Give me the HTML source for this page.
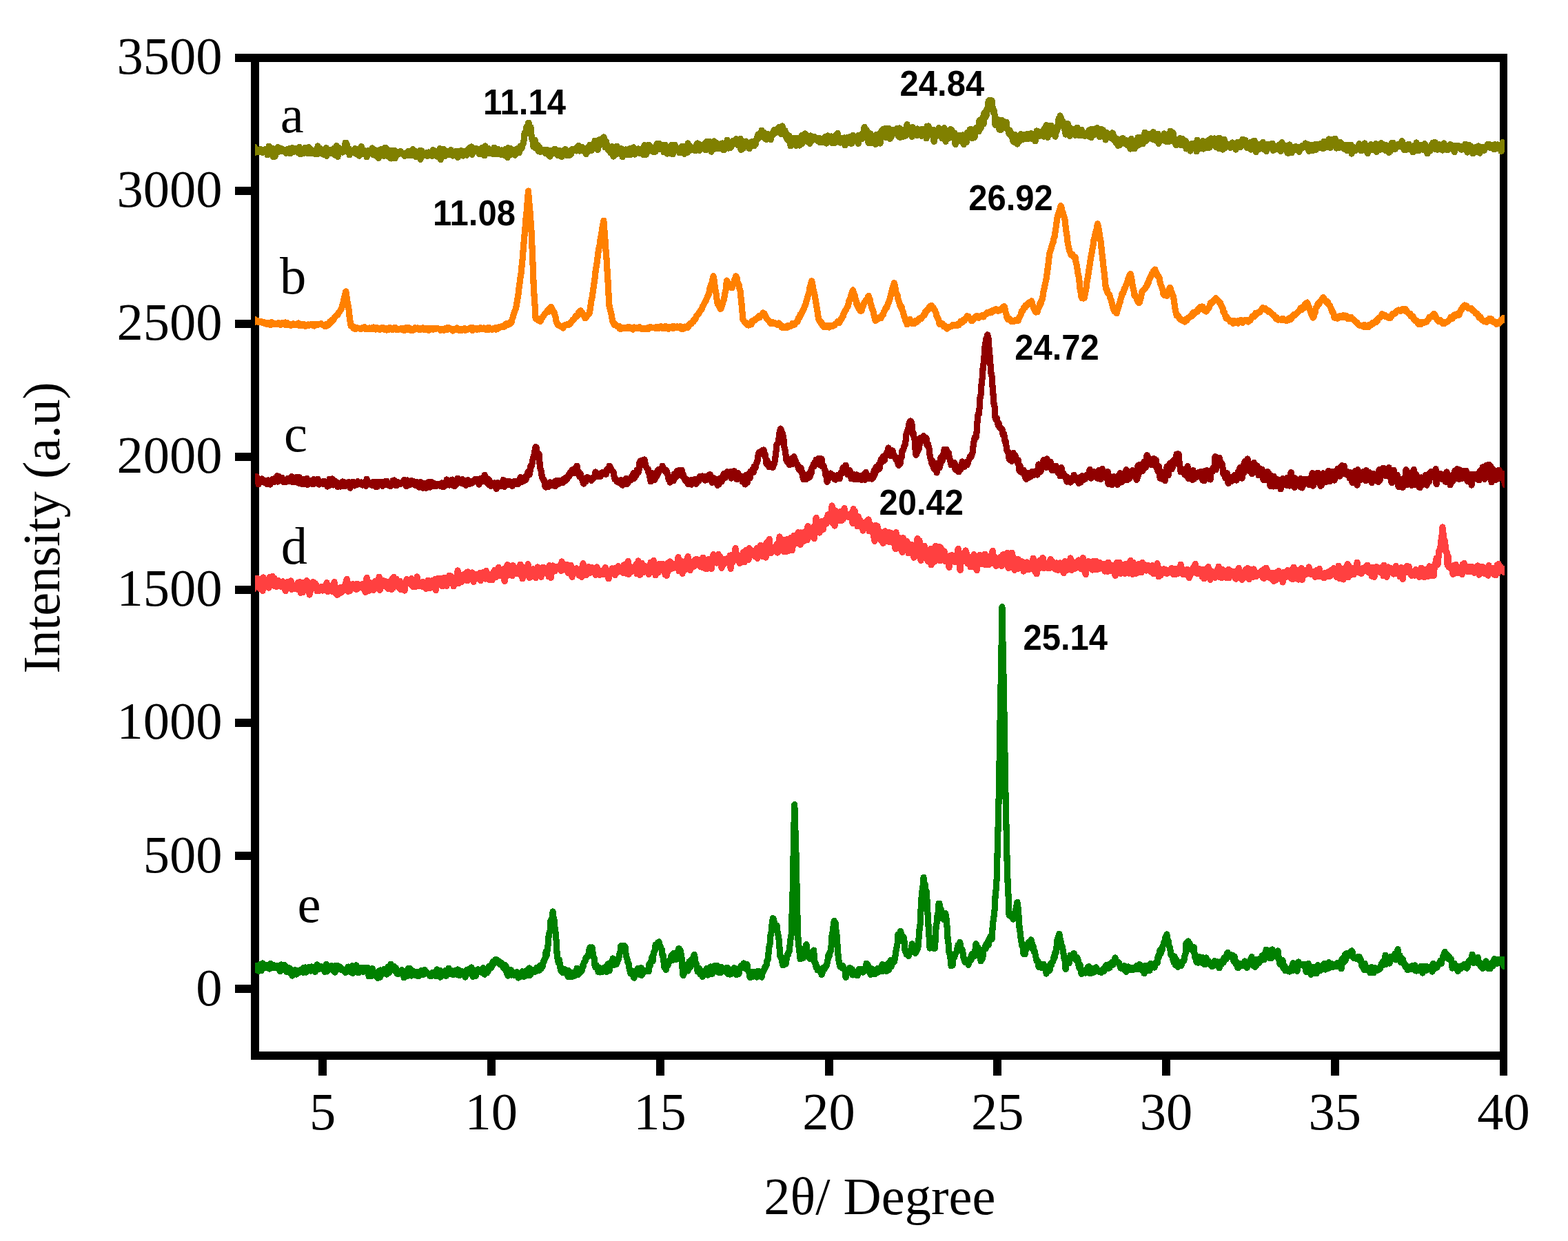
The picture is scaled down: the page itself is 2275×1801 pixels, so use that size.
<!DOCTYPE html>
<html lang="en">
<head>
<meta charset="utf-8">
<title>XRD patterns</title>
<style>
html,body{margin:0;padding:0;background:#fff;}
body{width:2275px;height:1801px;overflow:hidden;}
svg{display:block;}
.ser{font-family:"Liberation Serif",serif;fill:#000;}
.san{font-family:"Liberation Sans",sans-serif;font-weight:bold;fill:#000;}
.cv{fill:none;stroke-linejoin:round;stroke-linecap:butt;shape-rendering:crispEdges;}
</style>
</head>
<body>
<svg width="2275" height="1801" viewBox="0 0 2275 1801">
<rect x="0" y="0" width="2275" height="1801" fill="#fff"/>
<g fill="#000" shape-rendering="crispEdges">
<rect x="364" y="78" width="12" height="1460"/>
<rect x="2176" y="78" width="11" height="1460"/>
<rect x="364" y="78" width="1823" height="12"/>
<rect x="364" y="1526" width="1823" height="12"/>
<rect x="341" y="78" width="24" height="12"/>
<rect x="341" y="271" width="24" height="12"/>
<rect x="341" y="464" width="24" height="12"/>
<rect x="341" y="657" width="24" height="12"/>
<rect x="341" y="850" width="24" height="12"/>
<rect x="341" y="1043" width="24" height="12"/>
<rect x="341" y="1236" width="24" height="12"/>
<rect x="341" y="1429" width="24" height="12"/>
<rect x="462" y="1537" width="12" height="24"/>
<rect x="707" y="1537" width="12" height="24"/>
<rect x="952" y="1537" width="12" height="24"/>
<rect x="1197" y="1537" width="12" height="24"/>
<rect x="1441" y="1537" width="12" height="24"/>
<rect x="1686" y="1537" width="12" height="24"/>
<rect x="1931" y="1537" width="12" height="24"/>
<rect x="2176" y="1537" width="11" height="24"/>
</g>
<defs><clipPath id="plotclip"><rect x="370" y="0" width="1813" height="1801"/></clipPath></defs>
<g clip-path="url(#plotclip)">
<polyline class="cv" stroke="#808000" stroke-width="9.2" points="366.1,221.1 367.1,221.1 368.1,219.4 369.1,213.5 370.1,221.4 371.1,219.8 372.1,216.4 373.1,220.5 374.1,219.9 375.1,219.7 376.1,218.9 377.1,220.9 378.1,216.4 379.1,218.5 380.1,217.5 381.1,221.5 382.1,219.6 383.1,218.5 384.1,216.9 385.1,218.9 386.1,219.9 387.1,219.0 388.1,224.8 389.1,223.7 390.1,212.1 391.1,213.2 392.1,219.4 393.1,218.4 394.1,220.7 395.1,220.7 396.1,227.5 397.1,215.8 398.1,218.4 399.1,227.1 400.1,222.1 401.1,222.1 402.1,217.8 403.1,213.7 404.1,220.2 405.1,220.0 406.1,215.1 407.1,217.1 408.1,219.2 409.1,216.0 410.1,219.1 411.1,219.7 412.1,219.5 413.1,217.5 414.1,221.4 415.1,222.5 416.1,220.4 417.1,216.3 418.1,221.8 419.1,217.3 420.1,222.3 421.1,215.2 422.1,222.4 423.1,219.0 424.1,214.5 425.1,217.9 426.1,219.3 427.1,220.1 428.1,215.6 429.1,215.1 430.1,219.9 431.1,217.5 432.1,220.1 433.1,222.0 434.1,213.3 435.1,220.2 436.1,223.8 437.1,218.3 438.1,216.4 439.1,222.1 440.1,220.3 441.1,222.7 442.1,218.2 443.1,214.1 444.1,219.1 445.1,217.9 446.1,222.4 447.1,220.3 448.1,213.7 449.1,215.3 450.1,222.9 451.1,222.2 452.1,217.4 453.1,219.8 454.1,221.4 455.1,221.5 456.1,223.0 457.1,220.8 458.1,219.6 459.1,219.0 460.1,223.8 461.1,212.0 462.1,219.5 463.1,220.2 464.1,214.9 465.1,221.3 466.1,217.7 467.1,223.2 468.1,219.6 469.1,222.4 470.1,224.4 471.1,221.3 472.1,216.7 473.1,214.4 474.1,226.2 475.1,219.4 476.1,217.3 477.1,220.3 478.1,219.0 479.1,222.8 480.1,219.8 481.1,219.6 482.1,217.0 483.1,221.2 484.1,215.7 485.1,221.9 486.1,225.0 487.1,213.9 488.1,211.4 489.1,221.6 490.1,227.3 491.1,215.6 492.1,214.7 493.1,221.3 494.1,216.1 495.1,217.3 496.1,217.8 497.1,221.0 498.1,217.6 499.1,219.8 500.1,213.6 501.1,207.2 502.1,207.4 503.1,208.7 504.1,216.3 505.1,215.5 506.1,215.6 507.1,224.9 508.1,219.5 509.1,219.5 510.1,221.6 511.1,218.3 512.1,219.0 513.1,221.5 514.1,221.0 515.1,215.8 516.1,223.1 517.1,218.0 518.1,216.3 519.1,216.9 520.1,218.8 521.1,226.2 522.1,216.0 523.1,221.0 524.1,212.6 525.1,220.5 526.1,223.8 527.1,219.7 528.1,218.3 529.1,221.5 530.1,223.2 531.1,223.1 532.1,227.9 533.1,221.6 534.1,218.7 535.1,220.4 536.1,220.7 537.1,221.4 538.1,220.9 539.1,221.7 540.1,215.0 541.1,224.2 542.1,219.1 543.1,217.0 544.1,223.6 545.1,226.1 546.1,223.2 547.1,222.0 548.1,218.1 549.1,229.5 550.1,224.8 551.1,217.5 552.1,218.8 553.1,222.0 554.1,216.1 555.1,222.4 556.1,220.2 557.1,226.4 558.1,225.5 559.1,214.1 560.1,222.3 561.1,216.3 562.1,226.3 563.1,223.0 564.1,224.4 565.1,218.6 566.1,229.2 567.1,230.0 568.1,218.8 569.1,224.1 570.1,220.4 571.1,222.8 572.1,218.4 573.1,229.9 574.1,219.6 575.1,222.1 576.1,225.1 577.1,221.0 578.1,222.5 579.1,221.4 580.1,223.1 581.1,219.4 582.1,222.1 583.1,223.0 584.1,222.6 585.1,224.0 586.1,222.8 587.1,226.6 588.1,222.7 589.1,223.4 590.1,221.5 591.1,222.1 592.1,219.4 593.1,225.9 594.1,219.9 595.1,221.4 596.1,225.4 597.1,225.6 598.1,222.7 599.1,216.8 600.1,225.8 601.1,225.2 602.1,219.2 603.1,227.2 604.1,221.8 605.1,220.3 606.1,224.8 607.1,223.8 608.1,225.2 609.1,218.7 610.1,231.2 611.1,222.3 612.1,218.9 613.1,226.7 614.1,223.1 615.1,225.6 616.1,223.1 617.1,224.1 618.1,225.2 619.1,221.6 620.1,226.7 621.1,222.5 622.1,221.0 623.1,224.5 624.1,225.8 625.1,223.3 626.1,220.9 627.1,226.3 628.1,217.6 629.1,220.2 630.1,224.1 631.1,218.9 632.1,224.0 633.1,223.7 634.1,227.1 635.1,220.5 636.1,221.5 637.1,225.0 638.1,215.7 639.1,231.7 640.1,221.0 641.1,220.8 642.1,226.6 643.1,223.2 644.1,216.8 645.1,225.5 646.1,226.3 647.1,221.4 648.1,222.0 649.1,224.7 650.1,219.6 651.1,224.4 652.1,223.5 653.1,220.2 654.1,217.5 655.1,221.7 656.1,219.3 657.1,226.1 658.1,222.9 659.1,225.1 660.1,222.7 661.1,223.1 662.1,219.2 663.1,224.4 664.1,228.5 665.1,220.7 666.1,219.6 667.1,221.0 668.1,219.6 669.1,218.7 670.1,221.6 671.1,219.8 672.1,226.0 673.1,220.6 674.1,221.6 675.1,223.7 676.1,219.0 677.1,225.2 678.1,217.4 679.1,216.6 680.1,218.1 681.1,218.8 682.1,213.9 683.1,218.9 684.1,212.9 685.1,224.2 686.1,218.9 687.1,216.8 688.1,215.9 689.1,217.9 690.1,218.5 691.1,215.5 692.1,216.0 693.1,218.8 694.1,217.6 695.1,223.0 696.1,223.8 697.1,219.7 698.1,221.4 699.1,214.8 700.1,222.1 701.1,219.7 702.1,221.7 703.1,225.8 704.1,211.9 705.1,221.0 706.1,216.0 707.1,222.3 708.1,215.3 709.1,218.3 710.1,220.9 711.1,222.5 712.1,220.5 713.1,217.4 714.1,218.3 715.1,223.6 716.1,220.3 717.1,214.2 718.1,223.5 719.1,222.0 720.1,223.7 721.1,219.3 722.1,223.6 723.1,216.7 724.1,222.7 725.1,218.8 726.1,223.2 727.1,224.4 728.1,218.0 729.1,220.6 730.1,220.9 731.1,225.2 732.1,223.5 733.1,216.4 734.1,222.6 735.1,223.7 736.1,228.7 737.1,214.6 738.1,218.7 739.1,225.4 740.1,215.4 741.1,215.9 742.1,222.1 743.1,223.8 744.1,217.5 745.1,221.8 746.1,220.1 747.1,225.2 748.1,219.5 749.1,223.0 750.1,215.9 751.1,218.4 752.1,218.6 753.1,221.8 754.1,218.5 755.1,212.2 756.1,216.2 757.1,215.2 758.1,210.6 759.1,208.5 760.1,203.7 761.1,193.2 762.1,195.1 763.1,191.0 764.1,183.5 765.1,186.1 766.5,178.4 767.1,178.4 768.1,182.1 769.1,194.6 770.1,184.7 771.1,197.0 772.1,203.0 773.1,205.6 774.1,213.2 775.1,206.8 776.1,203.2 777.1,215.0 778.1,208.6 779.1,212.6 780.1,210.3 781.1,219.4 782.1,219.5 783.1,214.2 784.1,220.5 785.1,217.8 786.1,217.1 787.1,218.1 788.1,217.4 789.1,220.7 790.1,219.8 791.1,217.6 792.1,222.9 793.1,217.1 794.1,220.7 795.1,221.4 796.1,225.6 797.1,218.5 798.1,227.1 799.1,221.5 800.1,220.2 801.1,218.3 802.1,222.9 803.1,220.9 804.1,216.5 805.1,216.4 806.1,218.4 807.1,217.9 808.1,224.4 809.1,225.3 810.1,223.4 811.1,221.4 812.1,218.4 813.1,220.2 814.1,223.2 815.1,227.7 816.1,223.1 817.1,218.6 818.1,219.7 819.1,217.7 820.1,216.5 821.1,218.6 822.1,219.9 823.1,225.8 824.1,219.1 825.1,223.8 826.1,225.2 827.1,218.8 828.1,224.4 829.1,220.9 830.1,216.6 831.1,219.0 832.1,218.0 833.1,216.9 834.1,216.9 835.1,218.1 836.1,219.0 837.1,214.0 838.1,217.1 839.1,211.4 840.1,217.9 841.1,219.1 842.1,217.2 843.1,217.5 844.1,218.5 845.1,213.7 846.1,215.2 847.1,217.8 848.1,219.5 849.1,217.1 850.1,223.7 851.1,215.0 852.1,218.9 853.1,219.8 854.1,214.4 855.1,211.7 856.1,210.2 857.1,215.1 858.1,218.5 859.1,215.2 860.1,214.7 861.1,212.2 862.1,214.9 863.1,204.2 864.1,212.3 865.1,210.8 866.1,204.9 867.1,217.4 868.1,203.4 869.1,203.8 870.1,202.7 871.1,210.3 872.1,201.9 873.1,206.7 874.1,205.4 875.1,203.2 876.1,198.9 877.1,203.4 878.1,213.8 879.1,204.7 880.1,208.3 881.1,212.0 882.1,216.9 883.1,216.1 884.1,219.1 885.1,213.7 886.1,221.8 887.1,220.5 888.1,212.6 889.1,224.4 890.1,227.0 891.1,216.1 892.1,219.3 893.1,224.5 894.1,213.9 895.1,212.1 896.1,214.8 897.1,217.7 898.1,217.8 899.1,222.4 900.1,221.2 901.1,215.7 902.1,222.6 903.1,227.7 904.1,225.3 905.1,224.6 906.1,220.9 907.1,224.4 908.1,217.0 909.1,223.3 910.1,220.1 911.1,224.5 912.1,221.9 913.1,216.0 914.1,220.4 915.1,224.4 916.1,215.5 917.1,217.5 918.1,216.6 919.1,213.8 920.1,222.9 921.1,224.0 922.1,222.0 923.1,219.8 924.1,218.6 925.1,219.6 926.1,215.9 927.1,221.8 928.1,222.3 929.1,221.7 930.1,216.2 931.1,218.4 932.1,217.4 933.1,224.6 934.1,218.6 935.1,210.8 936.1,219.3 937.1,224.7 938.1,220.2 939.1,220.9 940.1,217.6 941.1,210.1 942.1,210.6 943.1,212.7 944.1,216.8 945.1,218.3 946.1,219.7 947.1,215.8 948.1,220.6 949.1,215.9 950.1,214.2 951.1,220.0 952.1,213.3 953.1,208.4 954.1,212.6 955.1,216.9 956.1,208.2 957.1,215.1 958.1,215.1 959.1,210.9 960.1,210.7 961.1,214.5 962.1,214.1 963.1,220.8 964.1,217.5 965.1,210.1 966.1,212.8 967.1,218.6 968.1,223.1 969.1,217.4 970.1,217.1 971.1,222.9 972.1,215.8 973.1,214.7 974.1,210.5 975.1,213.8 976.1,223.9 977.1,210.4 978.1,215.7 979.1,210.4 980.1,216.1 981.1,218.9 982.1,214.6 983.1,218.3 984.1,218.2 985.1,217.1 986.1,221.9 987.1,218.3 988.1,214.2 989.1,212.8 990.1,212.1 991.1,217.1 992.1,214.0 993.1,223.5 994.1,222.1 995.1,214.4 996.1,213.9 997.1,221.4 998.1,208.0 999.1,213.4 1000.1,218.6 1001.1,211.6 1002.1,213.2 1003.1,213.6 1004.1,217.4 1005.1,215.4 1006.1,216.3 1007.1,217.0 1008.1,214.9 1009.1,218.9 1010.1,212.0 1011.1,209.3 1012.1,208.0 1013.1,208.5 1014.1,212.5 1015.1,218.4 1016.1,215.2 1017.1,212.2 1018.1,210.4 1019.1,212.3 1020.1,212.7 1021.1,212.0 1022.1,208.7 1023.1,212.2 1024.1,217.8 1025.1,205.7 1026.1,212.9 1027.1,205.8 1028.1,214.4 1029.1,210.8 1030.1,205.7 1031.1,213.8 1032.1,220.2 1033.1,213.7 1034.1,217.6 1035.1,212.9 1036.1,205.0 1037.1,214.9 1038.1,211.4 1039.1,207.4 1040.1,215.8 1041.1,213.8 1042.1,210.7 1043.1,215.9 1044.1,209.3 1045.1,214.9 1046.1,208.8 1047.1,214.2 1048.1,208.0 1049.1,217.6 1050.1,212.9 1051.1,217.2 1052.1,208.6 1053.1,209.8 1054.1,214.7 1055.1,203.2 1056.1,207.3 1057.1,215.1 1058.1,212.9 1059.1,214.7 1060.1,209.8 1061.1,213.0 1062.1,208.0 1063.1,205.5 1064.1,204.2 1065.1,208.4 1066.1,208.3 1067.1,207.9 1068.1,201.8 1069.1,202.5 1070.1,207.9 1071.1,210.9 1072.1,207.6 1073.1,206.4 1074.1,201.4 1075.1,217.3 1076.1,205.5 1077.1,216.0 1078.1,215.5 1079.1,210.6 1080.1,207.3 1081.1,210.0 1082.1,205.1 1083.1,210.4 1084.1,209.4 1085.1,211.3 1086.1,212.9 1087.1,215.8 1088.1,207.7 1089.1,213.1 1090.1,206.1 1091.1,205.7 1092.1,206.7 1093.1,205.3 1094.1,211.7 1095.1,209.9 1096.1,209.6 1097.1,203.1 1098.1,202.7 1099.1,197.9 1100.1,195.0 1101.1,200.3 1102.1,198.9 1103.1,193.0 1104.1,198.7 1105.1,189.2 1106.1,194.5 1107.1,193.3 1108.1,194.2 1109.1,192.6 1110.1,200.8 1111.1,199.9 1112.1,202.7 1113.1,199.2 1114.1,194.3 1115.1,198.3 1116.1,195.3 1117.1,200.6 1118.1,202.7 1119.1,198.5 1120.1,194.1 1121.1,194.2 1122.1,195.5 1123.1,188.4 1124.1,193.6 1125.1,192.9 1126.1,189.2 1127.1,188.7 1128.1,190.0 1129.1,185.4 1130.1,184.5 1131.1,189.7 1132.1,188.3 1133.1,194.5 1134.1,185.2 1135.1,182.9 1136.1,193.9 1137.1,194.7 1138.1,189.2 1139.1,189.5 1140.1,197.8 1141.1,194.4 1142.1,202.7 1143.1,196.3 1144.1,204.0 1145.1,197.3 1146.1,204.8 1147.1,211.9 1148.1,205.5 1149.1,209.8 1150.1,204.2 1151.1,203.0 1152.1,200.5 1153.1,209.8 1154.1,205.4 1155.1,211.5 1156.1,200.7 1157.1,204.0 1158.1,204.9 1159.1,209.7 1160.1,211.0 1161.1,201.4 1162.1,199.3 1163.1,196.8 1164.1,208.2 1165.1,202.5 1166.1,200.1 1167.1,202.2 1168.1,194.0 1169.1,195.3 1170.1,205.1 1171.1,202.8 1172.1,201.9 1173.1,197.6 1174.1,203.7 1175.1,208.3 1176.1,197.0 1177.1,201.8 1178.1,200.2 1179.1,203.3 1180.1,202.0 1181.1,201.5 1182.1,198.8 1183.1,202.1 1184.1,199.9 1185.1,201.8 1186.1,202.2 1187.1,205.0 1188.1,200.4 1189.1,201.4 1190.1,206.8 1191.1,202.0 1192.1,201.9 1193.1,206.3 1194.1,204.1 1195.1,203.5 1196.1,204.0 1197.1,198.5 1198.1,204.9 1199.1,208.1 1200.1,205.2 1201.1,197.0 1202.1,203.9 1203.1,199.3 1204.1,201.8 1205.1,203.1 1206.1,197.9 1207.1,207.7 1208.1,202.2 1209.1,205.5 1210.1,204.8 1211.1,207.6 1212.1,206.9 1213.1,196.2 1214.1,202.2 1215.1,193.4 1216.1,200.1 1217.1,204.7 1218.1,205.5 1219.1,207.0 1220.1,200.1 1221.1,202.9 1222.1,201.9 1223.1,206.7 1224.1,208.0 1225.1,199.9 1226.1,210.8 1227.1,201.4 1228.1,199.9 1229.1,204.1 1230.1,204.8 1231.1,203.9 1232.1,198.9 1233.1,208.0 1234.1,202.0 1235.1,208.4 1236.1,207.9 1237.1,196.3 1238.1,197.6 1239.1,197.6 1240.1,203.1 1241.1,202.3 1242.1,203.3 1243.1,198.5 1244.1,204.0 1245.1,208.5 1246.1,196.2 1247.1,200.1 1248.1,200.2 1249.1,196.6 1250.1,194.3 1251.1,201.4 1252.1,197.3 1253.1,193.6 1254.1,184.4 1255.1,197.6 1256.1,190.9 1257.1,188.4 1258.1,191.3 1259.1,192.6 1260.1,207.2 1261.1,200.5 1262.1,202.2 1263.1,194.0 1264.1,207.7 1265.1,199.1 1266.1,198.8 1267.1,207.1 1268.1,200.0 1269.1,208.2 1270.1,209.6 1271.1,195.5 1272.1,203.5 1273.1,196.5 1274.1,203.9 1275.1,207.2 1276.1,194.2 1277.1,208.1 1278.1,195.9 1279.1,189.8 1280.1,193.8 1281.1,198.2 1282.1,187.1 1283.1,193.8 1284.1,186.7 1285.1,199.4 1286.1,194.0 1287.1,190.9 1288.1,198.0 1289.1,186.1 1290.1,190.4 1291.1,201.4 1292.1,191.4 1293.1,198.6 1294.1,192.8 1295.1,188.6 1296.1,191.1 1297.1,193.1 1298.1,190.9 1299.1,189.2 1300.1,189.7 1301.1,186.5 1302.1,194.7 1303.1,196.4 1304.1,198.5 1305.1,186.0 1306.1,199.4 1307.1,195.6 1308.1,188.4 1309.1,195.5 1310.1,198.5 1311.1,196.5 1312.1,196.9 1313.1,197.5 1314.1,196.7 1315.1,191.4 1316.1,180.7 1317.1,186.7 1318.1,191.7 1319.1,187.0 1320.1,192.3 1321.4,188.2 1322.1,188.6 1323.1,198.3 1324.1,184.5 1325.1,194.5 1326.1,188.0 1327.1,187.0 1328.1,194.3 1329.1,188.8 1330.1,196.7 1331.1,187.0 1332.1,193.5 1333.1,189.6 1334.1,193.2 1335.1,193.0 1336.1,188.9 1337.1,197.2 1338.1,187.1 1339.1,187.9 1340.1,196.6 1341.1,196.4 1342.1,194.3 1343.1,192.1 1344.1,200.9 1345.1,183.2 1346.1,184.9 1347.1,183.0 1347.9,187.6 1349.1,190.1 1350.1,195.2 1351.1,195.4 1352.1,190.4 1353.1,188.3 1354.1,188.4 1355.1,205.4 1356.1,200.1 1357.1,199.1 1358.1,195.0 1359.1,195.7 1360.1,195.0 1361.1,195.1 1362.1,185.8 1363.1,196.4 1364.1,194.8 1365.1,198.1 1366.1,197.7 1367.1,200.9 1368.1,196.6 1369.1,200.7 1370.1,185.8 1371.1,191.2 1372.1,205.3 1373.1,190.6 1374.1,195.3 1375.1,200.2 1376.1,192.3 1377.1,200.3 1378.1,189.7 1379.1,187.5 1380.1,190.6 1381.1,189.2 1382.1,197.6 1383.1,196.3 1384.1,199.7 1385.1,193.1 1386.1,209.6 1387.1,198.2 1388.1,198.7 1389.1,201.4 1390.1,198.1 1391.1,196.3 1392.1,200.1 1393.1,204.5 1394.1,203.3 1395.1,204.6 1396.1,197.0 1397.1,195.9 1398.1,209.7 1399.1,198.4 1400.1,201.9 1401.1,203.1 1402.1,206.4 1403.1,192.5 1404.1,196.8 1405.1,196.9 1406.1,197.5 1407.1,188.0 1408.1,198.4 1409.1,187.8 1410.1,200.2 1411.1,200.6 1412.1,199.7 1413.1,189.5 1414.1,199.2 1415.1,188.9 1416.1,185.9 1417.1,186.0 1418.1,185.5 1419.1,189.3 1420.1,190.9 1421.1,174.6 1422.1,180.7 1423.1,186.3 1424.1,181.1 1425.1,181.0 1426.1,169.3 1427.1,179.9 1428.1,163.3 1429.1,167.9 1430.1,169.7 1431.1,168.2 1432.1,157.6 1433.1,157.1 1434.1,147.2 1435.1,145.5 1436.0,145.6 1437.1,148.2 1438.1,149.9 1439.1,145.9 1440.1,156.1 1441.1,163.0 1442.1,160.5 1443.1,166.6 1444.1,181.7 1445.1,177.0 1446.1,176.0 1447.1,173.2 1448.1,177.1 1449.1,180.4 1450.1,188.2 1451.1,177.4 1452.1,188.5 1453.1,174.1 1454.1,176.0 1455.1,181.5 1456.1,177.8 1457.1,176.5 1458.1,181.6 1459.1,186.1 1460.1,177.1 1461.1,185.7 1462.1,187.7 1463.1,187.5 1464.1,194.3 1465.1,189.2 1466.1,191.4 1467.1,194.6 1468.1,199.2 1469.1,195.9 1470.1,205.5 1471.1,195.1 1472.1,206.2 1473.1,195.7 1474.1,198.9 1475.1,201.3 1476.1,209.1 1477.1,203.4 1478.1,197.1 1479.1,205.0 1480.1,197.7 1481.1,194.8 1482.1,200.5 1483.1,198.6 1484.1,202.5 1485.1,195.3 1486.1,199.5 1487.1,200.5 1488.1,198.6 1489.1,197.3 1490.1,194.3 1491.1,201.8 1492.1,198.3 1493.1,200.1 1494.1,196.3 1495.1,198.1 1496.1,193.3 1497.1,198.6 1498.1,201.8 1499.1,198.8 1500.1,202.4 1501.1,200.0 1502.1,204.9 1503.1,197.2 1504.1,190.0 1505.1,198.6 1506.1,195.2 1507.1,190.9 1508.1,197.5 1509.1,195.1 1510.1,195.2 1511.1,191.0 1512.1,192.7 1513.1,192.2 1514.1,198.2 1515.1,186.7 1516.1,188.9 1517.1,190.8 1518.1,181.8 1519.1,182.6 1520.1,199.2 1521.1,182.3 1522.1,192.7 1523.1,186.7 1524.1,187.3 1525.1,182.2 1526.1,187.1 1527.1,194.5 1528.1,185.4 1529.1,194.1 1530.1,192.9 1531.1,198.2 1532.1,185.6 1533.1,190.9 1534.1,187.3 1535.1,180.4 1536.1,172.2 1537.1,182.8 1538.1,167.9 1539.1,170.7 1540.1,177.1 1541.1,181.2 1542.1,176.0 1543.1,182.5 1544.1,183.0 1545.1,189.9 1546.1,195.0 1547.1,179.3 1548.1,191.5 1549.1,179.6 1550.1,189.1 1551.1,184.7 1552.1,197.4 1553.1,190.1 1554.1,186.6 1555.1,187.7 1556.1,187.5 1557.1,190.7 1558.1,189.5 1559.1,192.9 1560.1,196.5 1561.1,193.6 1562.1,186.3 1563.1,185.1 1564.1,189.0 1565.1,196.6 1566.1,191.5 1567.1,190.6 1568.1,194.2 1569.1,188.4 1570.1,189.9 1571.1,196.9 1572.1,194.1 1573.1,193.9 1574.1,197.3 1575.1,193.9 1576.1,193.0 1577.1,193.4 1578.1,197.2 1579.1,194.5 1580.1,189.0 1581.1,192.1 1582.1,195.3 1583.1,199.7 1584.1,187.2 1585.1,192.6 1586.1,189.7 1587.1,193.6 1588.1,191.6 1589.1,195.1 1590.1,190.8 1591.1,186.1 1592.1,185.6 1593.1,189.5 1594.1,190.5 1595.1,198.7 1596.1,197.6 1597.1,187.3 1598.1,194.3 1599.1,188.7 1600.1,188.4 1601.1,198.2 1602.1,197.9 1603.1,192.0 1604.1,203.0 1605.1,193.0 1606.1,192.6 1607.1,200.2 1608.1,198.9 1609.1,197.7 1610.1,198.5 1611.1,200.0 1612.1,199.0 1613.1,199.2 1614.1,192.8 1615.1,195.4 1616.1,203.5 1617.1,198.7 1618.1,204.0 1619.1,207.1 1620.1,201.1 1621.1,203.9 1622.1,211.2 1623.1,206.0 1624.1,210.8 1625.1,209.8 1626.1,207.0 1627.1,203.8 1628.1,201.2 1629.1,200.4 1630.1,206.9 1631.1,207.1 1632.1,204.8 1633.1,209.1 1634.1,203.6 1635.1,210.6 1636.1,206.7 1637.1,206.6 1638.1,207.0 1639.1,206.9 1640.1,216.1 1641.1,201.4 1642.1,208.7 1643.1,213.1 1644.1,211.3 1645.1,207.6 1646.1,215.8 1647.1,205.1 1648.1,204.4 1649.1,211.9 1650.1,203.1 1651.1,199.3 1652.1,210.5 1653.1,209.2 1654.1,208.2 1655.1,202.6 1656.1,204.4 1657.1,199.0 1658.1,208.7 1659.1,204.2 1660.1,203.3 1661.1,192.1 1662.1,202.2 1663.1,204.3 1664.1,202.5 1665.1,200.2 1666.1,196.5 1667.1,194.5 1668.1,197.5 1669.1,196.0 1670.1,195.2 1671.1,193.7 1672.1,202.0 1673.1,191.5 1674.1,196.6 1675.1,195.0 1676.1,201.8 1677.1,204.0 1678.1,203.9 1679.1,202.4 1680.1,194.3 1681.1,208.2 1682.1,202.4 1683.1,200.3 1684.1,201.1 1685.1,200.0 1686.1,203.2 1687.1,203.1 1688.1,200.8 1689.1,194.0 1690.1,202.6 1691.1,204.9 1692.1,205.4 1693.1,203.1 1694.1,204.8 1695.1,205.7 1696.1,198.6 1697.1,204.8 1698.1,190.2 1699.1,191.6 1700.1,191.7 1700.9,194.1 1702.1,192.8 1703.1,203.7 1704.1,205.8 1705.1,203.6 1706.1,210.7 1707.1,205.4 1708.1,202.9 1709.1,206.1 1710.1,205.0 1711.1,208.7 1712.1,200.5 1713.1,210.5 1714.1,205.2 1715.1,210.7 1716.1,201.8 1717.1,206.5 1718.1,208.8 1719.1,212.3 1720.1,204.5 1721.1,216.0 1722.1,211.8 1723.1,208.3 1724.1,215.1 1725.1,210.9 1726.1,215.0 1727.1,219.1 1728.1,213.7 1729.1,208.8 1730.1,209.3 1731.1,213.2 1732.1,212.2 1733.1,208.0 1734.1,208.7 1735.1,213.9 1736.1,219.9 1737.1,203.1 1738.1,214.4 1739.1,210.9 1740.1,214.8 1741.1,215.2 1742.1,212.2 1743.1,208.1 1744.1,206.7 1745.1,204.6 1746.1,216.1 1747.1,210.4 1748.1,208.8 1749.1,209.5 1750.1,205.2 1751.1,211.1 1752.1,214.7 1753.1,213.7 1754.1,203.1 1755.1,214.0 1756.1,205.6 1757.1,200.9 1758.1,203.2 1759.1,203.9 1760.1,207.3 1761.1,203.1 1762.1,201.0 1763.1,205.4 1764.1,213.5 1765.1,203.4 1766.1,208.2 1767.1,207.0 1768.1,215.3 1769.1,200.1 1770.1,211.7 1771.1,203.0 1772.1,205.9 1773.1,208.1 1774.1,217.1 1775.1,206.1 1776.1,202.2 1777.1,214.5 1778.1,206.7 1779.1,209.3 1780.1,210.4 1781.1,211.2 1782.1,210.5 1783.1,212.2 1784.1,212.6 1785.1,214.3 1786.1,209.5 1787.1,208.2 1788.1,207.0 1789.1,213.2 1790.1,210.8 1791.1,213.0 1792.1,212.9 1793.1,217.2 1794.1,211.6 1795.1,213.6 1796.1,206.2 1797.1,206.6 1798.1,209.5 1799.1,206.0 1800.1,213.2 1801.1,205.5 1802.1,210.7 1803.1,202.2 1804.1,206.2 1805.1,209.1 1806.1,209.4 1807.1,203.7 1808.1,211.0 1809.1,214.4 1810.1,213.3 1811.1,208.6 1812.1,209.0 1813.1,206.9 1814.1,213.8 1815.1,217.0 1816.1,209.8 1817.1,205.5 1818.1,212.8 1819.1,214.8 1820.1,204.1 1821.1,213.0 1822.1,220.7 1823.1,215.8 1824.1,214.9 1825.1,214.5 1826.1,217.1 1827.1,209.8 1828.1,210.2 1829.1,214.9 1830.1,210.8 1831.1,214.4 1832.1,206.3 1833.1,216.3 1834.1,216.7 1835.1,213.7 1836.1,214.2 1837.1,219.6 1838.1,209.6 1839.1,210.2 1840.1,209.6 1841.1,212.1 1842.1,210.0 1843.1,213.9 1844.1,211.4 1845.1,208.4 1846.1,208.1 1847.1,218.4 1848.1,213.7 1849.1,213.1 1850.1,214.1 1851.1,213.7 1852.1,216.9 1853.1,216.2 1854.1,211.9 1855.1,211.1 1856.1,210.1 1857.1,209.5 1858.1,219.4 1859.1,210.8 1860.1,206.7 1861.1,211.1 1862.1,211.3 1863.1,215.4 1864.1,210.9 1865.1,216.2 1866.1,215.6 1867.1,218.9 1868.1,222.2 1869.1,222.3 1870.1,219.2 1871.1,209.9 1872.1,212.7 1873.1,215.1 1874.1,221.8 1875.1,216.7 1876.1,218.6 1877.1,213.5 1878.1,216.4 1879.1,216.8 1880.1,212.5 1881.1,217.0 1882.1,218.1 1883.1,213.6 1884.1,217.9 1885.1,220.3 1886.1,214.4 1887.1,214.1 1888.1,212.9 1889.1,211.7 1890.1,214.5 1891.1,212.3 1892.1,212.6 1893.1,210.9 1894.1,208.0 1895.1,210.1 1896.1,214.7 1897.1,209.1 1898.1,211.0 1899.1,219.3 1900.1,217.3 1901.1,210.6 1902.1,215.3 1903.1,210.6 1904.1,218.9 1905.1,210.7 1906.1,213.1 1907.1,217.8 1908.1,209.6 1909.1,217.4 1910.1,209.5 1911.1,213.3 1912.1,211.3 1913.1,212.0 1914.1,212.8 1915.1,211.9 1916.1,208.3 1917.1,214.8 1918.1,213.8 1919.1,215.5 1920.1,215.4 1921.1,205.1 1922.1,214.2 1923.1,213.9 1924.1,206.8 1925.1,212.1 1926.1,213.2 1927.1,205.5 1928.1,202.0 1929.1,205.3 1930.1,214.3 1931.1,207.0 1932.1,202.2 1933.1,206.2 1934.1,204.0 1935.1,206.6 1936.1,208.9 1937.1,201.1 1938.1,210.9 1939.1,215.2 1940.1,209.7 1941.1,209.3 1942.1,214.9 1943.1,206.6 1944.1,207.0 1945.1,206.7 1946.1,211.4 1947.1,213.7 1948.1,212.2 1949.1,214.8 1950.1,216.1 1951.1,215.1 1952.1,210.6 1953.1,212.9 1954.1,218.6 1955.1,210.5 1956.1,213.5 1957.1,213.0 1958.1,214.0 1959.1,211.0 1960.1,210.1 1961.1,223.1 1962.1,218.7 1963.1,212.8 1964.1,215.3 1965.1,218.1 1966.1,214.6 1967.1,218.2 1968.1,213.9 1969.1,215.0 1970.1,216.1 1971.1,214.9 1972.1,208.8 1973.1,216.9 1974.1,217.9 1975.1,218.8 1976.1,213.4 1977.1,217.9 1978.1,217.2 1979.1,209.8 1980.1,208.0 1981.1,217.4 1982.1,212.0 1983.1,218.8 1984.1,222.6 1985.1,212.6 1986.1,212.0 1987.1,214.1 1988.1,216.4 1989.1,209.6 1990.1,217.9 1991.1,216.7 1992.1,215.3 1993.1,210.8 1994.1,216.1 1995.1,215.9 1996.1,208.7 1997.1,220.5 1998.1,212.0 1999.1,214.5 2000.1,211.4 2001.1,214.7 2002.1,217.6 2003.1,210.7 2004.1,207.7 2005.1,212.1 2006.1,209.1 2007.1,211.2 2008.1,213.5 2009.1,213.8 2010.1,218.7 2011.1,210.5 2012.1,215.3 2013.1,212.1 2014.1,218.6 2015.1,221.5 2016.1,214.6 2017.1,219.4 2018.1,211.4 2019.1,207.5 2020.1,208.5 2021.1,207.3 2022.1,209.4 2023.1,211.8 2024.1,216.6 2025.1,214.9 2026.1,213.9 2027.1,210.6 2028.1,209.5 2029.1,212.0 2030.1,212.3 2031.1,212.6 2032.1,212.8 2033.1,211.0 2034.1,204.5 2035.1,207.4 2036.1,208.6 2037.1,217.7 2038.1,210.3 2039.1,214.4 2040.1,217.3 2041.1,213.5 2042.1,211.1 2043.1,211.6 2044.1,209.2 2045.1,214.1 2046.1,217.2 2047.1,215.4 2048.1,216.2 2049.1,216.2 2050.1,220.9 2051.1,211.8 2052.1,214.8 2053.1,216.9 2054.1,218.9 2055.1,207.0 2056.1,213.0 2057.1,214.3 2058.1,211.6 2059.1,218.4 2060.1,216.3 2061.1,214.3 2062.1,210.2 2063.1,211.4 2064.1,212.8 2065.1,217.7 2066.1,211.6 2067.1,208.5 2068.1,210.5 2069.1,213.3 2070.1,221.1 2071.1,222.8 2072.1,213.2 2073.1,218.0 2074.1,219.4 2075.1,218.9 2076.1,213.8 2077.1,209.4 2078.1,212.1 2079.1,207.1 2080.1,214.3 2081.1,216.0 2082.1,206.5 2083.1,212.8 2084.1,213.8 2085.1,217.0 2086.1,217.2 2087.1,215.0 2088.1,209.7 2089.1,210.9 2090.1,216.5 2091.1,210.3 2092.1,212.4 2093.1,218.1 2094.1,213.2 2095.1,208.0 2096.1,211.9 2097.1,215.2 2098.1,212.5 2099.1,217.3 2100.1,217.8 2101.1,211.2 2102.1,211.8 2103.1,213.3 2104.1,209.5 2105.1,215.1 2106.1,213.3 2107.1,216.7 2108.1,212.0 2109.1,211.1 2110.1,220.6 2111.1,211.3 2112.1,212.3 2113.1,211.9 2114.1,213.4 2115.1,211.3 2116.1,214.4 2117.1,212.2 2118.1,213.2 2119.1,216.0 2120.1,217.2 2121.1,216.4 2122.1,212.3 2123.1,216.3 2124.1,214.5 2125.1,214.6 2126.1,209.1 2127.1,217.4 2128.1,214.7 2129.1,221.1 2130.1,217.5 2131.1,211.4 2132.1,210.6 2133.1,219.4 2134.1,212.4 2135.1,217.9 2136.1,214.5 2137.1,222.8 2138.1,215.9 2139.1,220.8 2140.1,220.0 2141.1,213.7 2142.1,214.1 2143.1,220.2 2144.1,215.0 2145.1,211.9 2146.1,218.9 2147.1,222.2 2148.1,214.4 2149.1,219.2 2150.1,213.8 2151.1,218.9 2152.1,213.3 2153.1,218.6 2154.1,215.8 2155.1,213.1 2156.1,214.5 2157.1,211.7 2158.1,209.6 2159.1,209.7 2160.1,213.0 2161.1,209.5 2162.1,214.5 2163.1,214.7 2164.1,214.4 2165.1,211.0 2166.1,212.7 2167.1,212.3 2168.1,216.8 2169.1,209.6 2170.1,211.1 2171.1,211.7 2172.1,212.0 2173.1,210.0 2174.1,210.5 2175.1,216.1 2176.1,210.5 2177.1,215.9 2178.1,219.7 2179.1,217.2 2180.1,206.7 2181.1,215.6 2182.1,214.6 2183.1,214.8 2184.1,207.4 2185.1,215.5 2186.1,209.2 2187.0,209.2"/>
<polyline class="cv" stroke="#ff8000" stroke-width="9.2" points="366.1,465.0 367.1,465.0 368.1,465.1 369.1,463.3 370.1,467.3 371.1,466.7 372.1,465.5 373.1,466.9 374.1,466.6 375.1,466.0 376.1,467.8 377.1,466.7 378.1,467.0 379.1,466.7 380.1,468.2 381.1,467.9 382.1,468.8 383.1,467.9 384.1,468.9 385.1,468.1 386.1,470.1 387.1,469.7 388.1,470.0 389.1,470.1 390.1,468.6 391.1,470.4 392.1,471.7 393.1,468.0 394.1,467.9 395.1,468.1 396.1,470.5 397.1,469.8 398.1,470.7 399.1,470.4 400.1,469.9 401.1,469.9 402.1,469.5 403.1,470.5 404.1,468.5 405.1,469.2 406.1,469.9 407.1,471.4 408.1,468.9 409.1,468.6 410.1,469.1 411.1,470.7 412.1,469.5 413.1,471.2 414.1,468.0 415.1,471.1 416.1,471.1 417.1,468.7 418.1,470.3 419.1,471.5 420.1,470.4 421.1,471.4 422.1,472.6 423.1,470.8 424.1,470.3 425.1,469.9 426.1,471.4 427.1,470.6 428.1,470.7 429.1,470.8 430.1,471.6 431.1,470.0 432.1,469.6 433.1,469.0 434.1,472.4 435.1,471.4 436.1,472.9 437.1,471.4 438.1,470.8 439.1,472.1 440.1,471.6 441.1,470.5 442.1,470.9 443.1,473.6 444.1,472.2 445.1,472.2 446.1,471.5 447.1,471.1 448.1,472.6 449.1,471.6 450.1,470.9 451.1,471.5 452.1,470.8 453.1,471.8 454.1,472.7 455.1,470.7 456.1,473.0 457.1,470.9 458.1,471.7 459.1,470.6 460.1,471.2 461.1,471.5 462.1,471.0 463.1,470.7 464.1,470.7 465.1,470.5 466.1,469.7 467.1,471.0 468.1,471.7 469.1,472.1 470.1,471.9 471.1,473.4 472.1,471.5 473.1,470.7 474.1,473.0 475.1,470.0 476.1,472.0 477.1,469.8 478.1,469.9 479.1,466.4 480.1,468.1 481.1,465.9 482.1,463.9 483.1,465.4 484.1,463.3 485.1,461.4 486.1,459.5 487.1,459.0 488.1,457.8 489.1,457.5 490.1,456.5 491.1,453.8 492.1,452.8 493.1,451.7 494.1,449.7 495.1,448.8 496.1,445.3 497.1,442.2 498.1,438.9 499.1,432.9 500.1,430.3 501.1,425.4 501.8,423.0 503.1,431.2 504.1,438.2 505.1,443.3 506.1,450.1 507.1,459.1 508.1,466.5 509.1,473.0 510.1,471.7 511.1,474.5 512.1,473.5 513.1,476.7 514.1,475.3 515.1,477.3 516.1,475.2 517.1,477.0 518.1,475.7 519.1,476.2 520.1,476.7 521.1,476.3 522.1,476.9 523.1,477.4 524.1,477.4 525.1,476.6 526.1,475.4 527.1,475.9 528.1,476.6 529.1,474.6 530.1,477.5 531.1,476.6 532.1,476.6 533.1,477.8 534.1,477.5 535.1,477.1 536.1,475.9 537.1,477.2 538.1,477.2 539.1,476.0 540.1,477.9 541.1,477.4 542.1,475.0 543.1,477.1 544.1,475.7 545.1,478.1 546.1,477.8 547.1,475.9 548.1,476.1 549.1,477.1 550.1,476.8 551.1,478.6 552.1,477.8 553.1,476.8 554.1,477.7 555.1,475.1 556.1,477.4 557.1,478.0 558.1,476.9 559.1,476.4 560.1,477.7 561.1,479.1 562.1,477.4 563.1,476.1 564.1,478.6 565.1,475.3 566.1,477.7 567.1,476.7 568.1,478.2 569.1,476.4 570.1,478.6 571.1,477.6 572.1,475.6 573.1,475.3 574.1,477.0 575.1,478.6 576.1,477.5 577.1,477.4 578.1,477.1 579.1,478.1 580.1,477.8 581.1,477.7 582.1,476.4 583.1,478.6 584.1,478.8 585.1,476.1 586.1,479.7 587.1,478.2 588.1,477.0 589.1,475.6 590.1,478.1 591.1,478.0 592.1,476.9 593.1,475.7 594.1,478.6 595.1,476.9 596.1,477.1 597.1,479.7 598.1,479.7 599.1,478.5 600.1,477.1 601.1,478.2 602.1,475.4 603.1,477.7 604.1,476.8 605.1,476.3 606.1,476.0 607.1,478.1 608.1,477.7 609.1,477.8 610.1,478.5 611.1,476.8 612.1,476.4 613.1,475.9 614.1,477.3 615.1,478.4 616.1,477.5 617.1,478.3 618.1,476.5 619.1,477.2 620.1,476.9 621.1,476.4 622.1,479.6 623.1,478.6 624.1,476.9 625.1,477.0 626.1,477.7 627.1,476.3 628.1,478.2 629.1,476.4 630.1,477.4 631.1,476.7 632.1,477.3 633.1,476.4 634.1,476.2 635.1,476.8 636.1,477.1 637.1,477.5 638.1,477.9 639.1,479.3 640.1,478.6 641.1,477.6 642.1,478.6 643.1,477.1 644.1,479.3 645.1,478.4 646.1,476.5 647.1,478.6 648.1,478.7 649.1,475.7 650.1,477.1 651.1,477.4 652.1,476.0 653.1,476.8 654.1,477.0 655.1,478.4 656.1,478.2 657.1,480.1 658.1,477.5 659.1,479.1 660.1,478.0 661.1,478.2 662.1,476.8 663.1,476.1 664.1,477.2 665.1,478.7 666.1,479.6 667.1,478.6 668.1,478.4 669.1,477.1 670.1,479.4 671.1,479.2 672.1,477.3 673.1,477.8 674.1,476.8 675.1,479.2 676.1,478.1 677.1,477.6 678.1,478.1 679.1,478.1 680.1,477.2 681.1,476.4 682.1,476.3 683.1,475.8 684.1,478.0 685.1,479.7 686.1,475.8 687.1,477.6 688.1,477.8 689.1,476.4 690.1,477.6 691.1,476.3 692.1,478.5 693.1,476.7 694.1,477.4 695.1,477.9 696.1,476.8 697.1,475.4 698.1,476.7 699.1,477.9 700.1,477.0 701.1,477.3 702.1,476.0 703.1,477.2 704.1,477.8 705.1,477.0 706.1,478.9 707.1,476.8 708.1,475.9 709.1,475.3 710.1,478.0 711.1,476.8 712.1,477.8 713.1,477.3 714.1,478.4 715.1,478.0 716.1,476.4 717.1,477.0 718.1,477.8 719.1,475.4 720.1,478.1 721.1,477.8 722.1,477.4 723.1,475.8 724.1,476.0 725.1,474.2 726.1,475.0 727.1,474.0 728.1,474.3 729.1,473.4 730.1,473.8 731.1,474.3 732.1,471.5 733.1,473.4 734.1,470.1 735.1,469.6 736.1,471.3 737.1,471.0 738.1,471.1 739.1,468.7 740.1,469.9 741.1,469.3 742.1,467.4 743.1,463.1 744.1,460.7 745.1,456.2 746.1,454.0 747.1,450.7 748.1,448.9 749.1,444.2 750.1,438.0 751.1,432.2 752.1,426.2 753.1,417.6 754.1,410.3 755.1,402.4 756.1,396.7 757.1,385.7 758.1,375.9 759.1,363.5 760.1,351.2 761.1,340.6 762.1,328.9 763.1,316.7 764.1,307.2 765.1,294.8 766.5,277.0 767.1,286.0 768.1,297.2 769.1,308.7 770.1,322.7 771.1,336.4 772.1,360.7 773.1,384.6 774.1,411.5 775.1,429.7 776.1,443.2 777.1,461.9 778.1,462.9 779.1,462.8 780.1,464.4 781.1,465.0 782.1,465.5 783.1,465.9 784.1,466.3 785.1,462.2 786.1,462.5 787.1,461.1 788.1,458.9 789.1,457.8 790.1,455.5 791.1,454.8 792.1,454.4 793.1,453.4 794.1,450.9 795.1,452.8 796.1,448.7 797.1,448.2 798.1,446.5 799.3,445.2 800.1,448.0 801.1,448.1 802.1,451.8 803.1,453.5 804.1,453.2 805.1,457.6 806.1,459.9 807.1,466.8 808.1,468.2 809.1,471.5 810.1,470.9 811.1,471.9 812.1,473.1 813.1,473.0 814.1,473.2 815.1,474.1 816.1,475.0 817.1,476.1 818.1,472.5 819.1,473.1 820.1,472.2 821.1,471.2 822.1,470.9 823.1,470.8 824.1,471.9 825.1,470.5 826.1,469.6 827.1,470.3 828.1,468.7 829.1,467.0 830.1,466.4 831.1,463.9 832.1,464.2 833.1,462.8 834.1,460.6 835.1,458.6 836.1,460.1 837.1,457.4 838.1,458.3 839.1,454.2 840.1,454.5 841.1,452.0 842.4,450.8 843.1,452.6 844.1,452.5 845.1,454.7 846.1,456.5 847.1,458.0 848.1,460.0 849.1,461.9 850.1,461.4 851.1,459.9 852.1,458.2 853.1,456.5 854.1,455.9 855.1,454.3 856.1,449.5 857.1,442.4 858.1,435.6 859.1,431.4 860.1,424.0 861.1,417.2 862.1,410.4 863.1,403.8 864.1,393.8 865.1,387.6 866.1,381.5 867.1,373.6 868.1,365.8 869.1,359.2 870.1,355.2 871.1,347.4 872.1,342.7 873.1,336.8 874.1,329.7 875.1,324.7 875.8,320.1 877.1,336.7 878.1,349.4 879.1,364.6 880.1,377.0 881.1,393.5 882.1,409.6 883.1,429.2 884.1,444.8 885.1,448.8 886.1,452.8 887.1,456.4 888.1,462.8 889.1,467.2 890.1,468.5 891.1,471.7 892.1,471.9 893.1,470.8 894.1,471.9 895.1,472.6 896.1,473.8 897.1,474.2 898.1,473.3 899.1,477.0 900.1,476.1 901.1,477.1 902.1,477.1 903.1,475.7 904.1,476.2 905.1,476.7 906.1,476.7 907.1,475.8 908.1,475.4 909.1,476.1 910.1,475.3 911.1,475.5 912.1,474.1 913.1,476.2 914.1,475.1 915.1,475.6 916.1,476.2 917.1,476.6 918.1,478.2 919.1,476.5 920.1,474.9 921.1,476.5 922.1,475.8 923.1,476.8 924.1,475.8 925.1,475.8 926.1,476.0 927.1,475.9 928.1,474.7 929.1,475.9 930.1,476.6 931.1,477.7 932.1,476.2 933.1,476.1 934.1,477.0 935.1,476.9 936.1,477.9 937.1,476.9 938.1,476.2 939.1,477.5 940.1,477.7 941.1,475.6 942.1,476.2 943.1,474.3 944.1,475.6 945.1,475.0 946.1,475.6 947.1,475.3 948.1,475.6 949.1,475.6 950.1,476.2 951.1,475.9 952.1,475.0 953.1,474.2 954.1,476.7 955.1,476.9 956.1,474.9 957.1,475.9 958.1,473.8 959.1,473.7 960.1,474.9 961.1,476.7 962.1,474.2 963.1,474.4 964.1,476.8 965.1,473.3 966.1,475.9 967.1,475.7 968.1,475.0 969.1,475.4 970.1,477.4 971.1,474.1 972.1,474.9 973.1,475.0 974.1,474.5 975.1,473.9 976.1,476.8 977.1,475.4 978.1,473.5 979.1,474.5 980.1,475.6 981.1,475.6 982.1,473.8 983.1,475.1 984.1,475.5 985.1,475.6 986.1,475.6 987.1,473.4 988.1,477.1 989.1,475.4 990.1,477.0 991.1,477.4 992.1,475.0 993.1,474.0 994.1,476.1 995.1,475.0 996.1,474.8 997.1,473.4 998.1,475.3 999.1,472.3 1000.1,470.5 1001.1,470.7 1002.1,469.1 1003.1,469.6 1004.1,468.2 1005.1,466.3 1006.1,466.5 1007.1,463.8 1008.1,463.6 1009.1,462.7 1010.1,459.5 1011.1,457.7 1012.1,457.1 1013.1,456.3 1014.1,453.9 1015.1,452.5 1016.1,450.9 1017.1,449.7 1018.1,448.5 1019.1,445.4 1020.1,443.6 1021.1,442.1 1022.1,439.4 1023.1,438.2 1024.1,436.6 1025.1,434.0 1026.1,431.5 1027.1,428.8 1028.1,427.7 1029.1,423.2 1030.1,417.6 1031.1,414.3 1032.1,413.4 1033.1,409.5 1034.1,404.5 1035.1,400.7 1036.1,406.1 1037.1,414.5 1038.1,422.1 1039.1,426.4 1040.1,434.3 1041.1,440.6 1042.1,442.7 1043.1,442.7 1044.1,445.4 1045.1,448.4 1046.1,448.2 1047.1,444.2 1048.1,441.7 1049.1,437.6 1050.1,435.6 1051.1,430.7 1052.1,424.8 1053.1,420.3 1054.5,407.1 1055.1,408.5 1056.1,410.5 1057.1,412.4 1058.1,413.6 1059.1,415.8 1060.1,417.0 1061.1,417.4 1062.1,417.6 1063.1,414.5 1064.1,411.5 1065.1,408.7 1066.1,404.9 1067.1,403.7 1067.6,400.7 1069.1,403.5 1070.1,409.1 1071.1,411.7 1072.1,413.6 1073.1,419.6 1074.1,422.4 1075.1,432.7 1076.1,442.4 1077.1,454.1 1078.1,464.3 1079.1,465.4 1080.1,467.1 1081.1,467.4 1082.1,468.9 1083.1,469.2 1084.1,471.2 1085.1,471.6 1086.1,472.1 1087.1,471.8 1088.1,470.5 1089.1,470.7 1090.1,470.9 1091.1,465.9 1092.1,467.2 1093.1,465.9 1094.1,465.3 1095.1,463.6 1096.1,464.3 1097.1,463.2 1098.1,462.1 1099.1,461.8 1100.1,460.7 1101.1,458.4 1102.1,460.9 1103.1,458.8 1104.1,457.4 1105.1,457.9 1106.1,456.2 1107.1,454.0 1108.1,456.3 1108.7,454.9 1110.1,457.0 1111.1,459.0 1112.1,462.0 1113.1,463.5 1114.1,464.2 1115.1,465.0 1116.1,466.5 1117.1,468.3 1118.1,469.2 1119.1,468.3 1120.1,467.3 1121.1,469.2 1122.1,468.1 1123.1,468.3 1124.1,468.7 1125.1,469.8 1126.1,469.7 1127.1,470.7 1128.1,471.5 1129.1,471.2 1130.1,468.9 1131.1,469.8 1132.1,472.1 1133.1,472.4 1134.1,475.0 1135.1,473.3 1136.1,473.6 1137.1,475.1 1138.1,475.7 1139.1,474.9 1140.1,475.4 1141.1,473.4 1142.1,473.3 1143.1,475.1 1144.1,472.1 1145.1,474.0 1146.1,473.4 1147.1,473.2 1148.1,472.9 1149.1,472.2 1150.1,469.2 1151.1,469.9 1152.1,470.0 1153.1,471.1 1154.1,468.7 1155.1,468.2 1156.1,466.8 1157.1,466.7 1158.1,462.2 1159.1,460.5 1160.1,460.8 1161.1,456.3 1162.1,457.0 1163.1,454.4 1164.1,451.6 1165.1,451.0 1166.1,448.2 1167.1,446.1 1168.1,443.1 1169.1,441.1 1170.1,436.4 1171.1,433.3 1172.1,429.4 1173.1,426.4 1174.1,423.5 1175.1,416.4 1176.1,415.0 1177.1,409.7 1177.7,407.7 1179.1,414.6 1180.1,420.0 1181.1,424.3 1182.1,428.5 1183.1,434.8 1184.1,440.5 1185.1,446.3 1186.1,452.7 1187.1,459.4 1188.1,464.3 1189.1,465.8 1190.1,465.9 1191.1,468.6 1192.1,468.3 1193.1,472.4 1194.1,471.6 1195.1,473.9 1196.1,474.9 1197.1,472.5 1198.1,474.3 1199.1,473.5 1200.1,472.7 1201.1,472.5 1202.1,474.1 1203.1,475.0 1204.1,474.1 1205.1,472.1 1206.1,472.1 1207.1,472.4 1208.1,473.5 1209.1,471.9 1210.1,471.5 1211.1,471.8 1212.1,469.9 1213.1,469.5 1214.1,468.9 1215.1,466.8 1216.1,468.6 1217.1,468.0 1218.1,468.1 1219.1,464.7 1220.1,463.1 1221.1,462.8 1222.1,460.2 1223.1,459.3 1224.1,455.0 1225.1,454.1 1226.1,451.2 1227.1,450.2 1228.1,447.4 1229.1,446.4 1230.1,444.6 1231.1,441.2 1232.1,435.6 1233.1,435.4 1234.1,431.8 1235.1,427.3 1236.1,424.4 1237.5,421.0 1238.1,423.6 1239.1,426.0 1240.1,428.2 1241.1,433.5 1242.1,436.8 1243.1,442.2 1244.1,441.4 1245.1,446.6 1246.1,447.9 1247.1,448.2 1248.1,451.3 1249.1,451.5 1250.1,450.5 1251.1,446.6 1252.1,445.1 1253.1,441.8 1254.1,439.0 1255.1,438.2 1256.1,436.1 1257.1,435.6 1258.1,434.5 1259.1,431.3 1260.3,429.4 1261.1,432.5 1262.1,434.4 1263.1,440.1 1264.1,443.5 1265.1,447.2 1266.1,449.8 1267.1,452.3 1268.1,457.3 1269.1,461.2 1270.1,465.4 1271.1,464.6 1272.1,464.4 1273.1,462.7 1274.1,462.9 1275.1,461.0 1276.1,461.3 1277.1,461.0 1278.1,461.7 1279.1,459.2 1280.1,456.6 1281.1,457.3 1282.1,453.1 1283.1,451.8 1284.1,449.6 1285.1,447.0 1286.1,447.2 1287.1,444.5 1288.1,441.3 1289.1,440.0 1290.1,436.5 1291.1,433.8 1292.1,429.2 1293.1,425.1 1294.1,421.6 1295.1,418.1 1296.1,415.1 1297.3,410.5 1298.1,413.8 1299.1,418.5 1300.1,424.5 1301.1,427.4 1302.1,428.5 1303.1,434.4 1304.1,437.5 1305.1,440.7 1306.1,444.3 1307.1,445.9 1308.1,445.3 1309.1,450.2 1310.1,452.4 1311.1,455.8 1312.1,460.0 1313.1,460.8 1314.1,466.2 1315.1,466.7 1316.1,470.8 1317.1,469.2 1318.1,469.2 1319.1,464.4 1320.1,463.3 1321.1,465.5 1322.1,465.7 1323.1,469.4 1324.1,468.7 1325.1,468.2 1326.1,469.7 1327.1,468.0 1328.1,468.3 1329.1,465.2 1330.1,467.7 1331.1,464.8 1332.1,465.6 1333.1,463.1 1334.1,462.0 1335.1,462.6 1336.1,462.0 1337.1,462.1 1338.1,459.6 1339.1,458.6 1340.1,457.3 1341.1,457.6 1342.1,453.2 1343.1,454.0 1344.1,451.3 1345.1,450.5 1346.1,448.6 1347.1,449.2 1348.1,445.7 1349.1,444.6 1350.1,444.6 1351.5,443.3 1352.1,444.9 1353.1,446.7 1354.1,446.6 1355.1,449.7 1356.1,449.9 1357.1,452.1 1358.1,454.4 1359.1,459.3 1360.1,460.4 1361.1,462.5 1362.1,465.5 1363.1,470.6 1364.1,468.4 1365.1,470.1 1366.1,470.7 1367.1,469.4 1368.1,471.6 1369.1,473.6 1370.1,473.3 1371.1,472.7 1372.1,474.8 1373.1,475.1 1374.1,477.1 1375.1,474.3 1376.1,474.4 1377.1,474.6 1378.1,474.1 1379.1,474.1 1380.1,473.7 1381.1,472.8 1382.1,471.7 1383.1,472.5 1384.1,471.4 1385.1,471.5 1386.1,471.7 1387.1,472.5 1388.1,472.6 1389.1,470.5 1390.1,471.6 1391.1,471.7 1392.1,470.0 1393.1,467.6 1394.1,466.2 1395.1,468.3 1396.1,467.6 1397.1,466.1 1398.1,463.9 1399.1,465.5 1400.1,464.4 1401.1,462.3 1402.1,461.3 1403.1,458.7 1404.1,460.5 1404.9,459.1 1406.1,461.1 1407.1,462.3 1408.1,462.8 1409.1,465.5 1410.1,464.7 1411.1,465.2 1412.1,464.2 1413.1,462.4 1414.1,460.5 1415.1,460.9 1416.1,458.9 1417.1,458.4 1418.1,458.6 1419.1,459.0 1420.1,461.2 1421.1,459.2 1422.1,459.0 1423.1,458.3 1424.1,458.3 1425.1,457.7 1426.1,460.0 1427.1,459.9 1428.1,457.9 1429.1,456.4 1430.1,456.6 1431.1,455.4 1432.1,453.6 1433.1,454.5 1434.1,453.9 1435.1,453.4 1436.1,453.8 1437.1,452.0 1438.1,453.7 1439.1,450.9 1440.1,452.1 1441.1,451.8 1442.1,450.5 1443.1,450.8 1444.1,448.9 1445.1,448.8 1446.1,450.2 1447.1,449.8 1448.1,451.2 1449.1,450.7 1450.1,450.8 1451.1,449.7 1452.1,448.8 1453.1,447.9 1454.1,446.7 1455.1,445.8 1456.1,447.5 1457.1,444.7 1458.1,448.0 1459.1,453.0 1460.1,456.2 1461.1,461.0 1462.1,463.3 1463.1,461.9 1464.1,463.3 1465.1,462.6 1466.1,465.5 1467.1,466.3 1468.1,464.9 1469.1,466.3 1470.1,465.8 1471.1,465.2 1472.1,466.1 1473.1,464.5 1474.1,465.0 1475.1,465.3 1476.1,465.3 1477.1,465.4 1478.1,461.9 1479.1,460.5 1480.1,458.6 1481.1,456.8 1482.1,452.1 1483.1,451.4 1484.1,451.0 1485.1,447.1 1486.1,447.1 1487.1,446.7 1488.1,443.0 1489.1,443.8 1490.1,443.3 1491.1,442.1 1492.1,439.6 1493.1,440.5 1494.1,438.7 1495.1,439.1 1496.1,437.8 1496.6,436.9 1498.1,442.1 1499.1,444.8 1500.1,448.3 1501.1,450.0 1502.1,451.7 1503.1,453.1 1504.1,452.7 1505.1,452.6 1506.1,449.1 1507.1,446.5 1508.1,444.9 1509.1,439.9 1510.1,440.6 1511.1,435.7 1512.1,434.8 1513.1,429.0 1514.1,422.6 1515.1,419.0 1516.1,413.7 1517.1,409.1 1518.1,404.6 1519.1,397.8 1520.1,389.7 1521.1,381.9 1522.1,373.0 1523.1,366.3 1524.1,363.6 1525.1,360.4 1526.1,357.1 1527.1,353.3 1528.1,351.3 1529.1,345.3 1530.1,343.4 1531.1,336.1 1532.1,330.0 1533.1,322.4 1534.1,315.2 1535.1,311.4 1536.1,309.7 1537.1,305.1 1538.1,303.5 1539.1,298.7 1539.7,299.2 1541.1,306.3 1542.1,308.3 1543.1,312.2 1544.1,315.1 1545.1,319.8 1546.1,328.6 1547.1,336.3 1548.1,343.0 1549.1,352.0 1550.1,356.9 1551.1,361.4 1552.1,365.0 1553.1,367.4 1554.1,369.9 1555.1,370.5 1556.1,369.3 1557.1,372.3 1558.1,372.8 1559.1,374.4 1560.1,372.9 1561.1,380.8 1562.1,384.8 1563.1,391.0 1564.1,397.3 1565.1,401.4 1566.1,409.2 1567.1,419.2 1568.1,424.7 1569.1,431.3 1570.1,432.9 1571.1,432.0 1572.1,433.0 1573.1,432.6 1574.1,427.7 1575.1,422.4 1576.1,417.2 1577.1,408.6 1578.1,404.0 1579.1,397.6 1580.1,390.6 1581.1,384.9 1582.1,377.5 1583.1,371.9 1584.1,366.8 1585.1,360.4 1586.1,355.8 1587.1,347.8 1588.1,344.4 1589.1,339.7 1590.1,335.8 1591.1,332.7 1592.1,326.0 1592.6,324.8 1594.1,332.5 1595.1,338.6 1596.1,345.8 1597.1,350.4 1598.1,360.6 1599.1,369.4 1600.1,378.4 1601.1,387.6 1602.1,395.4 1603.1,405.3 1604.1,415.3 1605.1,420.3 1606.1,420.6 1607.1,425.1 1608.1,426.6 1609.1,426.8 1610.1,429.0 1611.1,433.5 1612.1,434.8 1613.1,439.3 1614.1,443.5 1615.1,446.9 1616.1,450.5 1617.1,452.2 1618.1,451.3 1619.1,452.0 1620.1,454.8 1621.1,450.6 1622.1,447.9 1623.1,444.7 1624.1,440.2 1625.1,438.3 1626.1,433.4 1627.1,430.7 1628.1,425.4 1629.1,426.2 1630.1,423.6 1631.1,419.2 1632.1,418.8 1633.1,415.2 1634.1,413.4 1635.1,411.8 1636.1,407.6 1637.1,403.9 1638.1,402.4 1639.1,398.7 1640.1,397.5 1641.1,401.7 1642.1,406.9 1643.1,413.9 1644.1,418.7 1645.1,422.1 1646.1,429.1 1647.1,428.1 1648.1,430.9 1649.1,433.3 1650.1,436.4 1651.1,437.8 1652.1,439.3 1653.1,439.3 1654.1,435.3 1655.1,432.7 1656.1,427.2 1657.1,422.9 1658.1,421.3 1659.1,421.3 1660.1,419.5 1661.1,418.8 1662.1,417.4 1663.1,416.0 1664.1,414.8 1665.1,411.0 1666.1,410.5 1667.1,406.2 1668.1,404.8 1669.1,401.3 1670.1,401.1 1671.1,397.3 1672.1,398.6 1673.1,394.1 1674.1,393.9 1675.1,391.8 1675.7,391.0 1677.1,395.3 1678.1,395.8 1679.1,400.0 1680.1,399.7 1681.1,402.2 1682.1,403.6 1683.1,409.4 1684.1,413.0 1685.1,415.5 1686.1,418.3 1687.1,420.7 1688.1,427.1 1689.1,428.6 1690.1,426.0 1691.1,427.6 1692.1,425.7 1693.1,429.5 1694.1,428.2 1695.1,424.9 1696.1,420.7 1697.3,417.4 1698.1,417.9 1699.1,422.5 1700.1,423.9 1701.1,427.0 1702.1,429.4 1703.1,434.8 1704.1,442.0 1705.1,448.8 1706.1,453.2 1707.1,457.8 1708.1,457.5 1709.1,458.2 1710.1,459.3 1711.1,462.1 1712.1,462.3 1713.1,463.9 1714.1,464.2 1715.1,464.2 1716.1,464.2 1717.1,466.0 1718.1,464.4 1719.1,467.0 1720.1,464.6 1721.1,463.2 1722.1,464.8 1723.1,461.7 1724.1,461.8 1725.1,460.4 1726.1,460.1 1727.1,458.7 1728.1,458.8 1729.1,459.0 1730.1,455.4 1731.1,453.7 1732.1,456.3 1733.1,454.3 1734.1,454.2 1735.1,452.1 1736.1,453.1 1737.1,452.5 1738.1,448.7 1739.1,449.7 1740.1,447.5 1741.1,445.7 1742.1,446.1 1743.1,446.2 1743.9,444.9 1745.1,445.2 1746.1,449.2 1747.1,449.3 1748.1,451.1 1749.1,450.9 1750.1,452.0 1751.1,450.9 1752.1,449.2 1753.1,447.4 1754.1,447.0 1755.1,443.8 1756.1,440.3 1757.1,439.1 1758.1,438.9 1759.1,439.3 1760.1,436.4 1761.1,435.8 1762.1,435.3 1763.1,433.7 1764.1,432.7 1764.6,433.1 1766.1,435.8 1767.1,436.6 1768.1,437.1 1769.1,439.2 1770.1,438.8 1771.1,442.4 1772.1,443.4 1773.1,446.0 1774.1,447.0 1775.1,453.7 1776.1,452.6 1777.1,456.7 1778.1,459.6 1779.1,461.9 1780.1,460.4 1781.1,462.9 1782.1,463.2 1783.1,463.8 1784.1,465.6 1785.1,466.9 1786.1,466.6 1787.1,466.6 1788.1,465.6 1789.1,469.3 1790.1,467.3 1791.1,465.6 1792.1,467.6 1793.1,468.7 1794.1,467.0 1795.1,465.8 1796.1,469.2 1797.1,467.4 1798.1,467.0 1799.1,467.6 1800.1,464.3 1801.1,466.2 1802.1,466.0 1803.1,468.3 1804.1,465.3 1805.1,465.2 1806.1,464.3 1807.1,464.7 1808.1,465.2 1809.1,465.6 1810.1,465.0 1811.1,467.1 1812.1,465.4 1813.1,464.7 1814.1,464.6 1815.1,463.0 1816.1,460.9 1817.1,459.0 1818.1,460.1 1819.1,458.0 1820.1,459.3 1821.1,456.3 1822.1,454.1 1823.1,455.4 1824.1,455.5 1825.1,453.5 1826.1,453.1 1827.1,452.3 1828.1,453.1 1829.1,450.9 1830.1,449.8 1831.1,448.4 1832.1,446.6 1833.4,447.3 1834.1,448.8 1835.1,447.3 1836.1,449.5 1837.1,449.9 1838.1,449.8 1839.1,450.5 1840.1,452.3 1841.1,450.9 1842.1,452.3 1843.1,453.4 1844.1,454.1 1845.1,454.7 1846.1,456.1 1847.1,457.4 1848.1,457.0 1849.1,459.0 1850.1,459.3 1851.1,462.4 1852.1,460.5 1853.1,462.6 1854.1,464.2 1855.1,463.3 1856.1,463.3 1857.1,463.2 1858.1,464.2 1859.1,462.8 1860.1,464.0 1861.1,464.1 1862.1,462.8 1863.1,464.7 1864.1,464.0 1865.1,464.9 1866.1,465.6 1867.1,465.1 1868.1,463.7 1869.1,464.7 1870.1,462.0 1871.1,462.0 1872.1,463.6 1873.1,461.1 1874.1,461.8 1875.1,459.2 1876.1,458.6 1877.1,456.6 1878.1,457.8 1879.1,455.8 1880.1,455.8 1881.1,454.7 1882.1,453.9 1883.1,452.9 1884.1,451.6 1885.1,450.8 1886.1,449.2 1887.1,446.9 1888.1,448.7 1889.1,449.4 1890.1,447.3 1891.1,447.4 1892.1,444.5 1893.1,441.9 1894.1,440.8 1895.1,441.5 1896.1,439.9 1896.6,439.0 1898.1,443.9 1899.1,445.1 1900.1,449.3 1901.1,451.4 1902.1,453.8 1903.1,456.9 1904.1,457.5 1905.1,461.1 1906.1,460.1 1907.1,454.6 1908.1,454.2 1909.1,447.5 1910.1,445.5 1911.1,444.9 1912.1,440.5 1913.1,442.3 1914.1,441.0 1915.1,438.3 1916.1,437.2 1917.1,435.7 1918.1,433.8 1919.1,433.7 1919.7,431.6 1921.1,433.3 1922.1,435.0 1923.1,436.7 1924.1,438.3 1925.1,437.0 1926.1,437.7 1927.1,440.9 1928.1,442.3 1929.1,442.5 1930.1,445.2 1931.1,447.3 1932.1,449.5 1933.1,453.3 1934.1,453.1 1935.1,456.6 1936.1,461.1 1937.1,461.2 1938.1,459.3 1939.1,460.5 1940.1,461.4 1941.1,462.2 1942.1,460.7 1943.1,461.1 1944.1,458.7 1945.1,459.5 1946.1,460.8 1947.1,458.6 1948.1,459.4 1949.1,457.4 1950.1,460.7 1951.1,459.0 1952.1,459.9 1953.1,458.2 1954.1,458.7 1955.1,462.3 1956.1,460.5 1957.1,460.6 1958.1,462.1 1959.1,462.5 1960.1,460.3 1961.1,461.7 1962.1,463.1 1963.1,463.4 1964.1,464.6 1965.1,464.8 1966.1,466.0 1967.1,467.5 1968.1,467.6 1969.1,468.4 1970.1,469.7 1971.1,471.3 1972.1,472.1 1973.1,472.0 1974.1,472.4 1975.1,472.7 1976.1,473.2 1977.1,473.3 1978.1,471.8 1979.1,474.2 1980.1,471.7 1981.1,474.0 1982.1,472.8 1983.1,474.2 1984.1,474.8 1985.1,471.9 1986.1,474.2 1987.1,473.1 1988.1,471.7 1989.1,471.8 1990.1,470.2 1991.1,470.1 1992.1,468.2 1993.1,469.3 1994.1,468.4 1995.1,467.9 1996.1,465.7 1997.1,467.2 1998.1,466.4 1999.1,463.3 2000.1,462.0 2001.1,461.0 2002.1,461.1 2003.1,460.4 2004.1,457.6 2005.1,455.6 2006.1,458.3 2007.1,458.1 2008.1,458.6 2009.1,459.2 2010.1,457.8 2011.1,459.2 2012.1,459.1 2013.1,460.0 2014.1,461.1 2015.1,460.1 2016.1,459.5 2017.1,461.5 2018.1,460.1 2019.1,458.3 2020.1,455.8 2021.1,455.9 2022.1,456.0 2023.1,455.5 2024.1,453.6 2025.1,453.7 2026.1,451.7 2027.1,451.1 2028.1,451.1 2029.1,449.9 2030.1,450.3 2031.1,451.0 2032.1,451.3 2033.1,449.5 2034.1,449.9 2035.1,448.8 2036.1,448.8 2037.1,450.4 2038.1,449.6 2039.1,448.4 2040.1,451.8 2041.1,451.4 2042.1,452.9 2043.1,454.6 2044.1,455.6 2045.1,456.2 2046.1,455.2 2047.1,458.8 2048.1,458.6 2049.1,458.8 2050.1,459.1 2051.1,463.6 2052.1,463.4 2053.1,464.3 2054.1,465.8 2055.1,466.2 2056.1,465.7 2057.1,468.9 2058.1,470.2 2059.1,469.7 2060.1,470.5 2061.1,470.6 2062.1,467.7 2063.1,467.8 2064.1,468.8 2065.1,467.9 2066.1,467.7 2067.1,468.1 2068.1,467.7 2069.1,466.3 2070.1,466.6 2071.1,464.7 2072.1,464.1 2073.1,462.2 2074.1,460.2 2075.1,460.6 2076.1,459.4 2077.1,459.9 2078.1,459.5 2079.1,456.8 2080.5,455.3 2081.1,455.7 2082.1,457.3 2083.1,459.8 2084.1,461.6 2085.1,463.9 2086.1,464.3 2087.1,466.4 2088.1,465.1 2089.1,464.2 2090.1,466.5 2091.1,466.3 2092.1,467.8 2093.1,469.3 2094.1,468.1 2095.1,469.2 2096.1,469.4 2097.1,467.2 2098.1,467.7 2099.1,467.3 2100.1,466.9 2101.1,466.4 2102.1,465.2 2103.1,464.3 2104.1,461.8 2105.1,460.3 2106.1,460.8 2107.1,462.6 2108.1,460.7 2109.1,457.7 2110.1,458.9 2111.1,459.0 2112.1,456.2 2113.1,458.0 2114.1,455.7 2115.1,457.2 2116.1,455.6 2117.1,457.1 2118.1,452.3 2119.1,452.1 2120.1,448.4 2121.1,449.2 2122.1,446.3 2123.1,445.2 2124.1,443.8 2125.1,443.0 2126.1,443.9 2127.1,443.8 2128.1,444.4 2129.1,446.1 2130.1,447.4 2131.1,447.7 2132.1,447.8 2133.1,447.1 2134.1,448.6 2135.1,447.7 2136.1,449.6 2137.1,451.2 2138.1,451.2 2139.1,451.9 2140.1,453.0 2141.1,455.0 2142.1,455.1 2143.1,455.0 2144.1,457.0 2145.1,457.3 2146.1,460.9 2147.1,460.4 2148.1,459.9 2149.1,462.7 2150.1,464.1 2151.1,464.8 2152.1,465.1 2153.1,466.6 2154.1,466.5 2155.1,466.9 2156.1,465.9 2157.1,467.4 2158.1,464.6 2159.1,466.0 2160.1,464.2 2161.1,462.2 2162.1,462.4 2163.1,462.4 2164.1,463.2 2165.1,466.7 2166.1,465.6 2167.1,467.5 2168.1,466.7 2169.1,468.2 2170.1,467.8 2171.1,470.3 2172.1,468.6 2173.1,467.8 2174.1,467.5 2175.1,469.3 2176.1,467.0 2177.1,466.8 2178.1,464.2 2179.1,464.2 2180.1,464.5 2181.1,461.8 2182.1,464.9 2183.1,463.8 2184.1,463.5 2185.1,463.3 2186.1,463.3 2187.0,463.3"/>
<polyline class="cv" stroke="#900000" stroke-width="9.2" points="366.1,690.9 367.1,690.9 368.1,697.7 369.1,695.1 370.1,695.4 371.1,696.1 372.1,691.5 373.1,696.3 374.1,694.7 375.1,702.8 376.1,697.8 377.1,696.4 378.1,696.7 379.1,695.8 380.1,694.9 381.1,696.8 382.1,699.2 383.1,697.4 384.1,700.6 385.1,697.7 386.1,698.4 387.1,702.5 388.1,699.9 389.1,697.0 390.1,697.7 391.1,699.5 392.1,703.0 393.1,697.1 394.1,697.0 395.1,700.1 396.1,695.1 397.1,696.5 398.1,699.4 399.1,698.5 400.1,697.0 401.1,698.4 402.1,690.8 403.1,699.0 404.1,693.7 405.1,691.7 406.1,696.7 407.1,697.6 408.1,694.7 409.1,693.1 410.1,696.1 411.1,696.0 412.1,699.9 413.1,698.3 414.1,697.0 415.1,699.5 416.1,696.1 417.1,694.3 418.1,698.4 419.1,698.5 420.1,696.5 421.1,695.1 422.1,697.8 423.1,691.6 424.1,699.3 425.1,698.8 426.1,693.3 427.1,697.9 428.1,695.3 429.1,699.9 430.1,692.7 431.1,695.7 432.1,700.0 433.1,701.2 434.1,692.6 435.1,697.0 436.1,699.2 437.1,696.8 438.1,702.6 439.1,695.4 440.1,699.5 441.1,695.9 442.1,702.4 443.1,698.7 444.1,697.8 445.1,694.3 446.1,703.3 447.1,700.9 448.1,701.0 449.1,702.0 450.1,700.0 451.1,697.5 452.1,697.1 453.1,697.1 454.1,702.9 455.1,695.5 456.1,697.8 457.1,698.6 458.1,700.1 459.1,701.1 460.1,696.3 461.1,695.1 462.1,699.7 463.1,703.0 464.1,701.8 465.1,700.5 466.1,699.1 467.1,700.8 468.1,699.4 469.1,702.3 470.1,698.1 471.1,700.6 472.1,700.0 473.1,701.8 474.1,701.0 475.1,706.2 476.1,704.5 477.1,704.5 478.1,695.2 479.1,699.8 480.1,699.1 481.1,702.2 482.1,695.0 483.1,704.0 484.1,703.8 485.1,697.6 486.1,698.5 487.1,699.0 488.1,701.3 489.1,703.0 490.1,706.7 491.1,700.9 492.1,703.5 493.1,701.9 494.1,706.2 495.1,703.6 496.1,705.3 497.1,698.9 498.1,701.3 499.1,699.7 500.1,705.9 501.1,703.7 502.1,701.2 503.1,700.9 504.1,703.4 505.1,700.3 506.1,699.8 507.1,703.6 508.1,708.2 509.1,701.8 510.1,701.0 511.1,699.4 512.1,699.1 513.1,704.1 514.1,705.0 515.1,702.8 516.1,703.7 517.1,703.2 518.1,703.3 519.1,698.8 520.1,701.5 521.1,702.9 522.1,700.3 523.1,701.0 524.1,699.9 525.1,701.0 526.1,704.0 527.1,700.5 528.1,701.0 529.1,703.4 530.1,702.8 531.1,705.4 532.1,695.2 533.1,702.8 534.1,699.1 535.1,700.6 536.1,702.5 537.1,703.2 538.1,703.1 539.1,700.8 540.1,704.7 541.1,699.7 542.1,700.1 543.1,702.7 544.1,699.1 545.1,706.4 546.1,703.4 547.1,706.5 548.1,700.7 549.1,699.8 550.1,701.3 551.1,702.8 552.1,699.3 553.1,702.0 554.1,700.9 555.1,705.3 556.1,699.3 557.1,703.9 558.1,699.4 559.1,698.6 560.1,699.3 561.1,698.1 562.1,701.7 563.1,704.1 564.1,701.8 565.1,703.1 566.1,705.8 567.1,702.2 568.1,702.1 569.1,700.9 570.1,697.3 571.1,703.7 572.1,697.0 573.1,703.5 574.1,701.8 575.1,704.9 576.1,701.7 577.1,699.7 578.1,702.9 579.1,700.5 580.1,701.6 581.1,702.2 582.1,701.8 583.1,701.7 584.1,699.9 585.1,701.7 586.1,696.4 587.1,701.8 588.1,699.0 589.1,705.2 590.1,705.6 591.1,697.0 592.1,702.6 593.1,701.9 594.1,699.4 595.1,703.7 596.1,701.0 597.1,697.5 598.1,701.5 599.1,701.8 600.1,702.5 601.1,698.9 602.1,703.9 603.1,704.2 604.1,699.2 605.1,700.5 606.1,702.1 607.1,700.8 608.1,707.0 609.1,702.9 610.1,699.6 611.1,700.2 612.1,702.2 613.1,708.2 614.1,701.8 615.1,702.7 616.1,703.7 617.1,702.2 618.1,708.3 619.1,700.9 620.1,704.4 621.1,702.8 622.1,704.0 623.1,699.2 624.1,707.1 625.1,702.0 626.1,702.5 627.1,699.9 628.1,700.4 629.1,703.9 630.1,705.1 631.1,704.4 632.1,705.7 633.1,704.3 634.1,702.5 635.1,704.7 636.1,704.0 637.1,702.2 638.1,704.4 639.1,705.7 640.1,702.7 641.1,701.0 642.1,703.7 643.1,706.8 644.1,700.9 645.1,701.1 646.1,700.8 647.1,704.3 648.1,695.9 649.1,701.7 650.1,703.7 651.1,698.2 652.1,704.2 653.1,701.7 654.1,698.7 655.1,700.8 656.1,696.1 657.1,698.7 658.1,705.2 659.1,697.8 660.1,705.2 661.1,700.0 662.1,702.9 663.1,700.3 664.1,694.2 665.1,698.7 666.1,700.7 667.1,697.1 668.1,696.6 669.1,701.2 670.1,698.5 671.1,695.6 672.1,698.4 673.1,702.5 674.1,698.9 675.1,702.8 676.1,704.4 677.1,700.3 678.1,697.1 679.1,696.7 680.1,700.1 681.1,702.6 682.1,700.9 683.1,701.7 684.1,699.0 685.1,701.0 686.1,698.9 687.1,699.3 688.1,696.7 689.1,695.5 690.1,698.0 691.1,695.8 692.1,695.8 693.1,699.8 694.1,697.2 695.1,703.0 696.1,699.1 697.1,694.4 698.1,697.9 699.1,696.6 700.1,693.7 701.1,698.5 702.1,693.3 703.1,689.3 704.1,697.4 705.1,693.8 706.1,700.4 707.1,695.5 708.1,694.9 709.1,703.2 710.1,696.9 711.1,701.3 712.1,705.4 713.1,702.1 714.1,701.9 715.1,702.7 716.1,705.0 717.1,700.8 718.1,705.0 719.1,705.1 720.1,709.4 721.1,702.4 722.1,700.7 723.1,705.1 724.1,701.9 725.1,703.6 726.1,703.1 727.1,705.8 728.1,700.7 729.1,702.1 730.1,696.3 731.1,699.7 732.1,706.3 733.1,700.1 734.1,699.9 735.1,698.4 736.1,703.2 737.1,702.0 738.1,698.1 739.1,703.1 740.1,701.9 741.1,703.1 742.1,699.2 743.1,705.6 744.1,701.8 745.1,700.1 746.1,698.8 747.1,699.3 748.1,702.0 749.1,698.7 750.1,702.1 751.1,700.5 752.1,702.4 753.1,700.7 754.1,698.0 755.1,692.7 756.1,698.5 757.1,699.6 758.1,697.6 759.1,698.5 760.1,695.4 761.1,694.5 762.1,691.5 763.1,696.3 764.1,691.5 765.1,688.2 766.1,684.4 767.1,686.1 768.1,689.0 769.1,683.7 770.1,675.8 771.1,677.1 772.1,672.4 773.1,666.6 774.1,662.3 775.1,659.4 776.1,653.9 777.1,648.5 778.1,648.9 779.1,657.7 780.1,656.8 781.1,664.2 782.1,659.0 783.1,673.3 784.1,680.7 785.1,683.7 786.1,690.1 787.1,693.9 788.1,696.5 789.1,696.4 790.1,700.5 791.1,706.4 792.1,707.1 793.1,703.8 794.1,703.8 795.1,704.1 796.1,706.4 797.1,700.6 798.1,699.9 799.1,703.9 800.1,700.5 801.1,701.9 802.1,703.8 803.1,704.9 804.1,700.6 805.1,705.7 806.1,698.0 807.1,704.0 808.1,697.6 809.1,697.9 810.1,702.7 811.1,699.3 812.1,697.7 813.1,698.2 814.1,700.2 815.1,698.3 816.1,697.9 817.1,700.4 818.1,695.0 819.1,695.0 820.1,693.7 821.1,697.2 822.1,695.6 823.1,695.3 824.1,690.5 825.1,689.1 826.1,690.7 827.1,686.2 828.1,688.4 829.1,687.0 830.1,682.0 831.1,682.8 832.1,681.8 833.1,686.1 834.1,686.5 835.1,679.2 836.1,680.3 837.1,676.1 838.1,684.7 839.1,686.0 840.1,685.0 841.1,692.1 842.1,687.4 843.1,692.9 844.1,695.6 845.1,693.4 846.1,700.9 847.1,702.0 848.1,694.6 849.1,694.0 850.1,699.0 851.1,696.6 852.1,692.7 853.1,694.7 854.1,694.6 855.1,693.9 856.1,696.0 857.1,694.1 858.1,697.4 859.1,695.7 860.1,693.2 861.1,693.6 862.1,693.5 863.1,691.1 864.1,684.9 865.1,690.0 866.1,687.1 867.1,691.4 868.1,687.1 869.1,688.3 870.1,687.8 871.1,691.6 872.1,687.4 873.1,686.1 874.1,687.7 875.1,685.1 876.1,686.0 877.1,684.8 878.1,684.8 879.1,688.6 880.1,681.3 881.1,681.8 882.1,680.4 883.1,682.0 884.1,676.1 885.5,678.3 886.1,679.3 887.1,683.0 888.1,683.4 889.1,684.2 890.1,685.2 891.1,691.1 892.1,695.7 893.1,694.6 894.1,696.2 895.1,698.9 896.1,697.0 897.1,699.8 898.1,699.7 899.1,701.1 900.1,700.0 901.1,696.5 902.1,702.8 903.1,704.2 904.1,698.5 905.1,700.2 906.1,699.6 907.1,700.9 908.1,694.3 909.1,702.8 910.1,696.8 911.1,701.1 912.1,697.1 913.1,695.0 914.1,694.9 915.1,697.1 916.1,691.4 917.1,692.0 918.1,691.0 919.1,686.7 920.1,694.5 921.1,691.7 922.1,688.7 923.1,690.1 924.1,682.1 925.1,682.6 926.1,685.7 927.1,681.6 928.1,670.5 929.1,668.8 930.1,670.5 931.1,674.9 932.1,669.0 933.1,668.2 934.1,667.2 935.1,667.0 936.1,672.6 937.1,676.8 938.1,678.5 939.1,680.8 940.1,680.5 941.1,686.4 942.1,686.4 943.1,694.0 944.1,698.8 945.1,690.6 946.1,686.8 947.1,692.0 948.1,694.6 949.1,696.7 950.1,695.8 951.1,688.6 952.1,686.8 953.1,690.9 954.1,682.4 955.1,686.8 956.1,681.2 957.1,683.0 958.1,682.1 959.1,681.5 960.1,680.9 961.1,676.2 962.1,680.4 963.1,680.1 964.1,681.4 965.1,684.6 966.1,681.9 967.1,683.4 968.1,686.1 969.1,690.0 970.1,695.9 971.1,694.1 972.1,700.0 973.1,697.4 974.1,695.9 975.1,692.7 976.1,697.3 977.1,697.7 978.1,688.2 979.1,694.4 980.1,693.3 981.1,687.1 982.2,683.3 983.1,690.3 984.1,688.3 985.1,682.8 986.1,686.1 987.1,686.5 988.1,687.3 989.1,682.1 990.1,691.5 991.1,688.5 992.1,692.3 993.1,693.0 994.1,697.4 995.1,695.5 996.1,695.5 997.1,699.6 998.1,702.3 999.1,697.3 1000.1,702.4 1001.1,699.2 1002.1,697.0 1003.1,703.2 1004.1,696.4 1005.1,701.9 1006.1,697.5 1007.1,700.4 1008.1,695.5 1009.1,696.8 1010.1,702.5 1011.1,699.2 1012.1,698.1 1013.1,696.0 1014.1,697.9 1015.1,691.8 1016.1,691.9 1017.1,694.0 1018.1,691.3 1019.1,691.0 1020.1,692.2 1021.2,691.6 1022.1,691.3 1023.1,697.2 1024.1,695.6 1025.1,696.5 1026.1,693.1 1027.1,692.1 1028.1,689.6 1029.1,693.2 1030.1,688.3 1031.1,693.1 1032.1,697.5 1033.1,700.3 1034.1,698.7 1035.1,693.6 1036.1,698.0 1037.1,694.5 1038.1,699.6 1039.1,697.1 1040.1,700.4 1041.1,704.3 1042.1,699.8 1043.1,703.0 1044.1,696.4 1045.1,694.2 1046.1,698.6 1047.1,699.1 1048.1,691.6 1049.1,692.9 1050.1,687.7 1051.1,690.8 1052.1,693.4 1053.1,689.9 1054.1,687.8 1055.1,684.6 1056.1,689.4 1057.1,690.0 1058.1,689.5 1059.1,688.9 1060.1,684.6 1061.1,694.1 1062.1,689.0 1063.1,689.1 1064.1,692.1 1065.1,683.7 1066.1,690.4 1067.1,690.5 1068.1,692.4 1069.1,695.7 1070.1,693.4 1071.1,686.8 1072.1,692.1 1073.1,694.6 1074.1,695.2 1075.1,691.7 1076.1,691.4 1077.1,699.0 1078.1,699.2 1079.1,698.9 1080.1,693.5 1081.1,703.0 1082.1,689.8 1083.1,694.2 1084.1,700.5 1085.1,692.5 1086.1,692.5 1087.1,687.0 1088.1,693.6 1089.1,684.2 1090.1,687.5 1091.1,685.8 1092.1,680.9 1093.1,685.5 1094.1,677.1 1095.1,678.0 1096.1,678.7 1097.1,673.4 1098.1,671.5 1099.1,668.2 1100.1,659.8 1101.1,656.9 1102.1,656.1 1103.1,655.7 1104.1,658.5 1105.1,654.5 1106.1,655.6 1107.1,653.2 1108.1,653.0 1109.1,661.7 1110.1,659.2 1111.1,665.8 1112.1,673.6 1113.1,668.6 1114.1,674.8 1115.1,673.1 1116.1,677.9 1117.1,673.7 1118.1,676.0 1119.1,674.3 1120.1,675.2 1121.1,678.6 1122.1,673.4 1123.1,673.4 1124.1,669.9 1125.1,662.6 1126.1,654.1 1127.1,644.5 1128.1,643.6 1129.1,643.3 1130.1,634.9 1131.1,626.9 1132.4,622.1 1133.1,623.2 1134.1,626.3 1135.1,628.1 1136.1,632.5 1137.1,638.4 1138.1,649.8 1139.1,652.9 1140.1,660.3 1141.1,668.5 1142.1,670.2 1143.1,666.0 1144.1,672.2 1145.1,674.5 1146.1,673.9 1147.1,674.1 1148.1,667.3 1149.1,665.1 1150.1,673.5 1151.1,672.0 1152.1,662.8 1153.2,666.6 1154.1,668.7 1155.1,672.7 1156.1,674.0 1157.1,674.2 1158.1,678.8 1159.1,680.9 1160.1,682.3 1161.1,678.6 1162.1,679.5 1163.1,686.0 1164.1,685.3 1165.1,693.2 1166.1,695.9 1167.1,694.0 1168.1,691.5 1169.1,692.4 1170.1,695.4 1171.1,688.9 1172.1,693.6 1173.1,692.4 1174.1,690.5 1175.1,692.3 1176.1,683.4 1177.1,686.7 1178.1,678.8 1179.1,677.3 1180.1,674.3 1181.1,677.1 1182.1,670.7 1183.1,672.3 1184.1,667.1 1185.1,672.7 1186.1,673.7 1187.1,667.2 1188.0,665.2 1189.1,668.5 1190.1,675.0 1191.1,669.8 1192.1,665.9 1193.1,677.0 1194.1,674.6 1195.1,675.7 1196.1,680.9 1197.1,681.8 1198.1,690.5 1199.1,691.6 1200.1,699.6 1201.1,696.6 1202.1,688.8 1203.1,688.9 1204.1,691.5 1205.1,686.8 1206.1,692.3 1207.1,692.1 1208.1,689.4 1209.1,689.7 1210.1,692.7 1211.1,695.7 1212.1,696.2 1213.1,691.6 1214.1,694.4 1215.1,689.5 1216.1,693.3 1217.1,689.1 1218.1,694.7 1219.1,687.4 1220.1,686.2 1221.1,687.3 1222.1,687.0 1223.1,678.5 1224.1,679.4 1225.1,679.5 1226.4,676.3 1227.1,675.2 1228.1,680.4 1229.1,681.4 1230.1,688.9 1231.1,688.4 1232.1,684.5 1233.1,682.8 1234.1,690.8 1235.1,694.8 1236.1,692.0 1237.1,694.8 1238.1,690.9 1239.1,688.5 1240.1,695.9 1241.1,694.1 1242.1,695.8 1243.1,688.9 1244.1,693.9 1245.1,691.1 1246.1,695.6 1247.1,690.9 1248.1,690.6 1249.1,690.5 1250.1,696.4 1251.1,692.2 1252.1,689.5 1253.1,688.4 1254.1,688.2 1255.1,696.2 1256.1,685.3 1257.1,688.3 1258.1,693.0 1259.1,694.6 1260.1,690.1 1261.1,693.0 1262.1,692.8 1263.1,693.3 1264.1,690.1 1265.1,695.2 1266.1,690.1 1267.1,693.1 1268.1,683.1 1269.1,688.5 1270.1,680.0 1271.1,677.8 1272.1,683.1 1273.1,677.4 1274.1,680.3 1275.1,673.3 1276.1,680.2 1277.1,672.9 1278.1,667.2 1279.1,669.5 1280.1,669.8 1281.1,662.4 1282.1,664.6 1283.1,668.4 1284.1,663.8 1285.1,660.2 1286.1,657.7 1287.1,660.8 1288.1,653.1 1289.1,650.0 1290.1,654.6 1291.1,652.5 1292.1,661.2 1293.1,655.2 1293.6,654.1 1295.1,654.0 1296.1,662.1 1297.1,660.2 1298.1,663.1 1299.1,665.5 1300.1,666.9 1301.1,667.8 1302.1,668.6 1303.1,673.4 1304.1,675.5 1305.1,663.9 1306.1,673.2 1307.1,663.2 1308.1,663.6 1309.1,653.6 1310.1,653.9 1311.1,650.2 1312.1,646.5 1313.1,645.6 1314.1,639.7 1315.1,628.8 1316.1,626.5 1317.1,624.0 1318.1,620.7 1319.1,614.7 1320.1,612.4 1320.9,611.0 1322.1,612.6 1323.1,616.2 1324.1,630.1 1325.1,627.8 1326.1,634.8 1327.1,638.6 1328.1,652.2 1329.1,660.4 1330.1,657.5 1331.1,656.0 1332.1,647.7 1333.1,652.2 1334.1,645.4 1335.1,635.4 1336.1,640.8 1337.1,637.2 1338.1,636.7 1339.1,635.8 1340.1,632.6 1341.1,634.0 1342.1,638.9 1343.1,637.7 1344.1,635.6 1345.1,646.7 1346.1,643.7 1347.1,647.2 1348.1,651.4 1349.1,660.8 1350.1,665.9 1351.1,667.4 1352.1,673.5 1353.1,669.4 1354.1,677.3 1355.1,679.8 1356.1,680.7 1357.1,681.7 1358.1,672.4 1359.1,686.0 1360.1,675.1 1361.1,678.5 1362.1,679.5 1363.1,678.9 1364.1,674.5 1365.1,663.4 1366.1,665.0 1367.1,668.8 1368.1,660.5 1369.1,657.9 1370.1,652.2 1371.1,662.5 1372.1,658.6 1373.1,652.2 1373.7,654.1 1375.1,657.4 1376.1,656.6 1377.1,662.1 1378.1,666.5 1379.1,670.2 1380.1,674.9 1381.1,671.8 1382.1,671.2 1383.1,675.3 1384.1,672.9 1385.1,671.8 1386.1,681.2 1387.1,677.1 1388.1,679.9 1389.1,682.9 1390.1,677.9 1391.1,684.9 1392.1,683.2 1393.1,680.3 1394.1,681.0 1395.1,676.0 1396.1,670.0 1397.1,675.7 1398.1,672.5 1399.1,677.7 1400.1,674.6 1401.1,670.8 1402.1,671.8 1403.1,674.9 1404.1,672.6 1405.1,668.4 1406.1,667.2 1407.1,663.2 1408.1,662.2 1409.1,663.2 1410.1,659.2 1411.1,656.9 1412.1,647.0 1413.1,640.1 1414.1,635.0 1415.1,634.4 1416.1,635.3 1417.1,626.8 1418.1,611.2 1419.1,601.2 1420.1,601.4 1421.1,592.3 1422.1,575.8 1423.1,572.3 1424.1,557.2 1425.1,549.2 1426.1,534.7 1427.1,527.3 1428.1,516.0 1429.1,502.2 1430.1,496.3 1431.1,490.4 1432.1,491.4 1432.7,485.9 1434.1,491.4 1435.1,506.9 1436.1,516.6 1437.1,530.7 1438.1,542.6 1439.1,546.5 1440.1,561.7 1441.1,573.5 1442.1,586.7 1443.1,590.5 1444.1,606.7 1445.1,609.2 1446.1,606.3 1447.1,611.6 1448.1,616.9 1449.1,614.4 1450.1,619.8 1451.1,621.6 1452.1,621.5 1453.1,623.4 1454.1,622.7 1455.1,630.8 1456.1,628.7 1457.1,631.9 1458.1,640.9 1459.1,639.8 1460.1,647.9 1461.1,654.1 1462.1,654.7 1463.1,658.7 1464.1,665.6 1465.1,667.3 1466.1,659.2 1467.1,660.0 1468.1,669.4 1469.1,666.1 1470.1,657.3 1471.1,659.9 1472.1,664.8 1473.1,661.2 1474.1,666.4 1475.1,666.7 1476.1,670.7 1477.1,667.3 1478.1,676.1 1479.1,683.4 1480.1,676.0 1481.1,685.0 1482.1,685.3 1483.1,685.6 1484.1,684.6 1485.1,682.1 1486.1,684.7 1487.1,692.0 1488.1,694.3 1489.1,695.4 1490.1,694.3 1491.1,694.0 1492.1,689.1 1493.1,686.2 1494.1,691.1 1495.1,692.1 1496.1,690.5 1497.1,684.6 1498.1,688.0 1499.1,684.5 1500.1,689.6 1501.1,684.3 1502.1,686.5 1503.1,687.2 1504.1,685.6 1505.1,689.1 1506.1,679.0 1507.1,674.0 1508.1,684.4 1509.1,684.7 1510.1,683.4 1511.1,677.7 1512.1,677.2 1513.1,674.3 1514.1,667.5 1515.1,668.8 1516.1,669.4 1517.1,668.1 1518.1,678.3 1519.1,665.9 1520.1,670.9 1521.1,677.6 1522.1,671.7 1523.1,670.5 1524.1,670.3 1525.1,673.4 1526.1,682.6 1527.1,678.8 1528.1,679.7 1529.1,676.2 1530.1,682.0 1531.1,679.6 1532.1,676.1 1533.1,678.4 1534.1,681.5 1535.1,685.9 1536.1,681.5 1537.1,684.2 1538.1,690.8 1539.1,680.0 1540.1,678.7 1541.1,688.2 1542.1,687.6 1543.1,687.1 1544.1,690.2 1545.1,689.5 1546.1,694.6 1547.1,692.8 1548.1,699.1 1549.1,692.7 1550.1,694.6 1551.1,698.2 1552.1,695.5 1553.1,700.1 1554.1,696.7 1555.1,694.4 1556.1,697.3 1557.1,693.9 1558.1,689.3 1559.1,690.8 1560.1,691.9 1561.1,693.0 1562.1,695.2 1563.1,698.4 1564.1,696.5 1565.1,701.5 1566.1,699.1 1567.1,692.4 1568.1,700.1 1569.1,697.8 1570.1,690.4 1571.1,693.4 1572.1,696.5 1573.1,692.5 1574.1,695.6 1575.1,692.6 1576.1,693.6 1577.1,688.8 1578.1,691.6 1579.1,688.0 1580.1,692.3 1581.1,681.4 1582.1,690.2 1583.1,694.0 1584.1,690.9 1585.1,688.3 1586.1,691.0 1587.1,684.8 1588.1,685.0 1589.1,687.3 1590.1,688.4 1591.1,693.7 1592.1,685.3 1593.1,694.2 1594.1,682.4 1595.1,686.2 1596.1,689.8 1597.1,695.5 1598.1,687.4 1599.1,680.3 1600.1,692.5 1601.1,690.5 1602.1,685.7 1603.1,686.0 1604.1,687.8 1605.1,691.8 1606.1,694.7 1607.1,684.7 1608.1,702.4 1609.1,692.1 1610.1,690.8 1611.1,696.1 1612.1,693.6 1613.1,703.7 1614.1,698.9 1615.1,692.0 1616.1,692.2 1617.1,691.9 1618.1,692.9 1619.1,698.1 1620.1,691.9 1621.1,703.3 1622.1,695.2 1623.1,695.1 1624.1,700.8 1625.1,686.5 1626.1,691.9 1627.1,699.8 1628.1,697.1 1629.1,696.2 1630.1,697.2 1631.1,691.2 1632.1,692.4 1633.1,685.4 1634.1,681.7 1635.1,696.7 1636.1,684.5 1637.1,684.6 1638.1,695.2 1639.1,693.4 1640.1,685.1 1641.1,685.0 1642.1,687.1 1643.1,682.5 1644.1,690.2 1645.1,687.9 1646.1,687.7 1647.1,690.9 1648.1,690.6 1649.1,696.3 1650.1,693.6 1651.1,675.6 1652.1,688.3 1653.1,676.7 1654.1,674.1 1655.1,684.4 1656.1,675.9 1657.1,676.9 1658.1,683.2 1659.1,672.6 1660.1,669.9 1661.1,675.0 1662.1,678.4 1663.1,673.3 1664.1,660.6 1665.1,664.0 1666.1,665.3 1666.8,664.9 1668.1,671.1 1669.1,671.7 1670.1,674.4 1671.1,667.0 1672.1,672.1 1673.1,673.0 1674.1,665.7 1675.1,671.8 1676.1,675.9 1677.1,667.6 1678.1,678.9 1679.1,680.2 1680.1,684.2 1681.1,676.6 1682.1,684.0 1683.1,694.1 1684.1,692.9 1685.1,684.8 1686.1,689.7 1687.1,695.7 1688.1,686.4 1689.1,688.2 1690.1,697.6 1691.1,684.3 1692.1,683.1 1693.1,677.1 1694.1,678.3 1695.1,689.8 1696.1,679.7 1697.1,672.8 1698.1,673.5 1699.1,678.1 1700.1,680.8 1701.1,670.0 1702.1,676.3 1703.1,667.3 1704.1,670.1 1705.1,668.9 1706.1,667.3 1707.1,659.2 1708.3,659.0 1709.1,665.3 1710.1,659.0 1711.1,671.6 1712.1,677.7 1713.1,684.9 1714.1,682.7 1715.1,683.1 1716.1,685.6 1717.1,681.1 1718.1,684.8 1719.1,689.0 1720.1,688.8 1721.1,681.8 1722.1,686.6 1723.1,676.8 1724.1,694.3 1725.1,687.2 1726.1,692.3 1727.1,684.5 1728.1,690.3 1729.1,693.3 1730.1,696.3 1731.1,682.7 1732.1,695.4 1733.1,689.5 1734.1,685.9 1735.1,693.1 1736.1,688.5 1737.1,688.5 1738.1,686.0 1739.1,691.3 1740.1,690.2 1741.1,688.9 1742.1,684.3 1743.1,686.8 1744.1,692.0 1745.1,697.1 1746.1,689.4 1747.1,697.7 1748.1,689.4 1749.1,683.1 1750.1,692.8 1751.1,682.5 1752.1,689.4 1753.1,692.3 1754.1,683.3 1755.1,683.6 1756.1,696.0 1757.1,683.5 1758.1,682.6 1759.1,684.6 1760.1,678.5 1761.1,677.6 1762.1,679.1 1763.1,662.6 1764.1,681.8 1765.1,665.8 1766.1,664.1 1767.1,671.8 1767.6,667.9 1769.1,664.2 1770.1,675.2 1771.1,669.9 1772.1,675.0 1773.1,672.8 1774.1,679.2 1775.1,688.7 1776.1,687.9 1777.1,689.8 1778.1,694.1 1779.1,689.3 1780.1,686.5 1781.1,689.5 1782.1,701.4 1783.1,692.8 1784.1,695.3 1785.1,693.6 1786.1,696.4 1787.1,698.3 1788.1,696.5 1789.1,695.2 1790.1,690.7 1791.1,689.4 1792.1,695.8 1793.1,696.9 1794.1,697.0 1795.1,691.1 1796.1,685.1 1797.1,692.6 1798.1,691.6 1799.1,678.4 1800.1,690.9 1801.1,688.7 1802.1,694.1 1803.1,677.0 1804.1,675.0 1805.1,685.9 1806.1,669.8 1807.1,674.8 1808.1,671.6 1809.1,676.8 1810.1,666.0 1811.1,676.1 1812.1,683.5 1813.1,680.8 1814.1,681.2 1815.1,676.9 1816.1,687.7 1817.1,682.8 1818.1,686.2 1819.1,671.5 1820.1,682.9 1821.1,674.6 1822.1,683.7 1823.1,683.2 1824.1,675.9 1825.1,683.8 1826.1,689.9 1827.1,686.5 1828.1,688.1 1829.1,680.7 1830.1,682.7 1831.1,681.2 1832.1,689.4 1833.1,696.5 1834.1,693.2 1835.1,691.7 1836.1,686.2 1837.1,696.2 1838.1,693.3 1839.1,684.4 1840.1,685.6 1841.1,693.8 1842.1,690.8 1843.1,705.7 1844.1,696.5 1845.1,690.5 1846.1,693.8 1847.1,706.0 1848.1,691.5 1849.1,701.6 1850.1,699.8 1851.1,705.9 1852.1,700.7 1853.1,695.5 1854.1,701.0 1855.1,698.5 1856.1,703.9 1857.1,698.0 1858.1,709.8 1859.1,697.8 1860.1,700.9 1861.1,694.6 1862.1,699.1 1863.1,698.6 1864.1,699.4 1865.1,703.6 1866.1,695.3 1867.1,693.5 1868.1,704.8 1869.1,696.8 1870.1,694.6 1871.1,705.1 1872.1,702.9 1873.1,685.6 1874.1,696.3 1875.1,703.0 1876.1,703.3 1877.1,695.5 1878.1,707.5 1879.1,693.9 1880.1,697.1 1881.1,699.2 1882.1,698.4 1883.1,703.1 1884.1,704.4 1885.1,698.2 1886.1,706.6 1887.1,694.4 1888.1,697.0 1889.1,708.0 1890.1,698.5 1891.1,703.9 1892.1,695.1 1893.1,696.0 1894.1,696.7 1895.1,698.2 1896.1,695.1 1897.1,697.0 1898.1,700.6 1899.1,703.6 1900.1,697.1 1901.1,700.1 1902.1,701.4 1903.1,689.8 1904.1,686.8 1905.1,705.1 1906.1,703.2 1907.1,695.8 1908.1,697.3 1909.1,689.7 1910.1,687.0 1911.1,696.7 1912.1,686.1 1913.1,699.8 1914.1,690.5 1915.1,695.9 1916.1,705.2 1917.1,704.6 1918.1,691.8 1919.1,699.3 1920.1,686.8 1921.1,689.1 1922.1,694.3 1923.1,699.9 1924.1,688.2 1925.1,694.3 1926.1,691.5 1927.1,683.3 1928.1,689.5 1929.1,698.6 1930.1,689.1 1931.1,692.2 1932.1,693.8 1933.1,684.4 1934.1,695.5 1935.1,696.8 1936.1,697.0 1937.1,695.0 1938.1,684.4 1939.1,683.4 1940.1,681.7 1941.1,680.1 1942.1,679.9 1943.1,689.3 1944.1,691.1 1945.1,678.1 1946.1,686.6 1947.1,675.5 1948.1,681.9 1949.1,678.9 1950.1,676.2 1951.1,686.9 1952.1,688.0 1953.1,686.1 1954.1,686.3 1955.1,684.6 1956.1,690.5 1957.1,688.7 1958.1,694.0 1959.1,685.8 1960.1,694.3 1961.1,696.1 1962.1,700.5 1963.1,699.5 1964.1,694.7 1965.1,689.8 1966.1,683.3 1967.1,694.1 1968.1,702.4 1969.1,704.0 1970.1,681.8 1971.1,690.4 1972.1,692.9 1973.1,689.1 1974.1,696.3 1975.1,695.6 1976.1,692.0 1977.1,694.3 1978.1,684.8 1979.1,687.9 1980.1,687.8 1981.1,697.7 1982.1,682.6 1983.1,690.3 1984.1,695.5 1985.1,690.2 1986.1,694.7 1987.1,685.7 1988.1,691.5 1989.1,693.7 1990.1,700.7 1991.1,692.1 1992.1,696.0 1993.1,687.7 1994.1,688.0 1995.1,696.4 1996.1,690.6 1997.1,695.3 1998.1,691.0 1999.1,699.1 2000.1,699.3 2001.1,681.6 2002.1,697.1 2003.1,688.7 2004.1,688.8 2005.1,685.3 2006.1,690.0 2007.1,679.2 2008.1,681.3 2009.1,681.0 2010.1,686.9 2011.1,690.7 2012.1,690.5 2013.1,689.3 2014.1,684.6 2015.1,678.7 2016.1,692.1 2017.1,691.5 2018.1,693.6 2019.1,700.7 2020.1,692.2 2021.1,693.0 2022.1,682.1 2023.1,698.8 2024.1,695.2 2025.1,691.1 2026.1,697.6 2027.1,689.3 2028.1,692.1 2029.1,706.6 2030.1,699.5 2031.1,700.5 2032.1,699.4 2033.1,698.7 2034.1,696.0 2035.1,707.5 2036.1,694.4 2037.1,699.0 2038.1,693.4 2039.1,692.6 2040.1,681.7 2041.1,683.4 2042.1,703.4 2043.1,703.0 2044.1,691.8 2045.1,694.1 2046.1,697.8 2047.1,688.4 2048.1,704.4 2049.1,688.0 2050.1,689.9 2051.1,681.3 2052.1,703.1 2053.1,694.7 2054.1,703.9 2055.1,688.8 2056.1,696.6 2057.1,695.2 2058.1,696.0 2059.1,707.0 2060.1,707.7 2061.1,703.2 2062.1,692.9 2063.1,700.5 2064.1,703.3 2065.1,698.6 2066.1,698.6 2067.1,698.0 2068.1,689.8 2069.1,696.4 2070.1,704.2 2071.1,689.0 2072.1,695.1 2073.1,699.4 2074.1,686.6 2075.1,693.6 2076.1,684.4 2077.1,690.6 2078.1,685.9 2079.1,688.8 2080.1,691.0 2081.1,692.1 2082.1,692.5 2083.1,680.7 2084.1,702.6 2085.1,691.7 2086.1,686.9 2087.1,689.5 2088.1,694.8 2089.1,687.1 2090.1,690.4 2091.1,690.0 2092.1,695.7 2093.1,688.2 2094.1,695.0 2095.1,694.3 2096.1,691.3 2097.1,699.2 2098.1,692.0 2099.1,684.9 2100.1,693.4 2101.1,692.2 2102.1,691.2 2103.1,692.6 2104.1,703.9 2105.1,692.4 2106.1,693.6 2107.1,689.3 2108.1,698.2 2109.1,690.2 2110.1,685.7 2111.1,683.2 2112.1,693.2 2113.1,694.3 2114.1,680.7 2115.1,685.6 2116.1,693.4 2117.1,695.5 2118.1,681.9 2119.1,687.4 2120.1,694.8 2121.1,687.1 2122.1,687.8 2123.1,687.5 2124.1,683.3 2125.1,691.3 2126.1,693.0 2127.1,683.4 2128.1,692.3 2129.1,698.3 2130.1,693.3 2131.1,697.8 2132.1,689.4 2133.1,700.7 2134.1,688.4 2135.1,704.1 2136.1,690.8 2137.1,689.5 2138.1,688.7 2139.1,691.1 2140.1,690.1 2141.1,688.4 2142.1,690.0 2143.1,695.2 2144.1,695.9 2145.1,688.3 2146.1,696.9 2147.1,683.4 2148.1,682.7 2149.1,681.5 2150.1,691.1 2151.1,678.0 2152.1,678.4 2153.1,693.4 2154.1,695.3 2155.1,692.7 2156.1,675.7 2157.1,683.9 2158.1,688.1 2159.1,682.7 2160.1,674.2 2161.1,682.6 2162.1,675.7 2163.1,679.3 2164.1,699.9 2165.1,692.3 2166.1,680.8 2167.1,681.5 2168.1,693.8 2169.1,688.6 2170.1,696.4 2171.1,690.1 2172.1,692.5 2173.1,694.9 2174.1,687.4 2175.1,682.1 2176.1,686.2 2177.1,688.9 2178.1,691.6 2179.1,692.3 2180.1,692.1 2181.1,695.4 2182.1,687.2 2183.1,700.4 2184.1,704.0 2185.1,694.5 2186.1,693.4 2187.0,693.4"/>
<polyline class="cv" stroke="#ff4040" stroke-width="9.2" points="366.1,846.6 367.1,846.6 368.1,855.0 369.1,850.4 370.1,839.8 371.1,847.3 372.1,844.4 373.1,847.9 374.1,839.8 375.1,848.2 376.1,848.1 377.1,854.3 378.1,848.4 379.1,849.2 380.1,840.0 381.1,857.2 382.1,837.9 383.1,851.8 384.1,845.1 385.1,842.5 386.1,843.5 387.1,843.4 388.1,848.2 389.1,845.8 390.1,853.1 391.1,837.8 392.1,846.2 393.1,842.0 394.1,849.7 395.1,836.3 396.1,844.4 397.1,847.0 398.1,839.3 399.1,850.9 400.1,847.3 401.1,851.2 402.1,851.1 403.1,842.3 404.1,843.2 405.1,846.1 406.1,850.6 407.1,851.2 408.1,844.1 409.1,844.7 410.1,843.9 411.1,845.0 412.1,846.7 413.1,847.3 414.1,857.6 415.1,845.8 416.1,847.0 417.1,850.6 418.1,844.1 419.1,847.0 420.1,848.8 421.1,852.5 422.1,842.9 423.1,855.5 424.1,847.6 425.1,850.2 426.1,853.4 427.1,852.7 428.1,854.6 429.1,850.6 430.1,849.9 431.1,851.5 432.1,845.6 433.1,855.9 434.1,846.8 435.1,844.7 436.1,860.2 437.1,850.1 438.1,845.4 439.1,859.6 440.1,849.6 441.1,856.2 442.1,847.5 443.1,850.3 444.1,843.7 445.1,842.7 446.1,847.1 447.1,851.3 448.1,855.4 449.1,863.0 450.1,846.9 451.1,856.4 452.1,849.0 453.1,851.1 454.1,844.9 455.1,845.0 456.1,848.3 457.1,846.4 458.1,851.9 459.1,848.7 460.1,857.8 461.1,852.7 462.1,852.8 463.1,857.4 464.1,854.5 465.1,852.0 466.1,851.7 467.1,851.6 468.1,857.2 469.1,855.9 470.1,854.0 471.1,856.0 472.1,849.8 473.1,854.7 474.1,845.8 475.1,858.7 476.1,852.9 477.1,853.3 478.1,855.3 479.1,852.5 480.1,851.4 481.1,858.1 482.1,853.1 483.1,848.4 484.1,854.7 485.1,844.7 486.1,860.5 487.1,851.9 488.1,853.0 489.1,863.4 490.1,862.9 491.1,853.4 492.1,855.8 493.1,858.0 494.1,860.7 495.1,852.2 496.1,853.4 497.1,858.4 498.1,853.9 499.1,856.1 500.1,855.3 501.1,847.1 502.1,848.3 503.1,840.5 504.1,851.0 505.1,858.4 506.1,846.8 507.1,857.7 508.1,856.6 509.1,851.6 510.1,851.7 511.1,852.1 512.1,847.6 513.1,850.2 514.1,851.2 515.1,854.3 516.1,855.0 517.1,847.8 518.1,855.1 519.1,847.5 520.1,850.2 521.1,852.7 522.1,850.8 523.1,850.2 524.1,852.0 525.1,848.1 526.1,847.6 527.1,849.6 528.1,855.0 529.1,849.9 530.1,859.3 531.1,851.3 532.1,838.4 533.1,848.1 534.1,857.9 535.1,850.0 536.1,847.9 537.1,845.7 538.1,856.0 539.1,854.4 540.1,852.8 541.1,851.6 542.1,856.3 543.1,853.3 544.1,843.6 545.1,852.9 546.1,850.0 547.1,848.7 548.1,852.7 549.1,849.2 550.1,837.2 551.1,856.3 552.1,853.7 553.1,848.2 554.1,847.0 555.1,849.7 556.1,842.5 557.1,850.0 558.1,847.4 559.1,846.7 560.1,844.0 561.1,845.1 562.1,853.4 563.1,854.4 564.1,850.4 565.1,847.8 566.1,843.8 567.1,851.3 568.1,855.4 569.1,840.1 570.1,853.2 571.1,837.4 572.1,845.9 573.1,849.3 574.1,841.0 575.1,840.2 576.1,848.2 577.1,851.4 578.1,844.9 579.1,853.5 580.1,843.3 581.1,855.3 582.1,847.5 583.1,847.9 584.1,849.7 585.1,848.2 586.1,855.4 587.1,857.0 588.1,849.1 589.1,845.7 590.1,840.8 591.1,842.7 592.1,846.3 593.1,845.7 594.1,845.9 595.1,846.1 596.1,848.3 597.1,839.5 598.1,841.0 599.1,851.2 600.1,849.8 601.1,843.3 602.1,851.9 603.1,842.5 604.1,844.5 605.1,837.0 606.1,849.7 607.1,845.6 608.1,850.7 609.1,848.9 610.1,846.0 611.1,846.3 612.1,851.2 613.1,844.7 614.1,844.7 615.1,845.7 616.1,849.2 617.1,849.7 618.1,854.4 619.1,844.9 620.1,851.3 621.1,842.2 622.1,848.1 623.1,845.8 624.1,853.5 625.1,848.1 626.1,843.0 627.1,847.9 628.1,846.8 629.1,843.6 630.1,843.7 631.1,840.5 632.1,856.7 633.1,845.6 634.1,849.6 635.1,839.4 636.1,839.7 637.1,844.1 638.1,844.1 639.1,848.4 640.1,839.4 641.1,846.5 642.1,850.9 643.1,839.0 644.1,847.4 645.1,838.2 646.1,844.2 647.1,844.0 648.1,850.3 649.1,838.4 650.1,842.2 651.1,846.1 652.1,835.2 653.1,840.5 654.1,836.1 655.1,836.6 656.1,842.9 657.1,842.7 658.1,850.9 659.1,845.7 660.1,845.2 661.1,838.2 662.1,837.5 663.1,839.5 664.1,827.9 665.1,846.6 666.1,835.4 667.1,833.4 668.1,836.2 669.1,842.5 670.1,844.2 671.1,836.4 672.1,840.2 673.1,837.7 674.1,833.1 675.1,838.6 676.1,837.9 677.1,830.3 678.1,842.9 679.1,830.0 680.1,838.5 681.1,832.3 682.1,833.3 683.1,833.8 684.1,840.5 685.1,831.0 686.1,836.0 687.1,844.3 688.1,833.4 689.1,836.5 690.1,839.8 691.1,833.7 692.1,838.7 693.1,833.2 694.1,839.6 695.1,836.4 696.1,831.5 697.1,842.6 698.1,835.2 699.1,834.2 700.1,830.9 701.1,832.9 702.1,834.6 703.1,835.7 704.1,840.0 705.1,828.3 706.1,832.8 707.1,840.1 708.1,835.0 709.1,836.0 710.1,841.5 711.1,835.3 712.1,835.8 713.1,833.2 714.1,841.8 715.1,838.1 716.1,829.5 717.1,835.4 718.1,827.1 719.1,837.7 720.1,835.6 721.1,831.4 722.1,830.2 723.1,823.4 724.1,835.7 725.1,831.4 726.1,830.5 727.1,835.4 728.1,828.7 729.1,829.1 730.1,828.5 731.1,825.3 732.1,843.4 733.1,830.8 734.1,830.1 735.1,836.1 736.1,819.6 737.1,831.5 738.1,831.7 739.1,826.9 740.1,833.8 741.1,821.7 742.1,831.5 743.1,835.7 744.1,820.6 745.1,824.3 746.1,830.4 747.1,831.0 748.1,827.9 749.1,832.7 750.1,832.0 751.1,824.2 752.1,830.2 753.1,824.5 754.1,820.5 755.1,819.1 756.1,835.4 757.1,829.8 758.1,839.8 759.1,823.2 760.1,828.6 761.1,831.9 762.1,829.5 763.1,832.6 764.1,830.9 765.1,827.2 766.1,818.8 767.1,825.5 768.1,838.5 769.1,833.8 770.1,836.8 771.1,827.3 772.1,829.2 773.1,825.8 774.1,832.0 775.1,830.4 776.1,832.3 777.1,838.6 778.1,825.9 779.1,833.4 780.1,822.9 781.1,835.0 782.1,827.4 783.1,829.1 784.1,830.0 785.1,837.3 786.1,829.0 787.1,826.7 788.1,823.2 789.1,830.2 790.1,824.6 791.1,826.2 792.1,828.5 793.1,831.8 794.1,824.9 795.1,831.5 796.1,836.8 797.1,820.8 798.1,834.6 799.1,838.4 800.1,824.9 801.1,830.7 802.1,820.9 803.1,829.1 804.1,825.8 805.1,828.8 806.1,822.7 807.1,823.1 808.1,824.8 809.1,823.4 810.1,823.7 811.1,825.6 812.1,821.1 813.1,825.7 814.1,828.6 815.1,814.9 816.1,827.0 817.1,822.3 818.1,820.4 819.1,819.2 820.1,821.7 821.1,822.2 822.1,827.6 823.1,819.8 824.1,831.2 825.1,822.1 826.1,829.5 827.1,831.6 828.1,820.4 829.1,831.7 830.1,837.3 831.1,824.5 832.1,829.7 833.1,826.3 834.1,827.5 835.1,826.2 836.1,824.8 837.1,830.9 838.1,831.8 839.1,827.6 840.1,835.1 841.1,833.1 842.1,831.3 843.1,824.4 844.1,837.4 845.1,834.6 846.1,817.7 847.1,822.8 848.1,826.0 849.1,833.0 850.1,834.6 851.1,827.2 852.1,829.9 853.1,832.2 854.1,822.6 855.1,831.8 856.1,827.5 857.1,829.9 858.1,828.9 859.1,823.4 860.1,824.4 861.1,829.5 862.1,829.8 863.1,827.9 864.1,834.3 865.1,827.3 866.1,823.0 867.1,827.3 868.1,828.0 869.1,828.2 870.1,834.5 871.1,831.3 872.1,833.9 873.1,831.7 874.1,827.8 875.1,833.7 876.1,827.2 877.1,829.7 878.1,823.5 879.1,828.9 880.1,826.7 881.1,830.1 882.1,837.2 883.1,839.9 884.1,833.2 885.1,827.9 886.1,832.1 887.1,829.1 888.1,825.0 889.1,827.6 890.1,826.6 891.1,824.8 892.1,834.6 893.1,825.0 894.1,825.2 895.1,831.1 896.1,824.1 897.1,821.8 898.1,823.3 899.1,829.8 900.1,829.2 901.1,828.8 902.1,825.0 903.1,822.7 904.1,831.6 905.1,820.0 906.1,826.0 907.1,820.5 908.1,825.0 909.1,826.2 910.1,832.9 911.1,814.4 912.1,833.5 913.1,822.4 914.1,828.2 915.1,830.6 916.1,822.8 917.1,826.1 918.1,828.9 919.1,825.8 920.1,822.7 921.1,827.2 922.1,826.8 923.1,818.8 924.1,832.9 925.1,827.2 926.1,814.0 927.1,821.8 928.1,834.4 929.1,833.7 930.1,827.1 931.1,817.4 932.1,824.5 933.1,830.9 934.1,827.5 935.1,823.8 936.1,821.8 937.1,829.5 938.1,824.3 939.1,826.9 940.1,827.6 941.1,833.3 942.1,826.0 943.1,826.3 944.1,816.1 945.1,830.4 946.1,829.2 947.1,824.7 948.1,813.4 949.1,821.8 950.1,824.9 951.1,834.9 952.1,827.4 953.1,828.3 954.1,828.4 955.1,830.9 956.1,818.5 957.1,819.9 958.1,818.2 959.1,822.6 960.1,822.1 961.1,824.3 962.1,818.6 963.1,824.1 964.1,819.2 965.1,833.9 966.1,820.6 967.1,835.5 968.1,831.2 969.1,817.0 970.1,827.7 971.1,825.8 972.1,815.0 973.1,825.6 974.1,822.0 975.1,824.1 976.1,818.0 977.1,821.9 978.1,824.1 979.1,821.1 980.1,818.8 981.1,821.0 982.1,816.8 983.1,823.3 984.1,808.8 985.1,828.9 986.1,821.6 987.1,823.5 988.1,825.3 989.1,814.7 990.1,832.2 991.1,815.1 992.1,823.0 993.1,822.2 994.1,827.0 995.1,820.3 996.1,813.2 997.1,821.8 998.1,807.7 999.1,818.9 1000.1,817.5 1001.1,827.6 1002.1,818.2 1003.1,817.2 1004.1,815.6 1005.1,815.0 1006.1,816.4 1007.1,822.1 1008.1,812.3 1009.1,817.8 1010.1,811.3 1011.1,817.8 1012.1,819.4 1013.1,812.1 1014.1,815.4 1015.1,818.8 1016.1,822.1 1017.1,823.0 1018.1,817.3 1019.1,812.6 1020.1,809.2 1021.1,821.6 1022.1,824.7 1023.1,819.2 1024.1,825.4 1025.1,814.7 1026.1,814.9 1027.1,825.1 1028.1,811.4 1029.1,819.8 1030.1,818.5 1031.1,817.2 1032.1,825.5 1033.1,811.4 1034.1,813.7 1035.1,804.7 1036.1,810.2 1037.1,812.9 1038.1,813.5 1039.1,814.4 1040.1,817.0 1041.1,811.6 1042.1,804.3 1043.1,815.8 1044.1,817.2 1045.1,808.4 1046.1,810.3 1047.1,824.2 1048.1,820.1 1049.1,820.3 1050.1,817.9 1051.1,814.9 1052.1,811.1 1053.1,816.7 1054.1,812.1 1055.1,810.4 1056.1,812.5 1057.1,811.7 1058.1,816.8 1059.1,806.1 1060.1,825.2 1061.1,805.3 1062.1,808.4 1063.1,815.9 1064.1,805.6 1065.1,807.5 1066.1,810.2 1067.1,795.6 1068.1,806.7 1069.1,803.9 1070.1,807.8 1071.1,811.9 1072.1,812.5 1073.1,817.3 1074.1,816.7 1075.1,814.2 1076.1,807.8 1077.1,813.9 1078.1,801.8 1079.1,806.8 1080.1,815.6 1081.1,811.6 1082.1,798.6 1083.1,803.1 1084.1,811.7 1085.1,809.9 1086.1,812.4 1087.1,795.4 1088.1,798.1 1089.1,803.8 1090.1,799.2 1091.1,804.5 1092.1,804.5 1093.1,806.2 1094.1,803.1 1095.1,806.9 1096.1,808.0 1097.1,803.9 1098.1,795.3 1099.1,810.2 1100.1,803.4 1101.1,804.4 1102.1,802.5 1103.1,791.4 1104.1,804.4 1105.1,796.6 1106.1,792.8 1107.1,807.9 1108.1,797.8 1109.1,801.2 1110.1,804.7 1111.1,809.0 1112.1,787.7 1113.1,794.0 1114.1,802.6 1115.1,794.1 1116.1,782.5 1117.1,798.7 1118.1,799.0 1119.1,802.4 1120.1,798.7 1121.1,794.3 1122.1,798.2 1123.1,796.4 1124.1,793.3 1125.1,797.8 1126.1,798.3 1127.1,789.4 1128.1,802.1 1129.1,800.7 1130.1,800.1 1131.1,778.9 1132.1,795.2 1133.1,793.3 1134.1,787.3 1135.1,797.1 1136.1,783.4 1137.1,800.6 1138.1,794.8 1139.1,788.7 1140.1,800.8 1141.1,794.2 1142.1,793.0 1143.1,782.1 1144.1,793.6 1145.1,799.0 1146.1,796.6 1147.1,780.7 1148.1,797.8 1149.1,798.9 1150.1,793.6 1151.1,785.0 1152.1,777.1 1153.1,780.4 1154.1,782.0 1155.1,787.0 1156.1,788.2 1157.1,779.2 1158.1,772.7 1159.1,780.1 1160.1,773.5 1161.1,790.4 1162.1,773.0 1163.1,783.6 1164.1,785.3 1165.1,773.0 1166.1,785.5 1167.1,777.5 1168.1,772.8 1169.1,771.3 1170.1,777.8 1171.1,783.6 1172.1,763.7 1173.1,779.7 1174.1,774.2 1175.1,769.8 1176.1,773.6 1177.1,773.8 1178.1,773.0 1179.1,777.2 1180.1,764.4 1181.1,781.7 1182.1,773.0 1183.1,761.6 1184.1,751.3 1185.1,762.2 1186.1,759.2 1187.1,766.3 1188.1,765.7 1189.1,773.1 1190.1,759.3 1191.1,764.9 1192.1,756.5 1193.1,756.4 1194.1,768.4 1195.1,757.1 1196.1,756.8 1197.1,754.8 1198.1,758.8 1199.1,760.1 1200.1,754.5 1201.1,747.0 1202.1,755.8 1203.1,747.3 1204.1,749.5 1205.1,752.4 1206.1,751.8 1207.1,734.0 1208.1,759.6 1209.1,752.8 1210.1,759.4 1211.1,763.0 1212.1,740.8 1213.1,743.5 1214.1,749.0 1215.1,753.7 1216.1,744.4 1217.1,745.9 1218.1,755.2 1219.1,742.6 1220.1,749.9 1221.1,755.5 1222.1,746.6 1223.1,753.4 1224.1,747.4 1225.1,737.7 1226.1,744.4 1227.1,746.6 1228.1,745.6 1229.1,747.9 1230.1,750.2 1231.1,749.5 1232.1,749.3 1233.1,745.8 1234.1,747.7 1235.1,747.2 1236.1,746.4 1237.1,759.7 1238.1,738.8 1239.1,753.3 1240.1,741.6 1241.1,748.9 1242.1,758.6 1243.1,752.0 1244.1,763.8 1245.1,749.5 1246.1,754.8 1247.1,753.6 1248.1,758.9 1249.1,757.8 1250.1,758.3 1251.1,762.4 1252.1,770.1 1253.1,764.9 1254.1,765.3 1255.1,763.7 1256.1,761.1 1257.1,756.5 1258.1,759.2 1259.1,766.5 1260.1,754.0 1261.1,770.9 1262.1,764.1 1263.1,760.9 1264.1,763.6 1265.1,771.9 1266.1,770.6 1267.1,770.5 1268.1,780.9 1269.1,785.3 1270.1,762.3 1271.1,777.1 1272.1,767.0 1273.1,763.6 1274.1,769.8 1275.1,780.6 1276.1,772.4 1277.1,771.8 1278.1,784.5 1279.1,779.1 1280.1,775.7 1281.1,788.5 1282.1,780.3 1283.1,772.7 1284.1,770.8 1285.1,775.6 1286.1,779.8 1287.1,785.2 1288.1,785.0 1289.1,780.6 1290.1,772.6 1291.1,786.8 1292.1,781.8 1293.1,774.5 1294.1,774.0 1295.1,783.9 1296.1,785.2 1297.1,788.7 1298.1,775.8 1299.1,796.7 1300.1,772.7 1301.1,784.8 1302.1,794.3 1303.1,792.8 1304.1,780.4 1305.1,791.4 1306.1,796.3 1307.1,793.8 1308.1,783.3 1309.1,801.4 1310.1,780.6 1311.1,792.3 1312.1,785.8 1313.1,790.7 1314.1,791.5 1315.1,797.1 1316.1,785.8 1317.1,795.6 1318.1,802.9 1319.1,795.1 1320.1,798.3 1321.1,797.7 1322.1,790.2 1323.1,792.9 1324.1,795.8 1325.1,798.8 1326.1,809.2 1327.1,806.8 1328.1,793.2 1329.1,793.6 1330.1,790.0 1331.1,781.7 1332.1,805.6 1333.1,800.7 1334.1,784.7 1335.1,797.7 1336.1,813.3 1337.1,801.3 1338.1,801.6 1339.1,800.2 1340.1,794.4 1341.1,792.3 1342.1,795.1 1343.1,802.1 1344.1,800.1 1345.1,806.8 1346.1,814.3 1347.1,807.3 1348.1,809.4 1349.1,802.2 1350.1,796.5 1351.1,819.8 1352.1,810.9 1353.1,814.0 1354.1,803.8 1355.1,795.3 1356.1,815.1 1357.1,792.5 1358.1,805.6 1359.1,803.3 1360.1,808.3 1361.1,812.2 1362.1,812.5 1363.1,793.8 1364.1,813.9 1365.1,795.4 1366.1,812.1 1367.1,805.1 1368.1,800.8 1369.1,804.9 1370.1,800.0 1371.1,808.5 1372.1,814.8 1373.1,814.0 1374.1,809.4 1375.1,816.3 1376.1,812.6 1377.1,823.3 1378.1,813.0 1379.1,806.2 1380.1,808.3 1381.1,805.5 1382.1,808.5 1383.1,809.6 1384.1,815.0 1385.1,815.7 1386.1,811.3 1387.1,813.8 1388.1,806.7 1389.1,808.0 1390.1,796.5 1391.1,806.9 1392.1,808.8 1393.1,827.4 1394.1,803.8 1395.1,812.7 1396.1,810.4 1397.1,802.9 1398.1,814.4 1399.1,813.0 1400.1,804.2 1401.1,799.0 1402.1,813.0 1403.1,804.8 1404.1,817.8 1405.1,812.1 1406.1,816.9 1407.1,811.8 1408.1,822.9 1409.1,817.7 1410.1,822.6 1411.1,814.1 1412.1,807.2 1413.1,804.8 1414.1,810.2 1415.1,814.9 1416.1,809.3 1417.1,827.6 1418.1,812.6 1419.1,815.6 1420.1,813.3 1421.1,805.4 1422.1,818.9 1423.1,816.5 1424.1,817.7 1425.1,807.0 1426.1,812.6 1427.1,812.2 1428.1,819.1 1429.1,804.2 1430.1,816.1 1431.1,819.5 1432.1,809.6 1433.1,807.3 1434.1,819.6 1435.1,813.3 1436.1,818.3 1437.1,816.1 1438.1,817.8 1439.1,810.6 1440.1,799.4 1441.1,814.9 1442.1,807.7 1443.1,815.3 1444.1,808.9 1445.1,821.3 1446.1,810.8 1447.1,817.1 1448.1,818.8 1449.1,812.2 1450.1,814.6 1451.1,812.9 1452.1,807.9 1453.1,821.5 1454.1,808.3 1455.1,804.8 1456.1,810.8 1457.1,814.5 1458.1,814.3 1459.1,812.2 1460.1,811.7 1461.1,802.5 1462.1,818.0 1463.1,824.3 1464.1,810.9 1465.1,805.2 1466.1,819.4 1467.1,814.6 1468.1,802.2 1469.1,811.8 1470.1,808.2 1471.1,809.9 1472.1,827.3 1473.1,822.1 1474.1,816.1 1475.1,817.2 1476.1,825.8 1477.1,811.6 1478.1,821.8 1479.1,814.5 1480.1,822.7 1481.1,819.6 1482.1,814.6 1483.1,824.5 1484.1,821.9 1485.1,829.0 1486.1,817.3 1487.1,820.3 1488.1,816.2 1489.1,826.3 1490.1,815.9 1491.1,819.9 1492.1,826.9 1493.1,822.8 1494.1,821.6 1495.1,821.6 1496.1,822.0 1497.1,823.6 1498.1,818.7 1499.1,810.1 1500.1,827.3 1501.1,815.0 1502.1,830.0 1503.1,822.0 1504.1,832.8 1505.1,826.7 1506.1,822.9 1507.1,825.5 1508.1,813.6 1509.1,821.7 1510.1,819.0 1511.1,821.0 1512.1,810.3 1513.1,809.6 1514.1,824.7 1515.1,821.3 1516.1,818.8 1517.1,820.6 1518.1,817.7 1519.1,818.5 1520.1,824.6 1521.1,819.8 1522.1,824.6 1523.1,817.3 1524.1,811.6 1525.1,817.5 1526.1,820.2 1527.1,815.1 1528.1,818.9 1529.1,818.3 1530.1,825.7 1531.1,825.3 1532.1,826.6 1533.1,816.9 1534.1,822.7 1535.1,827.6 1536.1,821.8 1537.1,820.5 1538.1,816.9 1539.1,825.2 1540.1,821.8 1541.1,826.1 1542.1,820.1 1543.1,831.6 1544.1,820.7 1545.1,814.5 1546.1,821.9 1547.1,823.4 1548.1,827.5 1549.1,818.4 1550.1,818.1 1551.1,819.5 1552.1,818.8 1553.1,809.9 1554.1,824.6 1555.1,827.4 1556.1,816.9 1557.1,815.8 1558.1,820.1 1559.1,816.7 1560.1,825.0 1561.1,817.7 1562.1,824.1 1563.1,814.5 1564.1,813.7 1565.1,813.0 1566.1,813.7 1567.1,823.3 1568.1,825.5 1569.1,821.9 1570.1,822.2 1571.1,809.7 1572.1,826.9 1573.1,814.8 1574.1,828.0 1575.1,833.7 1576.1,821.6 1577.1,824.5 1578.1,824.5 1579.1,814.5 1580.1,815.5 1581.1,817.8 1582.1,822.2 1583.1,825.7 1584.1,822.0 1585.1,827.1 1586.1,818.8 1587.1,814.2 1588.1,821.7 1589.1,821.2 1590.1,814.2 1591.1,826.9 1592.1,816.7 1593.1,817.9 1594.1,822.8 1595.1,816.2 1596.1,825.0 1597.1,823.8 1598.1,824.2 1599.1,821.9 1600.1,819.6 1601.1,818.2 1602.1,823.7 1603.1,829.2 1604.1,826.3 1605.1,824.2 1606.1,827.5 1607.1,829.3 1608.1,816.1 1609.1,822.4 1610.1,828.9 1611.1,819.4 1612.1,820.4 1613.1,826.0 1614.1,821.8 1615.1,829.2 1616.1,821.4 1617.1,826.2 1618.1,835.4 1619.1,829.1 1620.1,816.3 1621.1,818.0 1622.1,818.2 1623.1,823.2 1624.1,816.3 1625.1,826.4 1626.1,832.4 1627.1,831.6 1628.1,819.7 1629.1,822.3 1630.1,822.2 1631.1,819.5 1632.1,832.5 1633.1,820.3 1634.1,818.2 1635.1,825.8 1636.1,825.7 1637.1,831.9 1638.1,832.0 1639.1,823.2 1640.1,813.4 1641.1,827.7 1642.1,828.4 1643.1,833.5 1644.1,816.3 1645.1,818.4 1646.1,832.4 1647.1,832.8 1648.1,831.2 1649.1,824.5 1650.1,831.3 1651.1,821.9 1652.1,818.5 1653.1,824.6 1654.1,825.6 1655.1,829.2 1656.1,830.8 1657.1,816.3 1658.1,826.8 1659.1,828.0 1660.1,819.1 1661.1,824.3 1662.1,826.0 1663.1,828.1 1664.1,821.5 1665.1,822.9 1666.1,820.5 1667.1,827.9 1668.1,824.6 1669.1,823.4 1670.1,829.8 1671.1,825.7 1672.1,820.6 1673.1,832.6 1674.1,831.9 1675.1,829.3 1676.1,821.8 1677.1,832.8 1678.1,824.3 1679.1,817.8 1680.1,826.8 1681.1,836.8 1682.1,825.4 1683.1,830.8 1684.1,834.8 1685.1,828.9 1686.1,826.5 1687.1,828.2 1688.1,831.2 1689.1,825.8 1690.1,830.2 1691.1,831.4 1692.1,826.8 1693.1,832.4 1694.1,831.7 1695.1,827.3 1696.1,828.1 1697.1,829.7 1698.1,828.5 1699.1,828.3 1700.1,824.3 1701.1,830.1 1702.1,833.4 1703.1,833.0 1704.1,825.7 1705.1,832.8 1706.1,833.2 1707.1,825.5 1708.1,832.9 1709.1,829.5 1710.1,828.5 1711.1,831.5 1712.1,829.3 1713.1,819.2 1714.1,831.5 1715.1,824.8 1716.1,830.0 1717.1,833.9 1718.1,829.3 1719.1,828.2 1720.1,831.2 1721.1,833.0 1722.1,826.3 1723.1,827.4 1724.1,833.1 1725.1,838.6 1726.1,830.6 1727.1,835.0 1728.1,826.9 1729.1,830.7 1730.1,831.0 1731.1,824.2 1732.1,830.6 1733.1,829.7 1734.1,818.4 1735.1,830.2 1736.1,832.1 1737.1,831.9 1738.1,832.3 1739.1,825.1 1740.1,827.0 1741.1,829.7 1742.1,826.4 1743.1,828.4 1744.1,836.8 1745.1,826.3 1746.1,829.0 1747.1,839.9 1748.1,830.1 1749.1,825.8 1750.1,832.1 1751.1,831.8 1752.1,831.6 1753.1,822.7 1754.1,832.4 1755.1,832.9 1756.1,841.3 1757.1,834.5 1758.1,829.0 1759.1,832.8 1760.1,834.6 1761.1,830.6 1762.1,831.1 1763.1,838.2 1764.1,833.8 1765.1,834.0 1766.1,826.7 1767.1,833.7 1768.1,822.2 1769.1,837.7 1770.1,829.4 1771.1,834.9 1772.1,838.7 1773.1,826.4 1774.1,837.6 1775.1,833.0 1776.1,837.6 1777.1,830.1 1778.1,828.5 1779.1,838.4 1780.1,834.1 1781.1,832.3 1782.1,826.4 1783.1,838.6 1784.1,830.5 1785.1,831.0 1786.1,828.7 1787.1,832.2 1788.1,835.1 1789.1,831.9 1790.1,831.8 1791.1,829.5 1792.1,839.6 1793.1,840.2 1794.1,830.8 1795.1,827.9 1796.1,833.5 1797.1,824.3 1798.1,833.5 1799.1,833.6 1800.1,833.1 1801.1,840.2 1802.1,841.4 1803.1,834.6 1804.1,830.6 1805.1,837.5 1806.1,838.1 1807.1,826.6 1808.1,828.9 1809.1,831.3 1810.1,824.4 1811.1,827.1 1812.1,840.7 1813.1,826.4 1814.1,836.8 1815.1,828.7 1816.1,837.6 1817.1,834.3 1818.1,837.2 1819.1,826.0 1820.1,834.2 1821.1,830.0 1822.1,836.6 1823.1,836.4 1824.1,833.8 1825.1,832.3 1826.1,832.9 1827.1,834.2 1828.1,830.5 1829.1,830.9 1830.1,829.9 1831.1,827.9 1832.1,838.2 1833.1,826.6 1834.1,839.5 1835.1,836.6 1836.1,824.8 1837.1,824.2 1838.1,833.3 1839.1,828.0 1840.1,834.0 1841.1,838.0 1842.1,835.1 1843.1,832.3 1844.1,832.5 1845.1,840.6 1846.1,831.7 1847.1,842.0 1848.1,843.5 1849.1,831.8 1850.1,835.1 1851.1,842.1 1852.1,830.3 1853.1,835.8 1854.1,838.9 1855.1,828.7 1856.1,835.7 1857.1,834.5 1858.1,831.2 1859.1,841.4 1860.1,833.1 1861.1,845.0 1862.1,837.2 1863.1,830.2 1864.1,835.0 1865.1,829.9 1866.1,837.6 1867.1,836.8 1868.1,827.7 1869.1,831.5 1870.1,835.8 1871.1,833.7 1872.1,828.6 1873.1,838.7 1874.1,840.0 1875.1,826.0 1876.1,840.5 1877.1,823.2 1878.1,832.5 1879.1,829.8 1880.1,830.3 1881.1,833.9 1882.1,827.3 1883.1,832.4 1884.1,841.1 1885.1,835.1 1886.1,840.1 1887.1,837.0 1888.1,824.8 1889.1,841.4 1890.1,836.9 1891.1,835.9 1892.1,830.8 1893.1,830.0 1894.1,827.4 1895.1,831.8 1896.1,833.0 1897.1,831.7 1898.1,831.7 1899.1,822.9 1900.1,828.6 1901.1,828.4 1902.1,833.7 1903.1,830.0 1904.1,830.0 1905.1,832.6 1906.1,829.8 1907.1,830.7 1908.1,837.4 1909.1,831.2 1910.1,827.5 1911.1,834.8 1912.1,835.8 1913.1,834.9 1914.1,825.4 1915.1,836.4 1916.1,832.0 1917.1,832.3 1918.1,832.1 1919.1,833.9 1920.1,834.0 1921.1,838.8 1922.1,832.8 1923.1,831.1 1924.1,834.6 1925.1,831.0 1926.1,836.8 1927.1,832.2 1928.1,835.0 1929.1,828.9 1930.1,836.1 1931.1,834.3 1932.1,827.2 1933.1,829.4 1934.1,831.6 1935.1,824.8 1936.1,825.9 1937.1,833.4 1938.1,833.5 1939.1,837.5 1940.1,824.8 1941.1,829.2 1942.1,821.1 1943.1,839.3 1944.1,824.4 1945.1,829.6 1946.1,840.0 1947.1,837.4 1948.1,826.1 1949.1,841.0 1950.1,832.1 1951.1,824.7 1952.1,830.8 1953.1,832.4 1954.1,832.1 1955.1,818.6 1956.1,837.6 1957.1,820.8 1958.1,827.3 1959.1,835.1 1960.1,829.8 1961.1,827.6 1962.1,824.6 1963.1,830.2 1964.1,833.9 1965.1,824.3 1966.1,828.9 1967.1,824.8 1968.1,824.4 1969.1,816.2 1970.1,827.5 1971.1,830.9 1972.1,825.7 1973.1,831.5 1974.1,827.3 1975.1,832.5 1976.1,827.3 1977.1,824.9 1978.1,824.3 1979.1,827.2 1980.1,828.2 1981.1,823.1 1982.1,826.2 1983.1,820.5 1984.1,820.5 1985.1,830.2 1986.1,828.9 1987.1,831.4 1988.1,827.9 1989.1,828.4 1990.1,836.1 1991.1,823.3 1992.1,828.8 1993.1,835.0 1994.1,837.2 1995.1,830.2 1996.1,827.0 1997.1,822.5 1998.1,826.8 1999.1,828.4 2000.1,827.8 2001.1,830.1 2002.1,830.5 2003.1,825.5 2004.1,823.5 2005.1,826.4 2006.1,830.0 2007.1,835.8 2008.1,820.2 2009.1,833.2 2010.1,826.8 2011.1,833.5 2012.1,837.3 2013.1,830.7 2014.1,822.9 2015.1,826.4 2016.1,830.2 2017.1,827.0 2018.1,828.3 2019.1,825.0 2020.1,827.7 2021.1,825.8 2022.1,833.0 2023.1,830.4 2024.1,832.5 2025.1,821.3 2026.1,827.0 2027.1,825.6 2028.1,827.2 2029.1,825.1 2030.1,825.9 2031.1,837.0 2032.1,828.2 2033.1,823.6 2034.1,828.2 2035.1,840.5 2036.1,833.2 2037.1,825.4 2038.1,828.7 2039.1,829.6 2040.1,830.2 2041.1,821.3 2042.1,825.6 2043.1,829.4 2044.1,822.1 2045.1,829.5 2046.1,830.8 2047.1,834.2 2048.1,835.6 2049.1,829.7 2050.1,831.6 2051.1,833.7 2052.1,835.2 2053.1,830.6 2054.1,826.6 2055.1,832.9 2056.1,834.0 2057.1,830.6 2058.1,832.5 2059.1,837.3 2060.1,827.2 2061.1,826.1 2062.1,824.2 2063.1,831.0 2064.1,833.7 2065.1,826.7 2066.1,837.6 2067.1,826.1 2068.1,830.1 2069.1,828.2 2070.1,835.2 2071.1,825.5 2072.1,836.3 2073.1,827.5 2074.1,821.8 2075.1,825.4 2076.1,827.3 2077.1,835.9 2078.1,825.5 2079.1,827.6 2080.1,835.5 2081.1,824.3 2082.1,818.6 2083.1,816.1 2084.1,810.1 2085.1,817.3 2086.1,819.3 2087.1,807.4 2088.1,798.4 2089.1,799.0 2090.1,792.0 2091.1,783.4 2092.1,776.1 2092.9,765.0 2094.1,774.7 2095.1,791.3 2096.1,783.9 2097.1,792.3 2098.1,801.4 2099.1,801.3 2100.1,819.9 2101.1,807.2 2102.1,822.9 2103.1,823.5 2104.1,823.6 2105.1,825.2 2106.1,821.6 2107.1,822.1 2108.1,833.5 2109.1,826.7 2110.1,820.2 2111.1,821.0 2112.1,819.4 2113.1,827.8 2114.1,831.8 2115.1,824.7 2116.1,826.6 2117.1,823.3 2118.1,829.8 2119.1,829.6 2120.1,829.6 2121.1,833.6 2122.1,819.0 2123.1,828.5 2124.1,817.3 2125.1,828.3 2126.1,828.9 2127.1,828.7 2128.1,829.2 2129.1,824.9 2130.1,822.7 2131.1,829.6 2132.1,823.1 2133.1,829.6 2134.1,822.3 2135.1,828.2 2136.1,828.1 2137.1,822.9 2138.1,825.5 2139.1,831.5 2140.1,827.5 2141.1,830.0 2142.1,825.0 2143.1,828.3 2144.1,820.9 2145.1,824.4 2146.1,834.2 2147.1,831.0 2148.1,828.6 2149.1,829.3 2150.1,822.4 2151.1,831.0 2152.1,823.3 2153.1,825.8 2154.1,832.5 2155.1,825.6 2156.1,826.6 2157.1,828.6 2158.1,829.4 2159.1,835.2 2160.1,820.7 2161.1,826.8 2162.1,831.5 2163.1,826.3 2164.1,826.7 2165.1,824.6 2166.1,827.0 2167.1,831.4 2168.1,834.2 2169.1,829.9 2170.1,834.7 2171.1,828.6 2172.1,820.2 2173.1,831.6 2174.1,818.4 2175.1,827.6 2176.1,827.9 2177.1,822.4 2178.1,826.8 2179.1,825.1 2180.1,828.3 2181.1,826.2 2182.1,830.5 2183.1,825.8 2184.1,830.4 2185.1,827.6 2186.1,828.7 2187.0,828.7"/>
<polyline class="cv" stroke="#008000" stroke-width="9.2" points="366.1,1400.1 367.1,1400.1 368.1,1403.5 369.1,1405.7 370.1,1407.9 371.1,1404.6 372.1,1402.4 373.1,1401.6 374.1,1406.4 375.1,1409.2 376.1,1404.7 377.1,1399.8 378.1,1400.6 379.1,1408.7 380.1,1404.2 381.1,1397.9 382.1,1403.1 383.1,1399.6 384.1,1401.2 385.1,1401.6 386.1,1400.8 387.1,1404.8 388.1,1402.8 389.1,1401.2 390.1,1404.6 391.1,1406.1 392.1,1398.4 393.1,1403.0 394.1,1400.8 395.1,1403.6 396.1,1400.2 397.1,1404.5 398.1,1404.5 399.1,1403.8 400.1,1401.6 401.1,1403.9 402.1,1401.8 403.1,1401.1 404.1,1406.3 405.1,1402.2 406.1,1409.7 407.1,1408.4 408.1,1399.9 409.1,1407.3 410.1,1403.1 411.1,1406.9 412.1,1407.1 413.1,1400.8 414.1,1406.5 415.1,1406.6 416.1,1410.7 417.1,1404.0 418.1,1410.3 419.1,1404.6 420.1,1407.2 421.1,1405.8 422.1,1413.3 423.1,1410.6 424.1,1416.0 425.1,1411.2 426.1,1412.0 427.1,1412.2 428.1,1407.7 429.1,1409.6 430.1,1414.1 431.1,1408.4 432.1,1410.1 433.1,1409.3 434.1,1411.2 435.1,1408.0 436.1,1408.5 437.1,1409.6 438.1,1409.1 439.1,1405.8 440.1,1411.3 441.1,1404.2 442.1,1404.4 443.1,1404.0 444.1,1411.0 445.1,1406.6 446.1,1404.6 447.1,1403.9 448.1,1408.7 449.1,1403.9 450.1,1403.1 451.1,1409.0 452.1,1403.0 453.1,1405.7 454.1,1406.6 455.1,1405.0 456.1,1406.2 457.1,1410.5 458.1,1404.4 459.1,1401.9 460.1,1399.9 461.1,1405.0 462.1,1404.4 463.1,1406.2 464.1,1403.8 465.1,1403.6 466.1,1402.7 467.1,1403.2 468.1,1405.2 469.1,1403.4 470.1,1404.8 471.1,1410.4 472.1,1405.9 473.1,1399.4 474.1,1410.0 475.1,1405.6 476.1,1401.5 477.1,1407.5 478.1,1404.7 479.1,1402.7 480.1,1402.7 481.1,1401.6 482.1,1405.0 483.1,1408.3 484.1,1403.9 485.1,1406.3 486.1,1411.1 487.1,1401.2 488.1,1406.0 489.1,1404.2 490.1,1401.9 491.1,1402.0 492.1,1405.3 493.1,1406.8 494.1,1403.8 495.1,1405.7 496.1,1407.9 497.1,1406.6 498.1,1408.4 499.1,1407.2 500.1,1407.3 501.1,1411.6 502.1,1407.8 503.1,1406.3 504.1,1408.2 505.1,1403.1 506.1,1405.0 507.1,1408.6 508.1,1408.2 509.1,1411.2 510.1,1406.3 511.1,1401.6 512.1,1412.6 513.1,1409.9 514.1,1403.1 515.1,1410.9 516.1,1406.7 517.1,1400.8 518.1,1405.3 519.1,1405.1 520.1,1411.8 521.1,1404.3 522.1,1406.0 523.1,1406.0 524.1,1405.7 525.1,1404.1 526.1,1407.8 527.1,1410.6 528.1,1409.6 529.1,1405.1 530.1,1404.8 531.1,1409.2 532.1,1407.0 533.1,1407.7 534.1,1404.7 535.1,1416.8 536.1,1413.9 537.1,1408.2 538.1,1414.7 539.1,1416.5 540.1,1405.6 541.1,1411.3 542.1,1412.2 543.1,1415.9 544.1,1413.5 545.1,1412.8 546.1,1413.0 547.1,1418.7 548.1,1419.4 549.1,1410.4 550.1,1408.8 551.1,1418.5 552.1,1407.9 553.1,1408.9 554.1,1410.5 555.1,1411.6 556.1,1413.0 557.1,1410.6 558.1,1406.2 559.1,1410.3 560.1,1409.1 561.1,1414.0 562.1,1407.6 563.1,1403.0 564.1,1403.6 565.1,1411.2 566.1,1404.5 567.1,1399.2 568.1,1403.7 569.1,1405.2 569.9,1404.9 571.1,1402.1 572.1,1408.0 573.1,1408.8 574.1,1404.4 575.1,1406.5 576.1,1413.2 577.1,1413.5 578.1,1411.1 579.1,1409.9 580.1,1412.9 581.1,1409.2 582.1,1409.8 583.1,1407.8 584.1,1411.0 585.1,1411.1 586.1,1418.9 587.1,1411.6 588.1,1416.7 589.1,1416.9 590.1,1412.1 591.1,1416.4 592.1,1405.7 593.1,1413.0 594.1,1415.4 595.1,1405.6 596.1,1408.9 597.1,1416.0 598.1,1411.8 599.1,1409.1 600.1,1411.5 601.1,1410.9 602.1,1415.0 603.1,1414.1 604.1,1411.8 605.1,1410.5 606.1,1412.5 607.1,1416.9 608.1,1413.8 609.1,1414.7 610.1,1412.2 611.1,1408.5 612.1,1410.4 613.1,1414.7 614.1,1413.0 615.1,1409.8 616.1,1407.5 617.1,1413.0 618.1,1411.6 619.1,1411.5 620.1,1411.6 621.1,1413.6 622.1,1413.6 623.1,1415.7 624.1,1415.6 625.1,1416.9 626.1,1415.2 627.1,1411.6 628.1,1412.5 629.1,1414.2 630.1,1411.7 631.1,1414.4 632.1,1416.3 633.1,1410.1 634.1,1407.0 635.1,1416.5 636.1,1412.7 637.1,1414.9 638.1,1408.4 639.1,1418.2 640.1,1414.9 641.1,1412.1 642.1,1411.4 643.1,1412.8 644.1,1411.9 645.1,1411.5 646.1,1408.8 647.1,1416.4 648.1,1412.2 649.1,1412.5 650.1,1412.5 651.1,1405.2 652.1,1413.8 653.1,1411.1 654.1,1411.2 655.1,1412.3 656.1,1408.9 657.1,1414.7 658.1,1409.7 659.1,1409.0 660.1,1409.1 661.1,1412.4 662.1,1414.2 663.1,1409.9 664.1,1406.9 665.1,1415.1 666.1,1408.3 667.1,1415.5 668.1,1411.4 669.1,1409.3 670.1,1409.5 671.1,1413.0 672.1,1414.3 673.1,1410.8 674.1,1414.4 675.1,1418.0 676.1,1410.7 677.1,1407.6 678.1,1407.9 679.1,1406.8 680.1,1409.1 681.1,1408.8 682.1,1406.9 683.1,1412.8 684.1,1404.0 685.1,1406.8 686.1,1417.4 687.1,1414.3 688.1,1412.6 689.1,1412.3 690.1,1416.5 691.1,1412.5 692.1,1411.0 693.1,1406.8 694.1,1410.4 695.1,1408.0 696.1,1407.8 697.1,1407.5 698.1,1409.4 699.1,1408.3 700.1,1411.8 701.1,1404.6 702.1,1408.0 703.1,1414.2 704.1,1408.1 705.1,1411.6 706.1,1411.1 707.1,1411.5 708.1,1409.4 709.1,1402.3 710.1,1405.6 711.1,1405.0 712.1,1401.0 713.1,1404.2 714.1,1399.5 715.1,1395.8 716.1,1399.5 717.1,1396.3 718.1,1393.5 719.1,1392.3 720.1,1393.3 721.1,1393.4 722.1,1393.8 723.1,1395.7 724.1,1395.3 725.1,1398.7 726.1,1399.9 727.1,1400.2 728.1,1397.7 729.1,1399.2 730.1,1404.2 731.1,1403.8 732.1,1405.9 733.1,1400.6 734.1,1402.2 735.1,1411.9 736.1,1412.4 737.1,1416.0 738.1,1414.0 739.1,1412.5 740.1,1412.0 741.1,1407.5 742.1,1415.0 743.1,1410.4 744.1,1414.1 745.1,1413.3 746.1,1413.7 747.1,1415.8 748.1,1411.5 749.1,1412.0 750.1,1410.6 751.1,1412.3 752.1,1419.0 753.1,1412.6 754.1,1417.7 755.1,1416.6 756.1,1416.0 757.1,1415.9 758.1,1409.8 759.1,1413.9 760.1,1417.5 761.1,1409.9 762.1,1411.6 763.1,1409.3 764.1,1412.2 765.1,1407.4 766.1,1415.7 767.1,1409.0 768.1,1405.0 769.1,1415.3 770.1,1412.4 771.1,1410.6 772.1,1410.4 773.1,1407.2 774.1,1407.3 775.1,1410.0 776.1,1410.3 777.1,1410.1 778.1,1407.1 779.1,1404.3 780.1,1404.6 781.1,1408.1 782.1,1408.6 783.1,1402.2 784.1,1401.2 785.1,1406.1 786.1,1403.8 787.1,1403.1 788.1,1396.0 789.1,1395.8 790.1,1391.9 791.1,1390.7 792.1,1381.1 793.1,1387.1 794.1,1379.0 795.1,1371.5 796.1,1358.3 797.1,1354.0 798.1,1350.7 799.1,1335.5 800.1,1335.7 801.1,1331.1 802.1,1322.9 803.1,1332.1 804.1,1335.2 805.1,1347.0 806.1,1353.6 807.1,1365.1 808.1,1383.4 809.1,1391.8 810.1,1396.8 811.1,1392.3 812.1,1397.6 813.1,1405.8 814.1,1409.5 815.1,1408.5 816.1,1411.5 817.1,1405.9 818.1,1410.3 819.1,1406.3 820.1,1411.4 821.1,1409.1 822.1,1408.9 823.1,1411.5 824.1,1417.5 825.1,1408.7 826.1,1410.4 827.1,1416.1 828.1,1411.1 829.1,1417.8 830.1,1412.6 831.1,1412.0 832.1,1412.6 833.1,1416.7 834.1,1413.0 835.1,1412.3 836.1,1411.2 837.1,1405.2 838.1,1407.1 839.1,1414.4 840.1,1412.0 841.1,1410.8 842.1,1410.9 843.1,1406.9 844.1,1408.8 845.1,1402.0 846.1,1403.4 847.1,1397.0 848.1,1395.8 849.1,1395.2 850.1,1389.9 851.1,1390.5 852.1,1388.2 853.1,1386.2 854.1,1387.6 855.1,1377.0 856.1,1374.9 857.1,1380.3 858.1,1379.6 859.1,1374.9 860.1,1383.3 861.1,1389.6 862.1,1390.1 863.1,1401.4 864.1,1403.9 865.1,1400.4 866.1,1402.9 867.1,1407.4 868.1,1410.7 869.1,1404.1 870.1,1410.9 871.1,1410.9 872.1,1409.1 873.1,1410.0 874.1,1410.1 875.1,1404.9 876.1,1409.0 877.1,1406.3 878.1,1403.6 879.1,1406.8 880.1,1410.4 881.1,1400.5 882.1,1399.3 883.1,1398.5 884.1,1408.7 885.1,1400.2 886.1,1399.4 887.1,1395.7 888.3,1396.6 889.1,1391.0 890.1,1399.2 891.1,1400.6 892.1,1394.6 893.1,1398.7 894.1,1399.5 895.1,1397.5 896.1,1394.1 897.1,1392.6 898.1,1389.0 899.1,1383.8 900.1,1380.3 900.8,1372.9 902.1,1372.6 903.1,1379.1 904.1,1377.5 905.1,1377.8 906.1,1372.5 907.1,1374.0 908.1,1384.8 909.1,1388.9 910.1,1392.2 911.1,1397.1 912.1,1397.7 913.1,1406.0 914.1,1409.7 915.1,1413.2 916.1,1409.7 917.1,1410.5 918.1,1409.3 919.1,1417.9 920.1,1419.2 921.1,1411.6 922.1,1414.3 923.1,1413.4 924.1,1411.1 925.1,1405.7 926.1,1411.3 927.1,1414.2 928.1,1407.4 929.1,1409.2 930.1,1404.6 931.1,1415.5 932.1,1412.8 933.1,1411.1 934.1,1409.9 935.1,1408.5 936.1,1410.1 937.1,1409.1 938.1,1409.1 939.1,1408.4 940.1,1407.1 941.1,1409.8 942.1,1398.4 943.1,1402.0 944.1,1397.3 945.1,1393.9 946.1,1388.6 947.1,1394.6 948.1,1384.8 949.1,1380.9 950.1,1380.2 951.1,1371.2 952.1,1372.9 953.1,1370.7 954.1,1371.6 955.0,1367.4 956.1,1366.8 957.1,1374.7 958.1,1373.5 959.1,1376.4 960.1,1377.6 961.1,1386.8 962.1,1386.4 963.1,1397.1 964.1,1404.1 965.1,1399.7 966.1,1407.5 967.1,1399.0 968.1,1402.3 969.1,1400.4 970.1,1397.9 971.1,1393.5 972.1,1392.5 973.1,1391.3 974.1,1386.5 975.1,1391.6 976.1,1393.3 977.1,1383.3 978.1,1390.6 979.1,1388.2 980.1,1388.1 981.1,1392.7 982.1,1387.1 983.1,1382.0 984.1,1379.1 985.0,1376.3 986.1,1381.3 987.1,1378.9 988.1,1384.3 989.1,1390.0 990.1,1405.8 991.1,1415.6 992.1,1411.4 993.1,1411.5 994.1,1405.8 995.1,1407.1 996.1,1407.3 997.1,1399.3 998.1,1409.0 999.1,1398.7 1000.1,1395.4 1001.1,1403.2 1002.1,1403.2 1003.1,1392.7 1004.1,1391.5 1005.1,1399.6 1006.1,1392.5 1007.1,1385.4 1008.1,1389.4 1009.1,1397.4 1010.1,1398.1 1011.1,1403.7 1012.1,1410.0 1013.1,1409.8 1014.1,1408.2 1015.1,1405.7 1016.1,1413.9 1017.1,1409.4 1018.1,1412.3 1019.1,1417.6 1020.1,1413.2 1021.1,1411.1 1022.1,1410.7 1023.1,1412.3 1024.1,1412.4 1025.1,1405.3 1026.1,1410.1 1027.1,1415.0 1028.1,1411.9 1029.1,1407.1 1030.1,1407.3 1031.1,1402.9 1032.1,1407.0 1033.1,1413.5 1034.1,1406.7 1035.1,1402.7 1036.1,1402.1 1037.1,1402.1 1037.8,1401.3 1039.1,1401.5 1040.1,1401.4 1041.1,1407.0 1042.1,1411.0 1043.1,1405.4 1044.1,1406.0 1045.1,1411.7 1046.1,1403.3 1047.1,1406.2 1048.1,1407.0 1049.1,1408.9 1050.1,1407.6 1051.1,1405.9 1052.1,1410.2 1053.1,1405.9 1054.1,1404.6 1055.1,1404.2 1056.1,1413.6 1057.1,1406.1 1058.1,1413.6 1059.1,1414.0 1060.1,1413.8 1061.1,1410.1 1062.1,1408.3 1063.1,1409.8 1064.1,1407.1 1065.1,1404.5 1066.1,1412.7 1067.1,1406.0 1068.1,1414.7 1069.1,1410.7 1070.1,1407.7 1071.1,1410.7 1072.1,1413.3 1073.1,1405.1 1074.1,1404.4 1075.1,1401.8 1076.1,1403.5 1077.1,1402.1 1078.1,1399.8 1079.1,1398.0 1080.1,1399.4 1081.1,1405.6 1082.1,1406.0 1083.1,1403.6 1084.1,1399.7 1085.1,1408.1 1086.1,1409.5 1087.1,1411.9 1088.1,1418.7 1089.1,1415.8 1090.1,1410.1 1091.1,1410.1 1092.1,1417.6 1093.1,1413.9 1094.1,1416.0 1095.1,1412.9 1096.1,1410.2 1097.1,1414.2 1098.1,1418.2 1099.1,1414.1 1100.1,1409.2 1101.1,1411.6 1102.1,1410.9 1103.1,1412.8 1104.1,1415.3 1105.1,1418.2 1106.1,1412.4 1107.1,1409.0 1108.1,1408.6 1109.1,1406.5 1110.1,1403.0 1111.1,1402.5 1112.1,1400.4 1113.1,1393.9 1114.1,1392.5 1115.1,1382.5 1116.1,1373.6 1117.1,1369.7 1118.1,1355.9 1119.1,1352.4 1120.1,1341.1 1121.3,1332.7 1122.1,1333.1 1123.1,1337.5 1124.1,1344.7 1125.1,1342.9 1126.1,1349.9 1127.1,1343.2 1128.1,1352.9 1129.1,1357.3 1130.1,1363.5 1131.1,1376.4 1132.1,1388.4 1133.1,1387.8 1134.1,1392.7 1135.1,1397.2 1136.1,1400.9 1137.1,1398.5 1138.1,1396.7 1139.1,1398.4 1140.1,1399.0 1141.1,1392.6 1142.1,1385.9 1143.1,1386.5 1144.1,1381.6 1145.1,1381.1 1146.1,1371.1 1147.1,1362.1 1148.1,1356.3 1149.1,1326.8 1150.1,1294.5 1151.1,1242.8 1152.1,1193.6 1152.8,1167.7 1154.1,1211.3 1155.1,1242.6 1156.1,1291.0 1157.1,1336.1 1158.1,1365.3 1159.1,1374.4 1160.1,1382.8 1161.1,1391.9 1162.1,1388.4 1163.1,1390.2 1164.1,1387.4 1165.1,1390.7 1166.1,1386.9 1167.1,1380.5 1168.1,1379.9 1169.5,1371.6 1170.1,1370.6 1171.1,1380.6 1172.1,1384.7 1173.1,1388.8 1174.1,1384.1 1175.1,1391.5 1176.1,1390.8 1177.1,1388.6 1178.1,1385.2 1179.1,1384.4 1180.1,1383.9 1180.6,1379.0 1182.1,1397.4 1183.1,1397.3 1184.1,1403.9 1185.1,1402.3 1186.1,1407.9 1187.1,1407.5 1188.1,1406.9 1189.1,1406.3 1190.1,1409.2 1191.1,1411.6 1192.1,1414.7 1193.1,1411.6 1194.1,1404.4 1195.1,1405.8 1196.1,1406.6 1197.1,1404.0 1198.1,1402.1 1199.1,1401.8 1200.1,1397.5 1201.1,1392.1 1202.1,1385.8 1203.1,1388.4 1204.1,1381.7 1205.1,1381.2 1206.1,1372.7 1207.1,1357.4 1208.1,1352.6 1209.1,1344.3 1210.2,1336.4 1211.1,1341.8 1212.1,1338.9 1213.1,1351.1 1214.1,1357.3 1215.1,1373.3 1216.1,1387.1 1217.1,1394.7 1218.1,1399.4 1219.1,1403.2 1220.1,1401.1 1221.1,1404.5 1222.1,1401.3 1223.1,1402.5 1224.1,1406.5 1225.1,1405.9 1226.1,1408.9 1227.1,1418.5 1228.1,1413.8 1229.1,1410.4 1230.1,1407.5 1231.1,1411.4 1232.1,1408.0 1233.1,1404.4 1234.1,1411.9 1235.1,1406.6 1236.2,1406.8 1237.1,1415.0 1238.1,1409.8 1239.1,1410.6 1240.1,1412.6 1241.1,1412.0 1242.1,1410.9 1243.1,1412.2 1244.1,1415.9 1245.1,1410.8 1246.1,1406.7 1247.1,1406.4 1248.1,1406.5 1249.1,1409.2 1250.1,1410.1 1251.1,1409.4 1252.1,1411.1 1253.1,1406.0 1254.1,1408.7 1255.1,1406.4 1256.1,1407.0 1257.1,1398.2 1258.1,1408.3 1259.1,1400.2 1260.1,1402.4 1261.1,1409.4 1262.1,1406.5 1263.1,1414.3 1264.1,1409.9 1265.1,1405.9 1266.1,1409.6 1267.1,1407.6 1268.1,1413.7 1269.1,1413.8 1270.1,1410.8 1271.1,1407.0 1272.1,1408.4 1273.1,1411.3 1274.1,1405.2 1275.1,1405.1 1276.1,1410.0 1277.1,1409.3 1278.1,1405.9 1279.1,1405.4 1280.1,1399.7 1281.1,1409.4 1282.1,1404.9 1283.1,1400.4 1284.1,1401.0 1285.1,1401.4 1286.1,1409.4 1287.1,1405.6 1288.1,1398.5 1289.1,1408.2 1290.1,1405.9 1291.1,1397.6 1292.1,1393.4 1293.1,1402.9 1294.1,1397.3 1295.1,1398.2 1296.1,1394.4 1297.1,1396.2 1298.1,1392.9 1299.1,1386.7 1300.1,1379.6 1301.1,1374.5 1302.1,1369.0 1303.1,1355.9 1304.1,1362.2 1305.1,1354.4 1306.1,1353.6 1306.6,1351.2 1308.1,1357.3 1309.1,1360.0 1310.1,1365.8 1311.1,1359.8 1312.1,1366.5 1313.1,1379.9 1314.1,1378.9 1315.1,1385.0 1316.1,1380.9 1317.1,1385.1 1318.1,1387.6 1319.1,1385.0 1320.1,1379.6 1321.1,1380.7 1322.1,1377.5 1323.3,1369.8 1324.1,1373.3 1325.1,1375.7 1326.1,1377.1 1327.1,1379.0 1328.1,1383.4 1329.1,1381.3 1330.1,1377.7 1331.1,1378.0 1332.1,1373.6 1333.1,1361.0 1334.1,1348.5 1335.1,1341.6 1336.1,1319.0 1337.1,1301.8 1338.1,1292.2 1339.1,1285.1 1340.0,1273.4 1341.1,1283.9 1342.1,1283.2 1343.1,1292.2 1344.1,1293.3 1345.1,1307.9 1346.1,1327.7 1347.1,1344.3 1348.1,1360.1 1349.1,1376.1 1350.1,1374.9 1351.1,1374.8 1352.1,1372.6 1353.1,1374.2 1354.1,1376.0 1355.1,1373.9 1356.1,1376.7 1357.1,1365.8 1358.1,1344.7 1359.1,1339.2 1360.1,1328.5 1361.1,1324.5 1362.1,1311.3 1362.9,1311.1 1364.1,1318.4 1365.1,1319.3 1366.1,1326.1 1367.1,1332.9 1368.1,1330.4 1369.1,1334.5 1370.1,1326.7 1371.1,1325.6 1371.7,1325.2 1373.1,1333.3 1374.1,1345.3 1375.1,1362.5 1376.1,1369.9 1377.1,1382.3 1378.1,1384.5 1379.1,1391.2 1380.1,1401.9 1381.1,1400.5 1382.1,1401.2 1383.1,1389.2 1384.1,1390.4 1385.1,1387.7 1386.1,1383.7 1387.1,1383.0 1388.1,1380.5 1389.1,1375.3 1390.1,1371.3 1391.1,1374.2 1392.1,1369.2 1392.8,1367.3 1394.1,1376.9 1395.1,1377.2 1396.1,1377.6 1397.1,1383.7 1398.1,1391.0 1399.1,1390.9 1400.1,1396.7 1401.1,1394.4 1402.1,1396.1 1403.1,1395.0 1404.1,1397.9 1405.1,1400.3 1406.1,1394.2 1407.1,1392.7 1408.1,1389.8 1409.1,1393.2 1410.1,1384.4 1411.1,1385.6 1412.1,1388.3 1413.1,1387.6 1414.1,1379.9 1415.1,1381.4 1416.1,1369.6 1417.4,1372.6 1418.1,1376.3 1419.1,1375.1 1420.1,1377.0 1421.1,1384.7 1422.1,1390.8 1423.1,1394.8 1424.1,1392.7 1425.1,1391.4 1426.1,1387.9 1427.1,1377.9 1428.1,1377.8 1429.1,1374.4 1430.1,1377.0 1431.1,1369.8 1432.1,1372.3 1433.1,1367.0 1434.1,1371.4 1435.1,1362.7 1436.1,1361.2 1437.1,1359.2 1438.1,1358.3 1439.1,1363.1 1440.1,1346.3 1441.1,1336.1 1442.1,1329.3 1443.1,1320.7 1444.1,1300.4 1445.1,1291.1 1446.1,1276.0 1447.1,1238.3 1448.1,1200.5 1449.1,1160.0 1450.1,1104.5 1451.1,1045.6 1452.1,994.0 1453.1,936.3 1453.9,880.8 1455.1,940.0 1456.1,985.6 1457.1,1043.4 1458.1,1103.3 1459.1,1160.3 1460.1,1204.4 1461.1,1249.5 1462.1,1280.9 1463.1,1300.6 1464.1,1328.2 1465.1,1325.6 1466.1,1328.7 1467.1,1330.6 1468.1,1331.3 1469.1,1331.8 1470.1,1334.1 1471.1,1328.4 1472.1,1326.2 1473.1,1324.0 1474.1,1318.0 1475.1,1314.0 1476.0,1309.4 1477.1,1317.2 1478.1,1331.2 1479.1,1346.3 1480.1,1353.1 1481.1,1361.4 1482.1,1367.1 1483.1,1373.5 1484.1,1373.3 1485.1,1384.2 1486.1,1381.7 1487.1,1384.9 1488.1,1379.1 1489.1,1377.3 1490.1,1374.8 1491.1,1374.8 1492.1,1367.7 1493.1,1369.9 1494.1,1368.3 1495.1,1369.3 1496.1,1363.8 1497.1,1367.9 1498.1,1376.9 1499.1,1373.1 1500.1,1381.1 1501.1,1380.2 1502.1,1384.9 1503.1,1390.0 1504.1,1394.7 1505.1,1393.7 1506.1,1394.9 1507.1,1403.7 1508.1,1400.3 1509.1,1402.9 1510.1,1404.1 1511.1,1404.3 1512.1,1401.8 1513.1,1403.0 1514.1,1399.2 1515.1,1405.5 1516.1,1404.2 1517.1,1406.3 1518.1,1413.1 1519.1,1410.1 1520.1,1408.6 1521.1,1402.4 1522.1,1407.4 1523.1,1408.2 1524.1,1399.1 1525.1,1401.4 1526.1,1396.8 1527.1,1396.3 1528.1,1393.9 1529.1,1388.3 1530.1,1390.1 1531.1,1381.4 1532.1,1382.8 1533.1,1373.8 1534.1,1362.9 1535.1,1360.9 1536.1,1357.4 1536.8,1355.1 1538.1,1362.2 1539.1,1366.0 1540.1,1371.4 1541.1,1372.9 1542.1,1378.6 1543.1,1384.5 1544.1,1391.8 1545.1,1394.6 1546.1,1406.4 1547.1,1399.4 1548.1,1396.9 1549.1,1397.4 1550.1,1397.3 1551.1,1397.9 1552.1,1393.1 1553.1,1386.2 1554.1,1386.4 1555.1,1389.4 1556.1,1386.1 1557.1,1387.0 1558.1,1383.4 1559.1,1389.5 1560.1,1391.6 1561.1,1393.2 1562.1,1392.8 1563.1,1389.8 1564.1,1393.3 1565.1,1401.2 1566.1,1405.4 1567.1,1400.2 1568.1,1407.6 1569.1,1413.1 1570.1,1413.0 1571.1,1408.8 1572.1,1411.9 1573.1,1409.5 1574.1,1408.3 1575.1,1412.0 1576.1,1411.6 1577.1,1406.0 1578.1,1404.3 1579.1,1403.1 1580.1,1402.7 1581.1,1411.2 1582.1,1412.8 1583.1,1407.6 1584.1,1410.5 1585.1,1405.3 1586.1,1407.6 1587.1,1411.0 1588.1,1409.4 1589.1,1408.6 1590.1,1403.8 1591.1,1404.8 1592.1,1408.3 1593.1,1408.2 1594.1,1410.0 1595.1,1409.6 1596.1,1411.0 1597.1,1411.0 1598.1,1411.5 1599.1,1409.3 1600.1,1406.5 1601.1,1406.5 1602.1,1409.3 1603.1,1404.9 1604.1,1401.7 1605.1,1400.7 1606.1,1403.9 1607.1,1404.0 1608.1,1405.3 1609.1,1399.8 1610.1,1404.4 1611.1,1398.4 1612.1,1398.0 1613.1,1396.3 1614.1,1399.1 1615.1,1400.0 1616.1,1396.0 1617.1,1393.9 1618.1,1390.0 1619.1,1395.7 1620.1,1395.1 1621.1,1396.6 1622.1,1396.2 1623.1,1396.5 1624.1,1398.9 1625.1,1402.6 1626.1,1405.2 1627.1,1403.2 1628.1,1405.3 1629.1,1404.6 1630.1,1405.1 1631.1,1401.5 1632.1,1408.5 1633.1,1407.6 1634.1,1410.3 1635.1,1403.9 1636.1,1406.2 1637.1,1402.9 1638.1,1406.5 1639.1,1405.4 1640.1,1407.9 1641.1,1405.3 1642.1,1407.8 1643.1,1404.2 1644.1,1407.6 1645.1,1404.8 1646.1,1404.4 1647.1,1406.0 1648.1,1406.9 1649.1,1401.4 1650.1,1401.1 1651.1,1406.4 1652.1,1405.6 1653.1,1399.5 1654.1,1400.5 1655.1,1403.4 1656.1,1406.8 1657.1,1406.4 1658.1,1408.9 1659.1,1409.4 1660.1,1412.7 1661.1,1401.3 1662.1,1405.7 1663.1,1409.1 1664.1,1401.9 1665.1,1401.4 1666.1,1406.4 1667.1,1408.9 1668.1,1408.5 1669.1,1398.3 1670.1,1399.1 1671.1,1401.7 1672.1,1399.5 1673.1,1401.3 1674.1,1399.8 1675.1,1404.0 1676.1,1397.5 1677.1,1397.3 1678.1,1396.1 1679.1,1397.6 1680.1,1388.0 1681.1,1389.8 1682.1,1383.4 1683.1,1378.6 1684.1,1383.9 1685.1,1379.0 1686.1,1379.0 1687.1,1372.7 1688.1,1371.2 1689.1,1366.9 1690.1,1365.5 1691.1,1359.7 1692.1,1363.6 1692.9,1356.0 1694.1,1366.5 1695.1,1364.9 1696.1,1372.5 1697.1,1374.5 1698.1,1379.6 1699.1,1386.6 1700.1,1386.0 1701.1,1386.3 1702.1,1393.7 1703.1,1396.7 1704.1,1388.5 1705.1,1399.8 1706.1,1401.1 1707.1,1393.2 1708.1,1399.2 1709.1,1403.3 1710.1,1398.1 1711.1,1401.4 1712.1,1400.4 1713.1,1401.4 1714.1,1401.3 1715.1,1396.0 1716.1,1394.4 1717.1,1395.4 1718.1,1392.4 1719.1,1386.5 1720.1,1384.0 1721.1,1368.4 1722.1,1369.1 1723.1,1366.8 1724.1,1366.0 1725.1,1368.5 1726.1,1369.3 1727.1,1377.3 1728.1,1373.7 1729.1,1374.0 1730.1,1379.3 1731.1,1379.9 1732.1,1374.6 1733.1,1384.6 1734.1,1390.3 1735.1,1389.8 1736.1,1396.4 1737.1,1395.2 1738.1,1397.2 1739.1,1390.3 1740.1,1388.7 1741.1,1392.5 1742.1,1394.3 1743.1,1397.2 1744.1,1391.6 1745.1,1389.5 1746.1,1395.2 1747.1,1393.4 1748.1,1399.9 1749.1,1394.9 1750.1,1389.9 1751.1,1394.5 1752.1,1394.9 1753.1,1394.5 1754.1,1397.3 1755.1,1398.5 1756.1,1400.4 1757.1,1399.4 1758.1,1402.3 1759.1,1402.2 1760.1,1401.4 1761.1,1401.3 1762.1,1394.6 1763.1,1395.1 1764.1,1397.5 1765.1,1401.0 1766.1,1395.4 1767.1,1398.6 1768.1,1400.2 1769.1,1404.9 1770.1,1398.6 1771.1,1395.3 1772.1,1399.6 1773.1,1395.9 1774.1,1393.5 1775.1,1397.1 1776.1,1389.9 1777.1,1392.3 1778.1,1390.6 1779.1,1391.8 1780.1,1384.0 1781.1,1382.3 1782.1,1385.2 1783.1,1385.6 1784.1,1386.6 1785.1,1385.2 1786.1,1387.8 1787.1,1388.9 1788.1,1389.0 1789.1,1386.6 1790.1,1395.2 1791.1,1388.2 1792.1,1394.0 1793.1,1399.1 1794.1,1395.9 1795.1,1402.6 1796.1,1404.8 1797.1,1404.0 1798.1,1400.6 1799.1,1402.6 1800.1,1398.1 1801.1,1401.2 1802.1,1401.6 1803.1,1400.7 1804.1,1401.2 1805.1,1400.3 1806.1,1395.0 1807.1,1401.5 1808.1,1400.1 1809.1,1404.6 1810.1,1399.2 1811.1,1396.1 1812.1,1397.6 1813.1,1395.7 1814.1,1392.6 1815.1,1391.6 1816.1,1388.5 1817.1,1395.2 1818.1,1401.6 1819.1,1392.1 1820.1,1396.7 1821.1,1403.6 1822.1,1400.8 1823.1,1400.5 1824.1,1392.2 1825.1,1395.3 1826.1,1397.8 1827.1,1397.0 1828.1,1395.1 1829.1,1390.3 1830.1,1393.9 1831.1,1387.3 1832.1,1387.2 1833.1,1385.4 1834.1,1392.7 1835.1,1385.8 1836.1,1386.3 1837.1,1378.1 1838.1,1388.4 1839.1,1386.4 1840.1,1379.6 1841.1,1379.8 1842.1,1390.2 1843.1,1381.9 1844.1,1390.8 1845.1,1383.4 1846.1,1377.9 1847.1,1388.4 1848.1,1386.5 1849.1,1387.1 1850.1,1383.3 1851.1,1384.2 1852.1,1388.0 1853.1,1382.3 1854.1,1380.0 1855.1,1392.2 1856.1,1390.3 1857.1,1399.3 1858.1,1396.7 1859.1,1397.7 1860.1,1399.2 1861.1,1393.8 1862.1,1405.4 1863.1,1400.5 1864.1,1402.8 1865.1,1408.9 1866.1,1405.5 1867.1,1408.8 1868.1,1407.9 1869.1,1409.4 1870.1,1407.5 1871.1,1410.0 1872.1,1405.3 1873.1,1407.1 1874.1,1403.0 1875.1,1408.8 1876.1,1397.7 1877.1,1404.9 1878.1,1405.2 1879.1,1404.8 1880.1,1403.3 1881.1,1407.3 1882.1,1409.5 1883.1,1400.5 1884.1,1396.0 1885.1,1398.3 1886.1,1398.8 1887.1,1400.7 1888.1,1400.6 1889.2,1400.5 1890.1,1399.5 1891.1,1401.3 1892.1,1402.3 1893.1,1399.7 1894.1,1402.1 1895.1,1410.7 1896.1,1403.9 1897.1,1401.7 1898.1,1398.4 1899.1,1409.2 1900.1,1405.4 1901.1,1405.0 1902.1,1414.6 1903.1,1412.7 1904.1,1403.1 1905.1,1407.2 1906.1,1411.2 1907.1,1410.4 1908.1,1403.9 1909.1,1412.9 1910.1,1412.8 1911.1,1403.1 1912.1,1400.7 1913.1,1401.6 1914.1,1407.9 1915.1,1408.9 1916.1,1405.8 1917.1,1403.0 1918.1,1404.3 1919.1,1406.1 1920.1,1400.1 1921.1,1398.3 1922.1,1403.2 1923.1,1407.1 1924.1,1403.5 1925.1,1403.2 1926.1,1400.3 1927.1,1405.3 1928.1,1396.7 1929.1,1401.8 1930.1,1400.0 1931.1,1401.3 1932.1,1398.6 1933.1,1403.9 1934.1,1401.1 1935.1,1399.3 1936.1,1402.7 1937.1,1400.7 1938.1,1399.1 1939.1,1398.7 1940.1,1402.9 1941.1,1397.3 1942.1,1399.4 1943.1,1399.2 1944.1,1400.9 1945.1,1399.1 1946.1,1405.8 1947.1,1391.8 1948.1,1397.8 1949.1,1394.3 1950.1,1396.4 1951.1,1386.2 1952.1,1393.8 1953.1,1383.9 1954.1,1389.1 1955.1,1387.7 1956.1,1385.9 1957.1,1383.1 1958.1,1382.5 1959.1,1385.2 1960.1,1383.1 1961.1,1379.8 1962.1,1380.8 1963.1,1389.7 1964.1,1390.3 1965.1,1389.9 1966.1,1389.0 1967.1,1390.6 1968.1,1391.5 1969.1,1391.3 1970.1,1388.5 1971.1,1389.3 1972.1,1388.5 1973.1,1394.0 1974.1,1391.8 1975.1,1396.0 1976.1,1402.2 1977.1,1398.3 1978.1,1404.1 1979.1,1407.5 1980.1,1398.2 1981.1,1400.9 1982.1,1407.2 1983.1,1403.5 1984.1,1407.6 1985.1,1408.2 1986.1,1404.4 1987.1,1408.8 1988.1,1411.8 1989.1,1409.4 1990.1,1403.6 1991.1,1406.0 1992.1,1404.9 1993.1,1411.7 1994.1,1406.1 1995.1,1404.6 1996.1,1407.1 1997.1,1408.7 1998.1,1405.9 1999.1,1407.4 2000.1,1405.8 2001.1,1406.9 2002.1,1406.4 2003.1,1402.9 2004.1,1399.3 2005.1,1400.8 2006.1,1395.4 2007.1,1400.5 2008.1,1396.9 2009.1,1395.3 2010.1,1386.2 2011.1,1399.3 2012.1,1396.7 2013.1,1395.9 2014.1,1392.0 2015.1,1393.5 2016.1,1398.1 2017.1,1388.7 2018.1,1393.0 2019.1,1392.3 2020.1,1390.6 2021.1,1391.0 2022.1,1386.5 2023.1,1391.2 2024.1,1384.0 2025.1,1393.0 2026.1,1388.8 2027.1,1382.5 2028.1,1377.7 2029.1,1386.5 2030.1,1389.5 2031.1,1386.4 2032.1,1396.7 2033.1,1393.9 2034.1,1393.3 2035.1,1391.6 2036.1,1396.7 2037.1,1397.5 2038.1,1401.2 2039.1,1403.5 2040.1,1401.2 2041.1,1403.6 2042.1,1407.7 2043.1,1406.1 2044.1,1403.7 2045.1,1406.6 2046.1,1403.0 2047.1,1406.2 2048.1,1405.0 2049.1,1401.4 2050.1,1406.9 2051.1,1405.3 2052.1,1407.4 2053.1,1400.9 2054.1,1408.8 2055.1,1409.0 2056.1,1404.2 2057.1,1405.1 2058.1,1405.7 2059.1,1405.5 2060.1,1408.3 2061.1,1403.4 2062.1,1402.1 2063.1,1405.1 2064.1,1412.0 2065.1,1404.5 2066.1,1402.3 2067.1,1402.4 2068.1,1405.7 2069.1,1408.7 2070.1,1402.4 2071.1,1405.1 2072.1,1405.1 2073.1,1405.7 2074.1,1404.5 2075.1,1407.2 2076.1,1405.8 2077.1,1401.4 2078.1,1410.1 2079.1,1398.7 2080.1,1398.6 2081.1,1406.0 2082.1,1403.1 2083.1,1401.5 2084.1,1402.7 2085.1,1404.1 2086.1,1400.4 2087.1,1399.5 2088.1,1397.7 2089.1,1396.2 2090.1,1394.2 2091.1,1398.4 2092.1,1393.5 2093.1,1392.2 2094.1,1386.6 2095.1,1389.6 2096.1,1381.3 2097.1,1388.5 2098.1,1389.9 2099.1,1386.5 2100.1,1385.8 2101.1,1391.4 2102.1,1388.2 2103.1,1388.7 2104.1,1393.2 2105.1,1391.5 2106.1,1396.3 2107.1,1405.0 2108.1,1398.9 2109.1,1404.3 2110.1,1398.2 2111.1,1402.1 2112.1,1401.1 2113.1,1401.7 2114.1,1404.8 2115.1,1409.5 2116.1,1402.4 2117.1,1407.2 2118.1,1404.3 2119.1,1405.8 2120.1,1402.1 2121.1,1401.5 2122.1,1403.4 2123.1,1401.7 2124.1,1403.6 2125.1,1399.2 2126.1,1401.6 2127.1,1401.1 2128.1,1405.2 2129.1,1403.9 2130.1,1398.9 2131.1,1394.6 2132.1,1397.1 2133.1,1396.7 2134.1,1392.4 2135.1,1389.3 2136.1,1385.2 2136.8,1390.1 2138.1,1397.3 2139.1,1391.2 2140.1,1393.9 2141.1,1394.7 2142.1,1395.8 2143.1,1397.5 2144.1,1389.4 2145.1,1396.2 2146.1,1398.7 2147.1,1398.0 2148.1,1402.6 2149.1,1397.9 2150.1,1402.4 2151.1,1405.5 2152.1,1399.4 2153.1,1400.7 2154.1,1400.0 2155.1,1403.8 2156.1,1394.9 2157.1,1397.4 2158.1,1401.5 2159.1,1405.6 2160.1,1404.0 2161.1,1398.8 2162.1,1405.9 2163.1,1400.4 2164.1,1397.3 2165.1,1400.3 2166.1,1402.1 2167.1,1397.0 2168.1,1391.6 2169.1,1394.0 2170.1,1395.9 2171.1,1398.9 2172.1,1392.9 2173.1,1397.2 2174.1,1392.8 2175.1,1397.1 2176.1,1392.9 2177.1,1395.9 2178.1,1392.7 2179.1,1394.7 2180.1,1393.0 2181.1,1392.1 2182.1,1402.4 2183.1,1402.2 2184.1,1400.0 2185.1,1397.3 2186.1,1403.2 2187.0,1403.2"/>
</g>
<text class="ser" x="322.4" y="1458.5" font-size="76.5" text-anchor="end">0</text>
<text class="ser" x="322.4" y="1266.0" font-size="76.5" text-anchor="end">500</text>
<text class="ser" x="322.4" y="1072.0" font-size="76.5" text-anchor="end">1000</text>
<text class="ser" x="322.4" y="879.0" font-size="76.5" text-anchor="end">1500</text>
<text class="ser" x="322.4" y="686.0" font-size="76.5" text-anchor="end">2000</text>
<text class="ser" x="322.4" y="493.0" font-size="76.5" text-anchor="end">2500</text>
<text class="ser" x="322.4" y="300.0" font-size="76.5" text-anchor="end">3000</text>
<text class="ser" x="322.4" y="106.6" font-size="76.5" text-anchor="end">3500</text>
<text class="ser" x="468.0" y="1638.5" font-size="76.5" text-anchor="middle">5</text>
<text class="ser" x="712.8" y="1638.5" font-size="76.5" text-anchor="middle">10</text>
<text class="ser" x="957.6" y="1638.5" font-size="76.5" text-anchor="middle">15</text>
<text class="ser" x="1202.4" y="1638.5" font-size="76.5" text-anchor="middle">20</text>
<text class="ser" x="1447.2" y="1638.5" font-size="76.5" text-anchor="middle">25</text>
<text class="ser" x="1692.0" y="1638.5" font-size="76.5" text-anchor="middle">30</text>
<text class="ser" x="1936.8" y="1638.5" font-size="76.5" text-anchor="middle">35</text>
<text class="ser" x="2181.6" y="1638.5" font-size="76.5" text-anchor="middle">40</text>
<text class="ser" x="1276.4" y="1761.7" font-size="76.5" text-anchor="middle">2θ/ Degree</text>
<text class="ser" x="86.0" y="765.9" font-size="76.5" text-anchor="middle" textLength="423.3" lengthAdjust="spacing" transform="rotate(-90 86.0 765.9)">Intensity (a.u)</text>
<text class="ser" x="406.8" y="191.7" font-size="76.5" text-anchor="start">a</text>
<text class="ser" x="406.0" y="425.8" font-size="76.5" text-anchor="start">b</text>
<text class="ser" x="412.0" y="655.1" font-size="76.5" text-anchor="start">c</text>
<text class="ser" x="407.8" y="818.0" font-size="76.5" text-anchor="start">d</text>
<text class="ser" x="431.5" y="1338.0" font-size="76.5" text-anchor="start">e</text>
<text class="san" transform="translate(701.0 165.6) scale(1 1.04)" font-size="49" text-anchor="start">11.14</text>
<text class="san" transform="translate(1305.6 139.2) scale(1 1.04)" font-size="49" text-anchor="start">24.84</text>
<text class="san" transform="translate(628.0 326.5) scale(1 1.04)" font-size="49" text-anchor="start">11.08</text>
<text class="san" transform="translate(1405.2 305.4) scale(1 1.04)" font-size="49" text-anchor="start">26.92</text>
<text class="san" transform="translate(1472.2 521.9) scale(1 1.04)" font-size="49" text-anchor="start">24.72</text>
<text class="san" transform="translate(1275.4 746.8) scale(1 1.04)" font-size="49" text-anchor="start">20.42</text>
<text class="san" transform="translate(1484.5 942.6) scale(1 1.04)" font-size="49" text-anchor="start">25.14</text>
</svg>
</body>
</html>
